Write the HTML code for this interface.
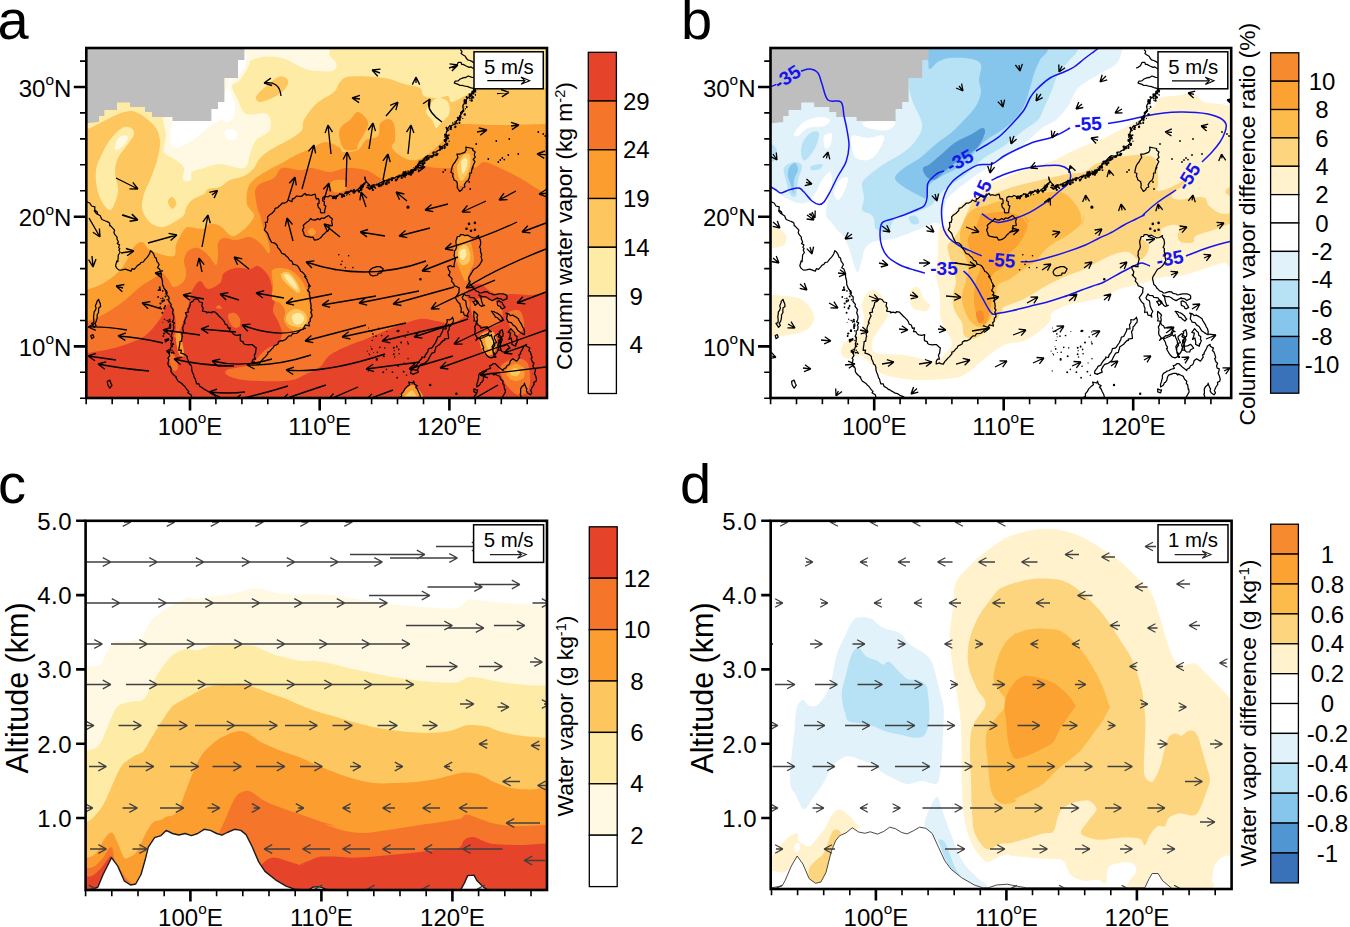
<!DOCTYPE html>
<html><head><meta charset="utf-8"><title>Figure</title>
<style>html,body{margin:0;padding:0;background:#fff}svg{display:block}</style></head>
<body>
<svg width="1350" height="927" viewBox="0 0 1350 927" font-family='"Liberation Sans", sans-serif' fill="#000">
<rect width="1350" height="927" fill="#fff"/>
<defs>
<clipPath id="ca"><rect x="86.3" y="48" width="460.7" height="350"/></clipPath>
<clipPath id="cb"><rect x="770.5" y="48" width="460.7" height="350"/></clipPath>
<clipPath id="cc"><rect x="85.6" y="520.8" width="461.4" height="369.2"/></clipPath>
<clipPath id="cd"><rect x="770.7" y="520.8" width="460.9" height="368.2"/></clipPath>
</defs>
<g clip-path="url(#ca)">
<rect x="86.3" y="48" width="460.7" height="350" fill="#fdc65e"/>
<path d="M80,129C82.9,129 84.3,130 87.6,129C90.9,128 95.3,125.3 100,123C104.7,120.7 111,117 116,115C121,113 126,111.2 130,111C134,110.8 137,112.5 140,114C143,115.5 145.3,117.7 148,120C150.7,122.3 154,124.7 156,128C158,131.3 159.5,136 160,140C160.5,144 159.7,148 159,152C158.3,156 157.5,159.3 156,164C154.5,168.7 152,175 150,180C148,185 145.3,189.3 144,194C142.7,198.7 141.5,203.8 142,208C142.5,212.2 145,216.2 147,219C149,221.8 151.2,223.7 154,225C156.8,226.3 160.3,227.7 164,227C167.7,226.3 172.7,223 176,221C179.3,219 182.3,217.2 184,215C185.7,212.8 184.7,210.5 186,208C187.3,205.5 189,202.3 192,200C195,197.7 201.3,195.8 204,194C206.7,192.2 205.3,190.2 208,189C210.7,187.8 216.3,188.5 220,187C223.7,185.5 226,181.8 230,180C234,178.2 240,178 244,176C248,174 251.3,171 254,168C256.7,165 257,161.2 260,158C263,154.8 266.7,152.3 272,149C277.3,145.7 287,141.2 292,138C297,134.8 300,133 302,130C304,127 301.7,124.3 304,120C306.3,115.7 311,108.7 316,104C321,99.3 330,95.7 334,92C338,88.3 337.3,84.6 340,82C342.7,79.4 342.7,77.1 350,76.4C357.3,75.7 375,76.7 384,78C393,79.3 398,82.3 404,84C410,85.7 416.7,86 420,88C423.3,90 421,94.3 424,96C427,97.7 434,98 438,98C442,98 445.7,95.3 448,96C450.3,96.7 448.7,102.3 452,102C455.3,101.7 464,96 468,94C472,92 470.7,90.9 476,90C481.3,89.1 488,88.9 500,88.6C512,88.3 538,88.1 548,88C558,87.9 558,97.7 560,88C562,78.3 641.7,39.7 560,30C478.3,20.3 151.7,13.5 70,30C-11.7,46.5 68.3,112.5 70,129C71.7,145.5 77.1,129 80,129Z" fill="#feeca6"/>
<path d="M245,48C247.3,50.3 250.8,56.7 250,62C249.2,67.3 243,76 240,80C237,84 232.3,82.7 232,86C231.7,89.3 235.7,95.3 238,100C240.3,104.7 241.2,111.7 246,114C250.8,116.3 263,111.3 267,114C271,116.7 271.8,125.7 270,130C268.2,134.3 259.3,136 256,140C252.7,144 252,149.3 250,154C248,158.7 249,166.3 244,168C239,169.7 226.7,164 220,164C213.3,164 208.7,166.7 204,168C199.3,169.3 194.2,170 192,172C189.8,174 192.5,178.7 191,180C189.5,181.3 184.2,182 183,180C181.8,178 185.2,171.3 184,168C182.8,164.7 179.3,162.7 176,160C172.7,157.3 165.7,156 164,152C162.3,148 166,140.7 166,136C166,131.3 164,127.3 164,124C164,120.7 160,119 166,116C172,113 191,112 200,106C209,100 214,89.7 220,80C226,70.3 231.8,53.3 236,48C240.2,42.7 242.7,45.7 245,48Z" fill="#fff9e3"/>
<path d="M245,46C257.5,42.8 305.8,44.3 320,46C334.2,47.7 327.3,53 330,56C332.7,59 336.1,61.5 336.4,64C336.7,66.5 336.1,69.9 332,71C327.9,72.1 317.3,71.3 312,70.6C306.7,69.9 304.7,68.6 300,66.6C295.3,64.6 289.7,60.3 284,58.6C278.3,56.9 271.3,56.4 266,56.6C260.7,56.8 255.5,58.6 252,60C248.5,61.4 246.2,67.3 245,65C243.8,62.7 232.5,49.2 245,46Z" fill="#fff9e3"/>
<path d="M244.4,52C245.9,53.3 247.7,56.3 247,60C246.3,63.7 242.5,70.7 240,74C237.5,77.3 233.7,77.7 232,80C230.3,82.3 229.5,83.7 230,88C230.5,92.3 234.3,101.3 235,106C235.7,110.7 235.2,113.3 234,116C232.8,118.7 230.3,121.3 228,122C225.7,122.7 223.3,119 220,120C216.7,121 211.7,125.3 208,128C204.3,130.7 201.7,133.3 198,136C194.3,138.7 190,142 186,144C182,146 176.7,149.3 174,148C171.3,146.7 170.3,140 170,136C169.7,132 171.7,127.3 172.4,124C173.1,120.7 166.1,120 174,116C181.9,112 209.3,110.7 220,100C230.7,89.3 233.9,60 238,52C242.1,44 242.9,50.7 244.4,52Z" fill="#ffffff"/>
<path d="M225,131C226.1,129.8 230,128.7 232,129C234,129.3 236.3,131.3 237,133C237.7,134.7 237.3,137.8 236,139C234.7,140.2 230.7,140.5 229,140C227.3,139.5 226.3,137.5 225.6,136C224.9,134.5 223.9,132.2 225,131Z" fill="#ffffff"/>
<path d="M122,128C125.5,126 129,127 131,128C133,129 134.5,131.3 134,134C133.5,136.7 130.7,140 128,144C125.3,148 120.2,153.3 118,158C115.8,162.7 115,167 115,172C115,177 117.8,183.3 118,188C118.2,192.7 117.3,196.3 116,200C114.7,203.7 112.3,209.7 110,210C107.7,210.3 104.2,205.7 102,202C99.8,198.3 98,193.3 97,188C96,182.7 95.2,175.7 96,170C96.8,164.3 99.7,159 102,154C104.3,149 106.7,144.3 110,140C113.3,135.7 118.5,130 122,128Z" fill="#feeca6"/>
<path d="M117,140C118.3,137.8 121.2,136.1 123,135.6C124.8,135.1 127.7,135.6 128,137C128.3,138.4 126.5,142 125,144C123.5,146 120.7,148.2 119,149C117.3,149.8 115.3,150.5 115,149C114.7,147.5 115.7,142.2 117,140Z" fill="#fff9e3"/>
<path d="M256,97C256.7,94.7 260.3,91.3 264,88C267.7,84.7 274.3,78.7 278,77C281.7,75.3 284.3,76.8 286,78C287.7,79.2 288.7,81.7 288,84C287.3,86.3 284.7,89.7 282,92C279.3,94.3 275.7,96.3 272,98C268.3,99.7 262.7,102.2 260,102C257.3,101.8 255.3,99.3 256,97Z" fill="#fdc65e"/>
<path d="M168,202C167.9,200 170.6,196.8 172,197C173.4,197.2 176.3,201 176.4,203C176.5,205 173.8,209.2 172.4,209C171,208.8 168.1,204 168,202Z" fill="#fdc65e"/>
<path d="M438,98C441,97.7 446.2,99.3 448,102C449.8,104.7 450.3,110.3 449,114C447.7,117.7 442.2,121.7 440,124C437.8,126.3 437.3,128.7 436,128C434.7,127.3 433.7,122.7 432,120C430.3,117.3 426.3,114.7 426,112C425.7,109.3 428,106.3 430,104C432,101.7 435,98.3 438,98Z" fill="#feeca6"/>
<path d="M80,289.4C82.9,289.4 83.9,290.3 87.6,289.4C91.3,288.5 97.4,286.4 102,284C106.6,281.6 111.3,278.2 115,275C118.7,271.8 120.8,269.7 124,265C127.2,260.3 131,250.8 134,247C137,243.2 139.5,241.7 142,242C144.5,242.3 146,247 149,249C152,251 155.8,252.8 160,254C164.2,255.2 171.3,257.5 174,256C176.7,254.5 174.7,248.8 176,245C177.3,241.2 180,236 182,233C184,230 184.7,227.7 188,227C191.3,226.3 198.3,229.5 202,229C205.7,228.5 207,224.5 210,224C213,223.5 216.3,224 220,226C223.7,228 228.3,235.2 232,236C235.7,236.8 239,233.2 242,231C245,228.8 248,225.7 250,223C252,220.3 254.5,218.2 254,215C253.5,211.8 248,208.5 247,204C246,199.5 246.5,192.3 248,188C249.5,183.7 252,181.3 256,178C260,174.7 267.7,170.5 272,168C276.3,165.5 278,165.2 282,163C286,160.8 291,157.5 296,155C301,152.5 307,150.2 312,148C317,145.8 321.3,142 326,142C330.7,142 337.2,146.3 340,148C342.8,149.7 340,151.7 343,152C346,152.3 354.2,152 358,150C361.8,148 362.7,142.3 366,140C369.3,137.7 375.7,138.7 378,136C380.3,133.3 378.3,126.8 380,124C381.7,121.2 385.7,119 388,119C390.3,119 392.8,120.5 394,124C395.2,127.5 395.3,136 395,140C394.7,144 390.5,145 392,148C393.5,151 400,156 404,158C408,160 412,160.7 416,160C420,159.3 423.3,157.3 428,154C432.7,150.7 440,144.3 444,140C448,135.7 449.3,130.7 452,128C454.7,125.3 452,124.5 460,124C468,123.5 485.3,125 500,125C514.7,125 538,124.2 548,124C558,123.8 558,75.5 560,124C562,172.5 641.7,366.5 560,415C478.3,463.5 151.7,435.9 70,415C-11.7,394.1 68.3,310.3 70,289.4C71.7,268.5 77.1,289.4 80,289.4Z" fill="#fc9d2f"/>
<path d="M358,112C361,112.3 367,118.3 368,122C369,125.7 365.7,130.3 364,134C362.3,137.7 359.3,141.4 358,144C356.7,146.6 358.3,148.8 356,149.6C353.7,150.4 346.8,151.6 344,149C341.2,146.4 339.3,137.8 339,134C338.7,130.2 340.2,128.3 342,126C343.8,123.7 347.3,122.3 350,120C352.7,117.7 355,111.7 358,112Z" fill="#fc9d2f"/>
<path d="M80,321C82.9,321 83.3,322.3 87.6,321C91.9,319.7 99.9,316.3 106,313C112.1,309.7 118.3,305.3 124,301C129.7,296.7 134.7,291 140,287C145.3,283 152.3,279.3 156,277C159.7,274.7 160,272.7 162,273C164,273.3 166,276.7 168,279C170,281.3 171.3,286.7 174,287C176.7,287.3 182,283.7 184,281C186,278.3 186,274.3 186,271C186,267.7 183.7,264.3 184,261C184.3,257.7 185.7,253.2 188,251C190.3,248.8 194.7,247.3 198,248C201.3,248.7 205,252.2 208,255C211,257.8 214.3,265 216,265C217.7,265 217.7,258.7 218,255C218.3,251.3 217,245.8 218,243C219,240.2 221,238.5 224,238C227,237.5 231.7,240.2 236,240C240.3,239.8 245.7,236.2 250,237C254.3,237.8 259,242.3 262,245C265,247.7 266.7,252.3 268,253C269.3,253.7 270.3,252 270,249C269.7,246 267.2,238.7 266,235C264.8,231.3 264,230.3 263,227C262,223.7 260.8,217.8 260,215C259.2,212.2 258.8,213.8 258,210C257.2,206.2 254.7,196.3 255,192C255.3,187.7 256.8,186.3 260,184C263.2,181.7 270.3,180.7 274,178C277.7,175.3 277.7,169.3 282,168C286.3,166.7 295,170 300,170C305,170 307,167.7 312,168C317,168.3 324.3,172 330,172C335.7,172 340,168.3 346,168C352,167.7 360.3,168.3 366,170C371.7,171.7 376.3,176.3 380,178C383.7,179.7 384,181 388,180C392,179 398.7,174.3 404,172C409.3,169.7 414.7,166.7 420,166C425.3,165.3 430.7,167.7 436,168C441.3,168.3 445.7,168 452,168C458.3,168 468.7,169 474,168C479.3,167 479.7,162 484,162C488.3,162 494,165.3 500,168C506,170.7 514,174.7 520,178C526,181.3 531.3,185.3 536,188C540.7,190.7 544,192.3 548,194C552,195.7 558,161.2 560,198C562,234.8 641.7,378.8 560,415C478.3,451.2 151.7,430.7 70,415C-11.7,399.3 68.3,336.7 70,321C71.7,305.3 77.1,321 80,321Z" fill="#f5762b"/>
<path d="M330,184C330.3,182 333.3,180.5 336,180C338.7,179.5 344.5,179.3 346,181C347.5,182.7 347,188.2 345,190C343,191.8 336.5,193 334,192C331.5,191 329.7,186 330,184Z" fill="#fc9d2f"/>
<path d="M80,353C82.9,353 82.6,353.7 87.6,353C92.6,352.3 102.9,350.7 110,349C117.1,347.3 124,345.3 130,343C136,340.7 141,339 146,335C151,331 156.7,323.7 160,319C163.3,314.3 164.5,309.5 166,307C167.5,304.5 167.7,303.3 169,304C170.3,304.7 172.8,307.2 174,311C175.2,314.8 176,322.7 176,327C176,331.3 173.7,335.7 174,337C174.3,338.3 176.3,338 178,335C179.7,332 182.2,324.3 184,319C185.8,313.7 187.7,307.7 189,303C190.3,298.3 190.2,294.7 192,291C193.8,287.3 197.3,281.3 200,281C202.7,280.7 204.7,288.7 208,289C211.3,289.3 217.3,285.7 220,283C222.7,280.3 221.3,275.5 224,273C226.7,270.5 231.7,268.7 236,268C240.3,267.3 246.3,269.3 250,269C253.7,268.7 255,265 258,266C261,267 265.7,271.5 268,275C270.3,278.5 270.8,283 272,287C273.2,291 274.8,295 275,299C275.2,303 272.5,307.3 273,311C273.5,314.7 276.5,317.3 278,321C279.5,324.7 282,329.3 282,333C282,336.7 280.3,340.5 278,343C275.7,345.5 271,346 268,348C265,350 262.7,352.3 260,355C257.3,357.7 255.3,362 252,364C248.7,366 244.2,366 240,367C235.8,368 229.2,368.7 227,370C224.8,371.3 224.8,373.4 227,375C229.2,376.6 234.5,378.4 240,379.4C245.5,380.4 251.7,380.8 260,381C268.3,381.2 282.3,381.8 290,380.6C297.7,379.4 301,376.3 306,374C311,371.7 316,370.2 320,367C324,363.8 325,358.7 330,355C335,351.3 344,347.7 350,345C356,342.3 361,341 366,339C371,337 374.3,335.3 380,333C385.7,330.7 393.3,327.3 400,325C406.7,322.7 414,319.7 420,319C426,318.3 430.7,320.3 436,321C441.3,321.7 447,324 452,323C457,322 463,318.3 466,315C469,311.7 470,306.3 470,303C470,299.7 466,297.7 466,295C466,292.3 467.7,288.8 470,287C472.3,285.2 476.7,283.3 480,284C483.3,284.7 486.7,289.2 490,291C493.3,292.8 496.3,294.5 500,295C503.7,295.5 507,294 512,294C517,294 524,295.2 530,295C536,294.8 543,293.3 548,293C553,292.7 558,272.7 560,293C562,313.3 641.7,394.7 560,415C478.3,435.3 151.7,425.3 70,415C-11.7,404.7 68.3,363.3 70,353C71.7,342.7 77.1,353 80,353Z" fill="#e5432a"/>
<path d="M272,271C273.2,268.2 276.7,268 280,268C283.3,268 288.3,268.8 292,271C295.7,273.2 299.3,277 302,281C304.7,285 306.7,290.3 308,295C309.3,299.7 310,304.3 310,309C310,313.7 309.7,319.3 308,323C306.3,326.7 303,330 300,331C297,332 292.7,330.7 290,329C287.3,327.3 284.8,324 284,321C283.2,318 285.7,314 285,311C284.3,308 282.2,305 280,303C277.8,301 273.2,302 272,299C270.8,296 273,289.7 273,285C273,280.3 270.8,273.8 272,271Z" fill="#fc9d2f"/>
<path d="M281,274C281.8,272.7 285.7,271.2 288,272C290.3,272.8 293,276.2 295,279C297,281.8 299.5,286.7 300,289C300.5,291.3 299.7,293.3 298,293C296.3,292.7 292.5,289.2 290,287C287.5,284.8 284.5,282.2 283,280C281.5,277.8 280.2,275.3 281,274Z" fill="#fdc65e"/>
<path d="M284,275C283.8,273.5 287,273.5 289,275C291,276.5 294.7,281.5 296,284C297.3,286.5 298,290 297,290C296,290 292.2,286.5 290,284C287.8,281.5 284.2,276.5 284,275Z" fill="#feeca6"/>
<path d="M288,313C289.7,311 293.2,309 296,309C298.8,309 303.2,311 305,313C306.8,315 307.5,318.7 307,321C306.5,323.3 304.5,326.2 302,327C299.5,327.8 294.7,327 292,326C289.3,325 286.7,323.2 286,321C285.3,318.8 286.3,315 288,313Z" fill="#fdc65e"/>
<path d="M292,316C292.7,314.2 297,312.8 299,313C301,313.2 303.5,315.3 304,317C304.5,318.7 303.5,321.8 302,323C300.5,324.2 296.7,325.2 295,324C293.3,322.8 291.3,317.8 292,316Z" fill="#feeca6"/>
<path d="M228,315C228.5,312.8 233,312.3 235,313C237,313.7 239.3,316.7 240,319C240.7,321.3 240.3,325.8 239,327C237.7,328.2 233.8,328 232,326C230.2,324 227.5,317.2 228,315Z" fill="#f5762b"/>
<path d="M216,308C215.5,307.4 218,304.9 219,305C220,305.1 222.5,308.1 222,308.6C221.5,309.1 216.5,308.6 216,308Z" fill="#f5762b"/>
<path d="M176,335C176.5,332.7 178.9,331.7 180,333C181.1,334.3 181.7,339.3 182.4,343C183.1,346.7 184.4,352.8 184,355C183.6,357.2 181.2,357.3 180,356C178.8,354.7 177.7,350.5 177,347C176.3,343.5 175.5,337.3 176,335Z" fill="#fc9d2f"/>
<path d="M169,353C169.7,351.7 172.5,352.7 174,355C175.5,357.3 178,364.3 178,367C178,369.7 175.3,371.7 174,371C172.7,370.3 170.8,366 170,363C169.2,360 168.3,354.3 169,353Z" fill="#f5762b"/>
<path d="M308,232C308,230.7 310.7,228 312,228C313.3,228 316,230.7 316,232C316,233.3 313.3,236 312,236C310.7,236 308,233.3 308,232Z" fill="#fc9d2f"/>
<path d="M458,237C460.2,235.8 465.7,234.3 468,236C470.3,237.7 471,242.8 472,247C473,251.2 474.3,257 474,261C473.7,265 471.3,267.7 470,271C468.7,274.3 467.3,280.3 466,281C464.7,281.7 463.3,277.7 462,275C460.7,272.3 459.3,268.3 458,265C456.7,261.7 454.5,258.7 454,255C453.5,251.3 454.3,246 455,243C455.7,240 455.8,238.2 458,237Z" fill="#fc9d2f"/>
<path d="M459,248C460.3,246 464.2,244.2 466,245C467.8,245.8 469.5,250.2 470,253C470.5,255.8 470.3,260 469,262C467.7,264 463.8,265.8 462,265C460.2,264.2 458.5,259.8 458,257C457.5,254.2 457.7,250 459,248Z" fill="#fdc65e"/>
<path d="M460,251C460.8,249.7 463.9,248.3 465,249C466.1,249.7 466.7,253.2 466.4,255C466.1,256.8 464.1,259.7 463,260C461.9,260.3 460.5,258.5 460,257C459.5,255.5 459.2,252.3 460,251Z" fill="#feeca6"/>
<path d="M472,301C475,297.7 487,297.7 492,299C497,300.3 500.7,305 502,309C503.3,313 502.7,320 500,323C497.3,326 490.3,327.7 486,327C481.7,326.3 476.3,323.3 474,319C471.7,314.7 469,304.3 472,301Z" fill="#f5762b"/>
<path d="M480,335C481.8,332.3 489.2,330 492,331C494.8,332 496.7,337.3 497,341C497.3,344.7 495.8,350.7 494,353C492.2,355.3 488.2,356 486,355C483.8,354 482,350.3 481,347C480,343.7 478.2,337.7 480,335Z" fill="#fc9d2f"/>
<path d="M485,339C485.5,336.8 489.7,335 491,336C492.3,337 493.5,342.8 493,345C492.5,347.2 489.3,350 488,349C486.7,348 484.5,341.2 485,339Z" fill="#fdc65e"/>
<path d="M508,313C509.7,310.3 517.3,308.7 520,311C522.7,313.3 524.7,323 524,327C523.3,331 518.3,335 516,335C513.7,335 511.3,330.7 510,327C508.7,323.3 506.3,315.7 508,313Z" fill="#f5762b"/>
<path d="M500,367C501.7,364 507.7,360 512,359C516.3,358 523,358.3 526,361C529,363.7 529.7,370 530,375C530.3,380 530,387.7 528,391C526,394.3 521.3,395.7 518,395C514.7,394.3 510.7,390 508,387C505.3,384 503.3,380.3 502,377C500.7,373.7 498.3,370 500,367Z" fill="#f5762b"/>
<path d="M506,371C506.8,368.7 511.2,364.7 514,364C516.8,363.3 521.3,364.8 523,367C524.7,369.2 525.2,374.7 524,377C522.8,379.3 518.5,380.8 516,381C513.5,381.2 510.7,379.7 509,378C507.3,376.3 505.2,373.3 506,371Z" fill="#fc9d2f"/>
<path d="M510,371C510.8,369.8 514.3,367.8 516,368C517.7,368.2 519.8,370.7 520,372C520.2,373.3 518.5,375.5 517,376C515.5,376.5 512.2,375.8 511,375C509.8,374.2 509.2,372.2 510,371Z" fill="#fdc65e"/>
<path d="M400,400C397,398.5 402,393.5 404,391C406,388.5 409.3,385 412,385C414.7,385 418.3,388.5 420,391C421.7,393.5 425.3,398.5 422,400C418.7,401.5 403,401.5 400,400Z" fill="#fc9d2f"/>
<path d="M404,400C402.5,398.8 406.5,394.5 408,393C409.5,391.5 411.5,389.8 413,391C414.5,392.2 418.5,398.5 417,400C415.5,401.5 405.5,401.2 404,400Z" fill="#fdc65e"/>
<path d="M454,168C454.5,164.3 456.3,161 458,158C459.7,155 461.8,151.5 464,150C466.2,148.5 469.3,148 471,149C472.7,150 473.8,152.8 474,156C474.2,159.2 473.2,164 472,168C470.8,172 468.8,177 467,180C465.2,183 463,186 461,186C459,186 456.2,183 455,180C453.8,177 453.5,171.7 454,168Z" fill="#fc9d2f"/>
<path d="M457,168C457,164.7 458.7,162.3 460,160C461.3,157.7 463.3,154.8 465,154C466.7,153.2 469.2,153 470,155C470.8,157 470.8,162.2 470,166C469.2,169.8 466.7,175.7 465,178C463.3,180.3 461.3,181.7 460,180C458.7,178.3 457,171.3 457,168Z" fill="#fdc65e"/>
<path d="M461,164C461,161.5 462,159.8 463,159C464,158.2 466.3,157.8 467,159C467.7,160.2 467.7,163.5 467,166C466.3,168.5 464,174.3 463,174C462,173.7 461,166.5 461,164Z" fill="#feeca6"/>
<path d="M80,40L244.4,40L244.4,60L238,60L238,78L224.4,78L224.4,102L218,102L218,109L211.4,109L211.4,121L172.4,121L172.4,117L152,117L152,112L145,112L145,107L130,107L130,102.4L117,102.4L117,110L104.4,110L104.4,116L99,116L99,122L80,124Z" fill="#bebebe"/>
</g>
<g clip-path="url(#cb)">
<rect x="770.5" y="48" width="460.7" height="350" fill="#fff"/>
<path d="M754,30C815.3,3.8 1060.7,26.7 1122,30C1183.3,33.3 1123,43.9 1122,49.6C1121,55.3 1120.3,59.6 1116,64C1111.7,68.4 1102.3,72 1096,76C1089.7,80 1082.7,83 1078,88C1073.3,93 1071.7,100.7 1068,106C1064.3,111.3 1060.3,116.3 1056,120C1051.7,123.7 1047.3,124 1042,128C1036.7,132 1030.3,139 1024,144C1017.7,149 1010.7,153.7 1004,158C997.3,162.3 990.7,165.7 984,170C977.3,174.3 970,179.3 964,184C958,188.7 951.3,193.7 948,198C944.7,202.3 945.3,205.8 944,210C942.7,214.2 941.7,220.8 940,223C938.3,225.2 937.3,222 934,223C930.7,224 925,227 920,229C915,231 908.7,233.3 904,235C899.3,236.7 896.7,238 892,239C887.3,240 880.3,239.7 876,241C871.7,242.3 868.3,244 866,247C863.7,250 863.3,254.8 862,259C860.7,263.2 859.3,271 858,272C856.7,273 855.3,268.5 854,265C852.7,261.5 851.7,255.7 850,251C848.3,246.3 846,240.3 844,237C842,233.7 840,233.3 838,231C836,228.7 834,225.7 832,223C830,220.3 826.7,218.8 826,215C825.3,211.2 827,205.2 828,200C829,194.8 831.7,188.7 832,184C832.3,179.3 831.7,172.7 830,172C828.3,171.3 824.3,176.7 822,180C819.7,183.3 818.3,188.3 816,192C813.7,195.7 811,200.2 808,202C805,203.8 801.3,203.5 798,203C794.7,202.5 791.3,200.7 788,199C784.7,197.3 780.7,195 778,193C775.3,191 775.6,188 771.6,187C767.6,186 756.9,213.2 754,187C751.1,160.8 692.7,56.2 754,30Z" fill="#e1f2fa"/>
<path d="M794,134C795,131.7 799.7,124.8 804,122C808.3,119.2 815.7,117.3 820,117C824.3,116.7 829.3,118.5 830,120C830.7,121.5 827.7,124.7 824,126C820.3,127.3 812.3,126.3 808,128C803.7,129.7 800.3,135 798,136C795.7,137 793,136.3 794,134Z" fill="#fff"/>
<path d="M824,136C825.2,133.7 831,132.3 832,134C833,135.7 831.2,143.7 830,146C828.8,148.3 826,149.7 825,148C824,146.3 822.8,138.3 824,136Z" fill="#fff"/>
<path d="M852,136C854.7,134.3 862.7,138 868,138C873.3,138 882.3,133.7 884,136C885.7,138.3 880.7,148 878,152C875.3,156 871.7,159 868,160C864.3,161 858.7,160 856,158C853.3,156 852.7,151.7 852,148C851.3,144.3 849.3,137.7 852,136Z" fill="#fff"/>
<path d="M864,122C868.3,120.8 890,119.7 894,121C898,122.3 892.3,128.8 888,130C883.7,131.2 872,129.3 868,128C864,126.7 859.7,123.2 864,122Z" fill="#fff"/>
<path d="M840,180C842.3,177.7 847.3,176 848,178C848.7,180 845.7,188.3 844,192C842.3,195.7 839.7,200 838,200C836.3,200 833.7,195.3 834,192C834.3,188.7 837.7,182.3 840,180Z" fill="#fff"/>
<path d="M804,140C805.8,137 809.5,133.2 812,132C814.5,130.8 818.3,130.7 819,133C819.7,135.3 817.8,141.8 816,146C814.2,150.2 810.2,155.7 808,158C805.8,160.3 804.2,161.3 803,160C801.8,158.7 800.8,153.3 801,150C801.2,146.7 802.2,143 804,140Z" fill="#b7e2f5"/>
<path d="M784,168C785.3,165 791,162.3 794,162C797,161.7 801.3,163 802,166C802.7,169 799,175 798,180C797,185 797.3,193.7 796,196C794.7,198.3 791.7,196.7 790,194C788.3,191.3 787,184.3 786,180C785,175.7 782.7,171 784,168Z" fill="#b7e2f5"/>
<path d="M789,168C790.2,165.8 793.5,162.7 795,163C796.5,163.3 798.2,167.2 798,170C797.8,172.8 794.7,176 794,180C793.3,184 794.5,193 794,194C793.5,195 792,189 791,186C790,183 788.3,179 788,176C787.7,173 787.8,170.2 789,168Z" fill="#86c6ec"/>
<path d="M768,144C769.3,142 774.7,145.3 776,148C777.3,150.7 777.3,158 776,160C774.7,162 769.3,162.7 768,160C766.7,157.3 766.7,146 768,144Z" fill="#b7e2f5"/>
<path d="M811,166C812.7,165 820.5,163.5 822,164C823.5,164.5 821.7,168 820,169C818.3,170 813.5,170.5 812,170C810.5,169.5 809.3,167 811,166Z" fill="#b7e2f5"/>
<path d="M908.4,30C936.7,22 1049.7,26.7 1078,30C1106.3,33.3 1079.7,44.3 1078,49.6C1076.3,54.9 1071.3,57.9 1068,62C1064.7,66.1 1060.7,69.3 1058,74C1055.3,78.7 1054.3,84.3 1052,90C1049.7,95.7 1046.3,103 1044,108C1041.7,113 1041.3,116.3 1038,120C1034.7,123.7 1029.7,125.7 1024,130C1018.3,134.3 1010.7,141.3 1004,146C997.3,150.7 990.7,153 984,158C977.3,163 970.7,170.7 964,176C957.3,181.3 949,185.7 944,190C939,194.3 936.3,199.3 934,202C931.7,204.7 933,204.3 930,206C927,207.7 920.3,210.7 916,212C911.7,213.3 907.7,212.7 904,214C900.3,215.3 896,218.5 894,220C892,221.5 893,221.2 892,223C891,224.8 890.7,230 888,231C885.3,232 878.3,231 876,229C873.7,227 875,221.5 874,219C873,216.5 872,215.5 870,214C868,212.5 863,212.7 862,210C861,207.3 864,202.3 864,198C864,193.7 861.3,187.7 862,184C862.7,180.3 864.3,179.3 868,176C871.7,172.7 878,168 884,164C890,160 898.7,156 904,152C909.3,148 913,144.7 916,140C919,135.3 922.7,130.7 922,124C921.3,117.3 914.3,107.7 912,100C909.7,92.3 909,89.7 908.4,78C907.8,66.3 880.1,38 908.4,30Z" fill="#b7e2f5"/>
<path d="M909,217C909.7,215.7 914.3,215 916,216C917.7,217 919.7,221.7 919,223C918.3,224.3 913.7,225 912,224C910.3,223 908.3,218.3 909,217Z" fill="#b7e2f5"/>
<path d="M928.4,30C948.3,24.7 1028.1,26.7 1048,30C1067.9,33.3 1049.3,44.6 1048,49.6C1046.7,54.6 1042.3,55.9 1040,60C1037.7,64.1 1035.7,69.3 1034,74C1032.3,78.7 1031.7,82.7 1030,88C1028.3,93.3 1026.7,100.7 1024,106C1021.3,111.3 1017.7,116 1014,120C1010.3,124 1007,126.3 1002,130C997,133.7 990.3,136.3 984,142C977.7,147.7 970.7,158.5 964,164C957.3,169.5 949.5,171.8 944,175C938.5,178.2 933.7,180.7 931,183C928.3,185.3 928.8,186.5 928,189C927.2,191.5 927.3,196.8 926,198C924.7,199.2 923.7,197.8 920,196C916.3,194.2 908.2,190 904,187C899.8,184 895,181.2 895,178C895,174.8 899.8,171.3 904,168C908.2,164.7 914.7,162 920,158C925.3,154 930.7,148.3 936,144C941.3,139.7 947.3,136 952,132C956.7,128 960,124.3 964,120C968,115.7 973.2,110.7 976,106C978.8,101.3 980.5,96.3 981,92C981.5,87.7 979,84.5 979,80C979,75.5 982.2,68.5 981,65C979.8,61.5 977.2,60.2 972,59C966.8,57.8 955.7,57.5 950,58C944.3,58.5 941.3,60.2 938,62C934.7,63.8 931.6,69 930,69C928.4,69 928.7,68.5 928.4,62C928.1,55.5 908.5,35.3 928.4,30Z" fill="#86c6ec"/>
<path d="M923,168C923.7,166 926.5,166.7 930,164C933.5,161.3 939.7,155.7 944,152C948.3,148.3 951.3,145 956,142C960.7,139 967.7,136.3 972,134C976.3,131.7 979.8,128.3 982,128C984.2,127.7 985.3,129.3 985,132C984.7,134.7 982.2,140.7 980,144C977.8,147.3 976,149 972,152C968,155 960.7,158.7 956,162C951.3,165.3 947.7,169 944,172C940.3,175 937,179.3 934,180C931,180.7 927.8,178 926,176C924.2,174 922.3,170 923,168Z" fill="#4f96d2"/>
<path d="M1244,106C1242,79.5 1236,106.3 1232,106C1228,105.7 1224.7,104.7 1220,104C1215.3,103.3 1208.3,103.7 1204,102C1199.7,100.3 1199,95 1194,94C1189,93 1179.7,95.3 1174,96C1168.3,96.7 1163.3,96.3 1160,98C1156.7,99.7 1156.7,103 1154,106C1151.3,109 1149,112.3 1144,116C1139,119.7 1130.7,124.3 1124,128C1117.3,131.7 1110.7,135 1104,138C1097.3,141 1089.7,143.7 1084,146C1078.3,148.3 1075,149.7 1070,152C1065,154.3 1061.7,157 1054,160C1046.3,163 1032.3,167 1024,170C1015.7,173 1010.7,175.3 1004,178C997.3,180.7 988,183.3 984,186C980,188.7 983.3,191.3 980,194C976.7,196.7 968.7,198.7 964,202C959.3,205.3 954.7,210.2 952,214C949.3,217.8 950,222.8 948,225C946,227.2 941.7,224 940,227C938.3,230 938.3,238.3 938,243C937.7,247.7 938.3,249.7 938,255C937.7,260.3 935.7,268.3 936,275C936.3,281.7 939.3,288.3 940,295C940.7,301.7 939.3,309.7 940,315C940.7,320.3 942,322.3 944,327C946,331.7 952,338.3 952,343C952,347.7 947,352 944,355C941,358 940.7,361 934,361C927.3,361 913.7,356.3 904,355C894.3,353.7 881.3,355 876,353C870.7,351 871.7,346.7 872,343C872.3,339.3 875.3,335.7 878,331C880.7,326.3 887,320.3 888,315C889,309.7 886.3,303.2 884,299C881.7,294.8 877,290.7 874,290C871,289.3 868,292.5 866,295C864,297.5 862.3,301 862,305C861.7,309 864.7,314 864,319C863.3,324 861.3,331 858,335C854.7,339 846.8,340 844,343C841.2,346 840.3,350.3 841,353C841.7,355.7 844.8,358.7 848,359C851.2,359.3 856.3,354.3 860,355C863.7,355.7 866.7,360 870,363C873.3,366 876,370.7 880,373C884,375.3 888.3,375.8 894,377C899.7,378.2 905.7,379.7 914,380C922.3,380.3 935.7,379.8 944,379C952.3,378.2 957.3,378.3 964,375C970.7,371.7 977.3,364 984,359C990.7,354 997.3,348 1004,345C1010.7,342 1018,343.3 1024,341C1030,338.7 1035.7,334.3 1040,331C1044.3,327.7 1048,324 1050,321C1052,318 1049,315.7 1052,313C1055,310.3 1062,307 1068,305C1074,303 1082,302.3 1088,301C1094,299.7 1098.7,299 1104,297C1109.3,295 1114.7,291 1120,289C1125.3,287 1131,286.3 1136,285C1141,283.7 1145.3,282.3 1150,281C1154.7,279.7 1158.3,278 1164,277C1169.7,276 1177.3,276.3 1184,275C1190.7,273.7 1197.3,271 1204,269C1210.7,267 1217.3,263.7 1224,263C1230.7,262.3 1240.7,291.2 1244,265C1247.3,238.8 1246,132.5 1244,106Z" fill="#fff2cd"/>
<path d="M760,229C762.7,225.8 771.7,227 776,228C780.3,229 784.7,232.2 786,235C787.3,237.8 786.3,242.8 784,245C781.7,247.2 776,247.7 772,248C768,248.3 762,250.2 760,247C758,243.8 757.3,232.2 760,229Z" fill="#fff2cd"/>
<path d="M760,299C765.7,293 786,296 794,297C802,298 804.7,301.7 808,305C811.3,308.3 814,313 814,317C814,321 812.3,326 808,329C803.7,332 796,334.3 788,335C780,335.7 764.7,339 760,333C755.3,327 754.3,305 760,299Z" fill="#fff2cd"/>
<path d="M910,291C911.3,288.7 915.7,285.7 918,287C920.3,288.3 922,296 924,299C926,302 929.7,303 930,305C930.3,307 928.7,310.3 926,311C923.3,311.7 916.7,310.7 914,309C911.3,307.3 910.7,304 910,301C909.3,298 908.7,293.3 910,291Z" fill="#fff2cd"/>
<path d="M1236,214C1238.6,215.3 1239.2,218.6 1236,221C1232.8,223.4 1221.7,226.8 1216.5,228.7C1211.3,230.6 1208.5,231.3 1204.9,232.6C1201.3,233.9 1197,234.9 1195,236.5C1193,238.1 1195.4,241.3 1193.2,242.3C1191,243.3 1184.2,243.3 1181.6,242.3C1179,241.3 1178,239.1 1177.7,236.5C1177.4,233.9 1180.6,228.7 1179.6,226.8C1178.6,224.9 1174.7,224.6 1171.8,224.9C1168.9,225.2 1164,226.8 1162,228.7C1160,230.6 1161.9,235.5 1160,236.5C1158.1,237.5 1153.8,234.5 1150.5,234.6C1147.2,234.7 1140.3,235.4 1140,237C1139.7,238.6 1147.4,241.5 1148.5,244.3C1149.6,247.1 1148.2,251.4 1146.6,254C1145,256.6 1141.9,260.1 1138.8,259.8C1135.7,259.5 1132.5,252.8 1128,252C1123.5,251.2 1117.3,253.2 1112,255C1106.7,256.8 1101.3,260.3 1096,263C1090.7,265.7 1085.3,268.7 1080,271C1074.7,273.3 1070,274.3 1064,277C1058,279.7 1050.7,283.3 1044,287C1037.3,290.7 1030.7,295.7 1024,299C1017.3,302.3 1007.7,305 1004,307C1000.3,309 1003.7,308.3 1002,311C1000.3,313.7 997,319.3 994,323C991,326.7 987.7,330.3 984,333C980.3,335.7 975.3,338.7 972,339C968.7,339.3 965.7,337.7 964,335C962.3,332.3 963.7,327.3 962,323C960.3,318.7 955.5,313.7 954,309C952.5,304.3 952.7,299.7 953,295C953.3,290.3 956.2,286 956,281C955.8,276 953.3,270 952,265C950.7,260 948.7,254.3 948,251C947.3,247.7 946.7,247.7 948,245C949.3,242.3 953.7,238.3 956,235C958.3,231.7 960.3,228.3 962,225C963.7,221.7 964,219.2 966,215C968,210.8 971,202.8 974,200C977,197.2 979,199.7 984,198C989,196.3 997.3,192.3 1004,190C1010.7,187.7 1016.3,186 1024,184C1031.7,182 1042.7,179.7 1050,178C1057.3,176.3 1062.3,175 1068,174C1073.7,173 1079.3,173.7 1084,172C1088.7,170.3 1091,166.3 1096,164C1101,161.7 1107.7,159.5 1114,158C1120.3,156.5 1129.9,155.5 1134,155C1138.1,154.5 1135.7,154.7 1138.8,155C1141.9,155.3 1149.4,155.2 1152.4,156.9C1155.4,158.6 1156.1,160.3 1157,165C1157.9,169.7 1158.2,180.8 1158,185C1157.8,189.2 1155,189.2 1156,190C1157,190.8 1160.4,191 1164,190C1167.6,189 1173.8,185.9 1177.7,184C1181.6,182.1 1186.7,178 1187.4,178.3C1188.1,178.6 1184.6,183.1 1182,186C1179.4,188.9 1172.5,193.4 1171.8,195.7C1171.1,198 1174.1,199.3 1177.7,199.6C1181.3,199.9 1188.7,198 1193.2,197.7C1197.7,197.4 1202.3,196.4 1204.9,197.7C1207.5,199 1206.1,202.8 1208.7,205.4C1211.3,208 1215.9,211.8 1220.4,213.2C1225,214.6 1233.4,212.7 1236,214Z" fill="#fdd57e"/>
<path d="M1226,190C1227.3,188.2 1234.3,183 1236,184C1237.7,185 1237.3,194.2 1236,196C1234.7,197.8 1229.7,196 1228,195C1226.3,194 1224.7,191.8 1226,190Z" fill="#fdd57e"/>
<path d="M1084,215C1083.7,215 1082.7,221.7 1080,225C1077.3,228.3 1072.3,232 1068,235C1063.7,238 1058,240.3 1054,243C1050,245.7 1047,248 1044,251C1041,254 1039.3,258 1036,261C1032.7,264 1028.3,266 1024,269C1019.7,272 1014.3,276.3 1010,279C1005.7,281.7 1000.3,282.3 998,285C995.7,287.7 996.7,291.3 996,295C995.3,298.7 995,303 994,307C993,311 992,315.7 990,319C988,322.3 985,326.3 982,327C979,327.7 975,326 972,323C969,320 965.7,313.7 964,309C962.3,304.3 961.7,299.7 962,295C962.3,290.3 965,286 966,281C967,276 968.7,270.3 968,265C967.3,259.7 963.3,254 962,249C960.7,244 959.7,239.7 960,235C960.3,230.3 962,225.2 964,221C966,216.8 968.7,212.5 972,210C975.3,207.5 978.7,207.7 984,206C989.3,204.3 995.7,202 1004,200C1012.3,198 1024.7,195.3 1034,194C1043.3,192.7 1053.7,191 1060,192C1066.3,193 1068.7,196.7 1072,200C1075.3,203.3 1078.3,207.8 1080,212C1081.7,216.2 1081.3,224.5 1082,225C1082.7,225.5 1084.3,215 1084,215Z" fill="#fdbb4c"/>
<path d="M1024,215C1024,214.3 1027.7,218.3 1028,221C1028.3,223.7 1027.7,227 1026,231C1024.3,235 1021,241 1018,245C1015,249 1010.5,251.3 1008,255C1005.5,258.7 1005.3,264 1003,267C1000.7,270 996.2,270.7 994,273C991.8,275.3 990.3,277.3 990,281C989.7,284.7 992,290 992,295C992,300 991,306.3 990,311C989,315.7 987.7,321 986,323C984.3,325 981.8,325.3 980,323C978.2,320.7 976,313.7 975,309C974,304.3 973.8,299.7 974,295C974.2,290.3 975,285.7 976,281C977,276.3 980.7,271.3 980,267C979.3,262.7 974,259.7 972,255C970,250.3 967.3,243.7 968,239C968.7,234.3 974,230.8 976,227C978,223.2 978.7,218.2 980,216C981.3,213.8 980,214.7 984,214C988,213.3 998,211.7 1004,212C1010,212.3 1016,213.8 1020,216C1024,218.2 1027.3,225.2 1028,225C1028.7,224.8 1024,215.7 1024,215Z" fill="#fba232"/>
<path d="M976,313C976.5,311 980.7,310 982,311C983.3,312 984.5,317 984,319C983.5,321 980.3,324 979,323C977.7,322 975.5,315 976,313Z" fill="#f58a2e"/>
<path d="M764.2,40L928.6,40L928.6,60L922.2,60L922.2,78L908.6,78L908.6,102L902.2,102L902.2,109L895.6,109L895.6,121L856.6,121L856.6,117L836.2,117L836.2,112L829.2,112L829.2,107L814.2,107L814.2,102.4L801.2,102.4L801.2,110L788.6,110L788.6,116L783.2,116L783.2,122L764.2,124Z" fill="#bebebe"/>
</g>
<g clip-path="url(#cc)">
<rect x="85.6" y="520.8" width="461.4" height="369.2" fill="#fff"/>
<path d="M65.6,665.7C69.3,625 82.1,665.8 87.8,665.7C93.4,665.5 96.7,666.2 99.5,664.7C102.3,663.1 102.7,659.5 104.6,656.5C106.5,653.4 108.7,648.9 110.8,646.2C112.8,643.5 114.5,641.1 116.9,640.5C119.3,639.8 122,642.2 125.1,642.1C128.2,642 132.6,640.7 135.4,640.1C138.1,639.4 139.8,639.7 141.5,638C143.2,636.3 143.9,632.9 145.6,629.8C147.3,626.7 149.4,622.3 151.8,619.6C154.1,616.8 157.2,615.5 160,613.4C162.7,611.4 165.1,609.1 168.2,607.3C171.2,605.4 175,603.8 178.4,602.1C181.8,600.4 185.9,597.5 188.7,597C191.4,596.5 191.7,599.1 194.8,599.1C197.9,599.1 202.3,597.7 207.1,597C211.9,596.3 218.4,595.7 223.5,595C228.6,594.2 233.1,593.6 237.9,592.5C242.6,591.4 247.8,588.8 252.2,588.4C256.6,587.9 260.4,589.1 264.5,589.8C268.6,590.6 271.7,592.1 276.8,592.9C281.9,593.7 288.8,594.4 295.3,594.5C301.7,594.7 308.9,593.8 315.8,593.9C322.6,594.1 330.3,594.7 336.3,595.4C342.2,596 345.5,597.1 351.5,598C357.5,599 365.2,600.1 372,601.1C378.8,602.1 385.7,603.3 392.5,604.2C399.3,605 406.2,605.6 413,606.2C419.8,606.8 426.7,607.3 433.5,607.7C440.3,608 449.2,608.7 454,608.3C458.8,607.9 459.8,606.7 462.2,605.2C464.6,603.7 465.6,600.3 468.4,599.5C471.1,598.6 474.2,599.6 478.6,600.1C483,600.5 488.9,601.5 495,602.1C501.2,602.7 506.8,603 515.5,603.6C524.2,604.1 538.7,604.9 547.3,605.2C555.9,605.5 563.7,554.4 567,605.2C570.3,656 650.6,859.2 567,910C483.4,960.8 149.2,950.7 65.6,910C-18,869.3 61.9,706.4 65.6,665.7Z" fill="#fff9e3"/>
<path d="M65.6,750.5C69.1,723.9 80.8,751.3 86.3,750.5C91.9,749.6 95.4,749.1 98.9,745.2C102.4,741.4 104.9,732.8 107.3,727.3C109.8,721.9 111.7,716.3 113.6,712.6C115.6,708.9 116.1,707.1 118.9,705.3C121.7,703.4 126.7,702.5 130.5,701.7C134.2,700.9 138.6,701.9 141.5,700.5C144.4,699.1 145.3,697.3 147.7,693.4C150,689.4 153.1,681.7 155.9,677C158.6,672.2 161.3,668.2 164.1,664.7C166.8,661.1 168.8,658 172.3,655.4C175.7,652.9 180.5,650.1 184.6,649.3C188.7,648.4 192.4,650.9 196.9,650.3C201.3,649.7 206.1,646.6 211.2,645.8C216.3,644.9 222.1,645.3 227.6,645.2C233.1,645.1 239.6,645 244,645.2C248.4,645.3 250.2,645 254.3,646.2C258.4,647.4 263.5,650.5 268.6,652.4C273.7,654.2 279.5,656 285,657.5C290.5,658.9 296.3,660.4 301.4,661C306.5,661.5 309.9,660.3 315.8,661C321.6,661.6 330.3,663.4 336.3,664.7C342.2,665.9 345.5,667.4 351.5,668.8C357.5,670.1 365.2,671.5 372,672.9C378.8,674.2 385.7,675.8 392.5,677C399.3,678.1 406.2,679.2 413,680C419.8,680.9 426.7,681.6 433.5,682.1C440.3,682.5 449.2,683 454,682.7C458.8,682.4 459.8,681 462.2,680C464.6,679.1 465.3,677.3 468.4,677C471.4,676.6 476.2,677.3 480.7,678C485.1,678.7 489.2,680 495,681.1C500.8,682.1 508.7,683.4 515.5,684.1C522.3,684.9 530.7,685.4 536,685.6C541.3,685.7 542.1,685.2 547.3,685.2C552.4,685.1 563.7,647.7 567,685.2C570.3,722.6 650.6,872.5 567,910C483.4,947.5 149.2,936.6 65.6,910C-18,883.4 62.1,777.1 65.6,750.5Z" fill="#feeca6"/>
<path d="M65.6,822C69.1,807.3 81.1,823.4 86.3,822C91.5,820.5 93.7,817 96.8,813.5C100,810 102.4,806.2 105.2,800.9C108,795.7 110.8,788 113.6,782C116.4,776 118.5,769.6 122.1,765.2C125.6,760.8 131.2,758 134.7,755.7C138.2,753.4 140.3,754.5 143.1,751.5C145.9,748.5 148.3,742.9 151.5,737.8C154.6,732.8 158.8,725.9 162,721C165.2,716.1 167.6,711.6 170.4,708.4C173.2,705.3 175.4,704.3 178.8,702.1C182.2,699.9 186,697.9 190.7,695.4C195.4,692.9 201.6,689 207.1,687.2C212.6,685.4 218,685.4 223.5,684.7C229,684.1 234.8,683.1 239.9,683.5C245,683.9 249.1,685.6 254.3,687.2C259.4,688.8 265.5,691.5 270.7,693.4C275.8,695.2 278.3,695.8 285,698.5C291.7,701.2 303.2,706.6 311,709.5C318.9,712.3 325,713.7 332.1,715.8C339.1,717.9 346.1,720.1 353.1,722.1C360.1,724 367.1,725.9 374.1,727.3C381.1,728.7 388.1,729.6 395.1,730.5C402.1,731.4 409.1,732.2 416.2,732.6C423.2,732.9 431.2,732.9 437.2,732.6C443.1,732.2 447,731.7 451.9,730.5C456.8,729.3 461,725.9 466.6,725.2C472.2,724.5 479.9,725.2 485.5,726.3C491.1,727.3 494.3,730 500.3,731.5C506.2,733.1 513.5,734.7 521.3,735.7C529.1,736.8 539.3,737.5 546.9,737.8C554.6,738.2 563.7,709.2 567,737.8C570.3,766.5 650.6,881.3 567,910C483.4,938.7 149.2,924.7 65.6,910C-18,895.3 62.1,836.6 65.6,822Z" fill="#fdc65e"/>
<path d="M65.6,857.7C69.1,849 81.1,858.6 86.3,857.7C91.5,856.8 94,855.2 96.8,852.4C99.6,849.6 100.7,844.2 103.1,840.9C105.6,837.5 109.1,832.1 111.5,832.5C114,832.8 115.7,838.8 117.8,843C119.9,847.2 122.1,855.4 124.2,857.7C126.3,860 128.4,857.7 130.5,856.6C132.6,855.6 134.7,854.4 136.8,851.4C138.9,848.4 141.3,842.3 143.1,838.8C144.8,835.3 145.5,833.2 147.3,830.4C149,827.6 151.3,823.7 153.6,822C155.9,820.2 158.8,820.7 161,819.8C163.1,819 164.3,817.4 166.2,816.7C168.1,816 170.4,816.9 172.5,815.6C174.6,814.4 176.7,813.2 178.8,809.3C180.9,805.5 182.7,798.8 185.1,792.5C187.6,786.2 190.7,777.8 193.5,771.5C196.3,765.2 198.4,759.6 202,754.7C205.5,749.8 210.4,745.4 214.6,742.1C218.8,738.7 223,736.5 227.2,734.7C231.4,732.9 236.3,731.3 239.8,731.1C243.3,730.9 244.7,731.8 248.2,733.6C251.7,735.5 255.6,739.2 260.8,742.1C266.1,744.9 273.1,747.8 279.7,750.5C286.4,753.1 293.8,755 300.8,757.8C307.8,760.6 313.6,764 321.8,767.3C330,770.6 341.3,775.2 350,777.8C358.7,780.4 366.6,782.2 374.1,783.1C381.6,783.9 388.1,783.2 395.1,783.1C402.1,782.9 409.1,782.7 416.2,782C423.2,781.3 430.9,780.1 437.2,778.8C443.5,777.6 449.4,775.7 454,774.6C458.6,773.6 460.3,772.5 464.5,772.5C468.7,772.5 474,772.9 479.2,774.6C484.5,776.4 490.4,780.8 496.1,783.1C501.7,785.3 506.9,787.3 512.9,788.3C518.8,789.4 526.1,789.5 531.8,789.4C537.5,789.2 541.1,787.6 546.9,787.3C552.8,786.9 563.7,766.8 567,787.3C570.3,807.7 650.6,889.5 567,910C483.4,930.5 149.2,918.7 65.6,910C-18,901.3 62.1,866.4 65.6,857.7Z" fill="#fc9d2f"/>
<path d="M65.6,868.2C69.1,861.2 81.5,868.6 86.3,868.2C91.2,867.9 91.9,867.9 94.7,866.1C97.5,864.4 100.3,860.8 103.1,857.7C105.9,854.5 109.1,845.8 111.5,847.2C114,848.6 112.6,859.1 117.8,866.1C123.1,873.1 128.4,885.4 143.1,889.2C157.8,893.1 193.9,895.5 206.2,889.2C218.4,882.9 214.6,860.5 216.7,851.4C218.8,842.3 217.4,839.8 218.8,834.6C220.2,829.3 223,824.8 225.1,819.8C227.2,814.9 229.3,809.3 231.4,805.1C233.5,800.9 235.2,797 237.7,794.6C240.1,792.2 243.7,791.2 246.1,790.8C248.6,790.5 249.6,791 252.4,792.5C255.2,794 258.4,797.4 262.9,799.9C267.5,802.3 273.4,804.8 279.7,807.2C286.1,809.7 293.8,812.1 300.8,814.6C307.8,817 315.8,820 321.8,822C327.8,823.9 339.7,826.5 336.5,826.2C333.3,825.8 305.1,820.4 302.6,819.8C300.1,819.3 314.9,821.3 321.5,823C328.2,824.8 335.6,828.7 342.6,830.4C349.6,832 356.6,832.9 363.6,832.9C370.6,832.9 377.6,831.3 384.6,830.4C391.6,829.4 398.6,828.3 405.6,827.2C412.7,826.2 419.7,825.1 426.7,824.1C433.7,823 442.1,821.8 447.7,820.9C453.3,820 457.2,819.8 460.3,818.8C463.5,817.7 463.5,814.6 466.6,814.6C469.8,814.6 474.3,817.2 479.2,818.8C484.1,820.4 489.7,822.8 496.1,824.1C502.4,825.3 508.6,826 517.1,826.2C525.6,826.3 538.6,825.3 546.9,825.1C555.3,824.9 563.7,811 567,825.1C570.3,839.3 650.6,895.9 567,910C483.4,924.1 149.2,917 65.6,910C-18,903 62.1,875.2 65.6,868.2Z" fill="#f5762b"/>
<path d="M65.6,876.6C69.1,871.1 81.8,876.8 86.3,876.6C90.8,876.4 90.2,877 92.6,875.6C95.1,874.2 98.6,870.8 101,868.2C103.5,865.6 105.6,861.7 107.3,859.8C109.1,857.9 110,854.5 111.5,856.6C113.1,858.7 111.5,866.3 116.8,872.4C122.1,878.5 121.2,889.9 143.1,893.4C165,896.9 228.9,895.9 248.2,893.4C267.5,891 256.5,883.3 258.7,878.7C260.9,874.2 259.8,869.3 261.2,866.1C262.6,863 264.7,861.2 267.1,859.8C269.5,858.4 271.7,857.3 275.5,857.7C279.4,858 285.7,860.7 290.3,861.9C294.8,863.1 299.4,865.4 302.9,865.1C306.4,864.7 308.1,861.2 311.3,859.8C314.4,858.4 317.6,857 321.8,856.6C326,856.3 340.1,856.3 336.5,857.7C333,859.1 304.1,864.9 300.5,865.1C297,865.2 310,860.1 315.2,858.7C320.5,857.3 325.7,856.8 332.1,856.6C338.4,856.5 346.1,857.7 353.1,857.7C360.1,857.7 367.1,857.2 374.1,856.6C381.1,856.1 388.1,855.2 395.1,854.5C402.1,853.8 409.1,853.2 416.2,852.4C423.2,851.6 430.2,850.4 437.2,849.7C444.2,849 453.7,849.9 458.2,848.2C462.8,846.6 462.1,841.7 464.5,839.8C467,838 469.8,836.9 472.9,837.1C476.1,837.3 479.9,839.7 483.4,840.9C486.9,842 487.6,843.3 494,844C500.3,844.7 512.5,845.1 521.3,845.1C530.1,845 539.3,843.9 546.9,843.6C554.6,843.4 563.7,832.5 567,843.6C570.3,854.7 650.6,898.9 567,910C483.4,921.1 149.2,915.6 65.6,910C-18,904.4 62.1,882.2 65.6,876.6Z" fill="#e5432a"/>
<path d="M73.7,910.3L73.7,890.3L86.3,890.3L92.6,889.2L97.9,887.1L103.1,874.5L111.5,857.7L117.8,866.1L124.2,880.8L130.5,885L135.7,884L141,874.5L145.2,859.8L148.3,847.2L154.6,837.7L161,835.6L166.2,830.4L172.5,833.5L178.8,835L185.1,833.5L191.4,835.6L197.7,833.5L204.1,829.3L210.4,830.4L216.7,833.5L221.9,835.2L227.2,832.5L234.5,829.3L240.8,830.4L246.1,834.6L252.4,847.2L258.7,861.9L265,871.4L275.5,879.8L286.1,886.1L294.5,889.2L307.9,890.3L313.1,887.1L319.4,886.7L325.7,889.2L332.1,890.5L460.3,890.5L464.5,882.9L467.7,875.6L474,875.1L477.1,880.8L483.4,887.1L488.7,890.5L500.3,910.3Z" fill="#fff" stroke="#1a1a1a" stroke-width="1.4" stroke-linejoin="round"/>
</g>
<g clip-path="url(#cd)">
<rect x="770.7" y="520.8" width="460.9" height="368.2" fill="#fff"/>
<path d="M817.3,705C819.1,703.2 823.1,699.7 825.5,695.4C827.9,691.1 829.9,685.2 831.7,679C833.4,672.9 834.4,664 835.8,658.5C837.1,653 838.1,650.3 839.9,646.2C841.6,642.1 844,638 846,633.9C848.1,629.8 850.1,624.3 852.2,621.6C854.2,618.9 855.2,618 858.3,617.5C861.4,617 866.5,616.8 870.6,618.5C874.7,620.2 878.1,625.4 882.9,627.8C887.7,630.1 895.2,630.5 899.3,632.9C903.4,635.3 904.8,639.5 907.5,642.1C910.2,644.7 912.6,646.2 915.7,648.3C918.8,650.3 923.2,652 926,654.4C928.7,656.8 930.4,658.8 932.1,662.6C933.8,666.4 934.8,671.8 936.2,677C937.6,682.1 939.1,688.7 940.3,693.4C941.5,698 942.8,701.1 943.4,705C944,708.9 943.9,710.7 943.8,716.8C943.7,723 943.2,733.3 942.7,742.1C942.2,750.8 941.5,762.6 940.6,769.4C939.7,776.2 939.2,780.8 937.5,783.1C935.7,785.3 932.7,783.4 930.1,783.1C927.5,782.7 925.6,780.8 921.7,781C917.8,781.1 911.5,784.5 907,784.1C902.4,783.8 898.2,780.6 894.4,778.8C890.5,777.1 887.4,775.9 883.8,773.6C880.3,771.3 877.5,767.6 873.3,765.2C869.1,762.7 862.8,760.3 858.6,758.9C854.4,757.4 851.6,756 848.1,756.3C844.6,756.7 840.7,758.5 837.6,761C834.4,763.5 831.6,767.6 829.2,771.5C826.7,775.3 825.7,779.5 822.9,784.1C820.1,788.7 815.5,794.6 812.4,798.8C809.2,803 806.8,810 803.9,809.3C801.1,808.6 797.8,798.8 795.5,794.6C793.3,790.4 791,790.1 790.3,784.1C789.6,778.1 790.6,767.6 791.3,758.9C792,750.1 793.6,739.9 794.5,731.5C795.4,723.1 795.2,713.7 796.6,708.4C798,703.2 801,700.5 802.9,700C804.8,699.5 806.2,704.2 808.2,705.3C810.1,706.3 812.9,706.3 814.5,706.3C816,706.3 815.5,706.9 817.3,705Z" fill="#e1f2fa"/>
<path d="M842.9,705C842.4,701.5 841.4,696.3 841.9,691.3C842.4,686.3 844.6,680.4 846,674.9C847.4,669.4 848.7,662.6 850.1,658.5C851.5,654.4 852.7,652 854.2,650.3C855.7,648.6 857.3,647.2 859.3,648.3C861.4,649.3 863.6,654.4 866.5,656.5C869.4,658.5 874,659.2 876.8,660.6C879.5,661.9 880.9,664.5 882.9,664.7C885,664.8 886.7,660.7 889.1,661.6C891.4,662.4 894.2,666.9 897.3,669.8C900.3,672.7 904.1,677.3 907.5,679C910.9,680.7 914.7,679 917.8,680C920.8,681.1 924.2,682.6 926,685.2C927.7,687.7 927.5,692.1 928,695.4C928.5,698.7 928.9,700.8 929,705C929.2,709.3 929.8,716.1 929.1,721C928.4,726 927.1,731.9 924.8,734.7C922.6,737.5 919.4,737.8 915.4,737.8C911.4,737.8 905.6,735.7 900.7,734.7C895.8,733.6 890.5,732.9 886,731.5C881.4,730.1 877.9,727.7 873.3,726.3C868.8,724.9 862.8,724 858.6,723.1C854.4,722.3 850.4,722.8 848.1,721C845.8,719.3 845.8,715.3 845,712.6C844.1,710 843.4,708.6 842.9,705Z" fill="#b7e2f5"/>
<path d="M937.5,796.7C936.1,796.4 934.1,799.5 932.2,803C930.3,806.5 927.1,813.9 925.9,817.7C924.7,821.6 923.8,823.4 924.8,826.2C925.9,829 929.6,831.1 932.2,834.6C934.8,838.1 938.2,842.3 940.6,847.2C943.1,852.1 944.1,859.4 946.9,864C949.7,868.6 953.6,871.4 957.4,874.5C961.3,877.7 965.9,880.7 970.1,882.9C974.3,885.1 979.9,887.4 982.7,887.8C985.5,888.1 987.6,886.5 986.9,885C986.2,883.5 982,881.9 978.5,878.7C975,875.6 969.4,870.7 965.9,866.1C962.3,861.6 959.9,856.6 957.4,851.4C955,846.1 953.2,840.2 951.1,834.6C949,829 946.6,822.7 944.8,817.7C943.1,812.8 941.8,808.6 940.6,805.1C939.4,801.6 938.9,797.1 937.5,796.7Z" fill="#e1f2fa"/>
<path d="M938.5,839.8C939,838.8 942,838.9 943.8,840.9C945.5,842.8 947.3,847.2 949,851.4C950.8,855.6 952.5,862.1 954.3,866.1C956,870.1 959.7,874.7 959.5,875.6C959.4,876.4 955.5,874 953.2,871.4C951,868.7 948,863.8 945.9,859.8C943.8,855.8 941.8,850.5 940.6,847.2C939.4,843.9 938,840.9 938.5,839.8Z" fill="#b7e2f5"/>
<path d="M958.8,705C957.8,698 955.8,686.8 954.7,679C953.5,671.2 952.4,665.3 951.6,658.5C950.7,651.7 949.5,644.8 949.5,638C949.5,631.2 950.9,623.7 951.6,617.5C952.3,611.4 952.9,606.9 953.6,601.1C954.3,595.3 953.1,588.5 955.7,582.7C958.2,576.8 964,571.4 969,566.3C974,561.1 979.6,556.3 985.4,551.9C991.2,547.5 998,542.7 1003.9,539.6C1009.7,536.5 1020.8,533.5 1020.3,533.5C1019.7,533.5 1000.3,539.8 1000.4,539.6C1000.5,539.4 1014.1,534.2 1020.9,532.4C1027.7,530.6 1034.6,529.3 1041.4,528.9C1048.2,528.6 1056.1,529.5 1061.9,530.4C1067.7,531.3 1071.5,532.6 1076.3,534.5C1081,536.4 1085.5,538.7 1090.6,541.7C1095.7,544.6 1101.5,548.1 1107,551.9C1112.5,555.7 1118.3,559.8 1123.4,564.2C1128.5,568.6 1133.3,574.1 1137.8,578.6C1142.2,583 1147,586.4 1150.1,590.9C1153.1,595.3 1154.2,599.4 1156.2,605.2C1158.3,611 1160.3,618.9 1162.4,625.7C1164.4,632.5 1166.5,640.4 1168.5,646.2C1170.6,652 1172.3,657.5 1174.7,660.6C1177,663.6 1179.4,664.1 1182.9,664.7C1186.3,665.2 1191.4,662.3 1195.2,663.6C1198.9,665 1202,669.6 1205.4,672.9C1208.8,676.1 1212.2,679.7 1215.7,683.1C1219.1,686.5 1223.2,690.8 1225.9,693.4C1228.6,695.9 1228,697.5 1232.1,698.5C1236.2,699.5 1246.3,673.3 1250.5,699.5C1254.7,725.7 1260.5,829.6 1257.3,855.6C1254.2,881.6 1237.6,855.2 1231.7,855.6C1225.7,855.9 1224.5,855.9 1221.6,857.7C1218.7,859.4 1215.8,862.6 1214.2,866.1C1212.7,869.6 1213.4,874.9 1212.1,878.7C1210.9,882.6 1220.4,887.3 1206.9,889.2C1193.4,891.2 1142.9,893.4 1131.2,890.3C1119.4,887.1 1136.4,874.9 1136.4,870.3C1136.4,865.8 1134.2,864.2 1131.2,863C1128.2,861.7 1122.4,862.1 1118.6,863C1114.7,863.8 1110.2,864.9 1108.1,868.2C1106,871.5 1107.7,881 1106,882.9C1104.2,884.9 1101,880.1 1097.5,879.8C1094,879.4 1089.1,881.3 1084.9,880.8C1080.7,880.3 1075.3,878.7 1072.3,876.6C1069.3,874.5 1068.8,871 1067.1,868.2C1065.3,865.4 1065.1,861.4 1061.8,859.8C1058.5,858.2 1054.7,859.3 1047.1,858.7C1039.5,858.2 1023.2,857.3 1016.3,856.6C1009.4,855.9 1009.3,854.2 1005.8,854.5C1002.3,854.9 998.4,857.5 995.3,858.7C992.1,860 990,863.1 986.9,861.9C983.7,860.7 979.3,855.6 976.4,851.4C973.4,847.2 971.1,842.6 969,836.7C966.9,830.7 965,824.4 963.7,815.6C962.5,806.9 962,794.6 961.6,784.1C961.3,773.6 961.8,763.1 961.6,752.6C961.5,742.1 961.1,728.9 960.6,721C960.1,713.1 959.7,712 958.8,705Z" fill="#fff2cd"/>
<path d="M985.4,705C986.4,698 979.9,695.3 977.2,689.3C974.5,683.2 970.5,675.2 969,668.8C967.5,662.3 967.6,656.1 968,650.3C968.3,644.5 969.2,639.7 971.1,633.9C972.9,628.1 976.2,620.9 979.3,615.5C982.3,610 986.1,605.5 989.5,601.1C992.9,596.7 995.3,591.9 999.8,588.8C1004.2,585.7 1014.7,583.3 1016.2,582.7C1017.6,582 1006.4,585.2 1008.6,584.7C1010.8,584.2 1023,580.6 1029.1,579.6C1035.3,578.6 1040,578.4 1045.5,578.6C1051,578.7 1057.1,579.2 1061.9,580.6C1066.7,582 1070.1,584 1074.2,586.8C1078.3,589.5 1082.4,593.2 1086.5,597C1090.6,600.8 1094.7,604.5 1098.8,609.3C1102.9,614.1 1107.3,620.2 1111.1,625.7C1114.9,631.2 1117.9,636.6 1121.4,642.1C1124.8,647.6 1128.9,653 1131.6,658.5C1134.3,664 1136,669.8 1137.8,674.9C1139.5,680 1140.8,684.2 1141.9,689.3C1142.9,694.3 1143.3,699.7 1143.9,705C1144.5,710.3 1145.3,714.9 1145.5,721C1145.6,727.2 1145.1,733.3 1144.8,742.1C1144.6,750.8 1143.2,766.9 1144.2,773.6C1145.3,780.2 1149.1,781.7 1151.2,782C1153.2,782.4 1154.8,778.5 1156.4,775.7C1158,772.9 1159.2,769.7 1160.6,765.2C1162,760.6 1163.4,753.1 1164.8,748.4C1166.2,743.6 1167.3,739.2 1169,736.8C1170.8,734.3 1173.2,733.8 1175.3,733.6C1177.4,733.5 1179.5,736.2 1181.6,735.7C1183.7,735.3 1185.9,731.8 1188,731.1C1190.1,730.4 1192.5,730.4 1194.3,731.5C1196,732.7 1197.1,734.3 1198.5,737.8C1199.9,741.4 1201.3,747.7 1202.7,752.6C1204.1,757.5 1205.6,762.7 1206.9,767.3C1208.1,771.8 1210,776 1210,779.9C1210,783.8 1208.5,785.9 1206.9,790.4C1205.3,795 1202.7,803.1 1200.6,807.2C1198.5,811.4 1197.8,814.2 1194.3,815.2C1190.8,816.3 1183.7,813.1 1179.5,813.5C1175.3,814 1171.5,815.6 1169,817.7C1166.6,819.8 1166.8,824.8 1164.8,826.2C1162.9,827.6 1159.9,824.8 1157.5,826.2C1155,827.6 1152.2,831.4 1150.1,834.6C1148,837.7 1146.6,844.4 1144.8,845.1C1143.1,845.8 1143.6,840 1139.6,838.8C1135.6,837.5 1127,837.5 1120.7,837.7C1114.4,837.9 1107,839.8 1101.7,839.8C1096.5,839.8 1092.6,838.9 1089.1,837.7C1085.6,836.5 1080.7,835.4 1080.7,832.5C1080.7,829.5 1086.5,823.7 1089.1,819.8C1091.8,816 1096.1,812.3 1096.5,809.3C1096.8,806.4 1093.2,803.4 1091.2,802C1089.3,800.5 1088.1,800.3 1084.9,800.5C1081.8,800.7 1076.2,801.6 1072.3,803C1068.5,804.5 1064.2,806.9 1061.8,809.3C1059.3,811.8 1059,814.1 1057.6,817.7C1056.2,821.4 1055.8,828.8 1053.4,831.4C1050.9,834 1047.4,832.3 1042.9,833.5C1038.3,834.7 1031.3,837.2 1026.1,838.8C1020.8,840.3 1013.7,842.3 1011.3,843C1009,843.7 1014.1,842.8 1012.1,843C1010.1,843.2 1003.7,843 999.5,844C995.3,845.1 990.9,850.9 986.9,849.3C982.8,847.7 977.8,840.2 975.3,834.6C972.9,829 972.9,824.1 972.2,815.6C971.5,807.2 971.3,798.1 971.1,784.1C970.9,770.1 968.7,744.7 971.1,731.5C973.5,718.4 984.4,712.1 985.4,705Z" fill="#fdd57e"/>
<path d="M1005.9,705C1008,698.3 1001.8,695.6 999.8,691.3C997.7,687 993.9,684.5 993.6,679C993.3,673.5 995.7,664.7 997.7,658.5C999.8,652.4 1002.8,646.4 1005.9,642.1C1009,637.8 1014.7,634.2 1016.2,632.9C1017.6,631.5 1012.6,634.5 1014.8,633.9C1016.9,633.3 1024,630.2 1029.1,629.4C1034.2,628.5 1040.4,628.5 1045.5,628.8C1050.6,629 1055.4,628.9 1059.9,630.8C1064.3,632.7 1068.1,636.1 1072.2,640.1C1076.3,644 1080.7,649.3 1084.5,654.4C1088.2,659.5 1091.6,665.3 1094.7,670.8C1097.8,676.3 1100.5,681.5 1102.9,687.2C1105.3,692.9 1107.8,701.9 1109.1,705C1110.3,708.2 1111,704 1110.2,706.3C1109.3,708.6 1106.7,714.4 1103.8,718.9C1101,723.5 1097.2,728.4 1093.3,733.6C1089.5,738.9 1084.9,745.9 1080.7,750.5C1076.5,755 1072.3,757.5 1068.1,761C1063.9,764.5 1059.7,767.6 1055.5,771.5C1051.3,775.3 1047.4,780.6 1042.9,784.1C1038.3,787.6 1032.7,790.1 1028.2,792.5C1023.6,795 1017.5,797.4 1015.5,798.8C1013.6,800.2 1017.9,800 1016.3,800.9C1014.7,801.8 1009,804.1 1005.8,804.1C1002.6,804.1 999.8,803.2 997.4,800.9C994.9,798.6 992.7,796.7 991.1,790.4C989.5,784.1 988.6,772.9 987.9,763.1C987.2,753.3 983.9,741.2 986.9,731.5C989.9,721.9 1003.8,711.7 1005.9,705Z" fill="#fdbb4c"/>
<path d="M1004.5,705C1004.9,700.1 1006.6,695.5 1008.6,691.3C1010.7,687.1 1014.1,682.6 1016.8,680C1019.5,677.5 1021.2,676.3 1025,675.9C1028.8,675.6 1034.9,677 1039.4,678C1043.8,679 1047.9,680.2 1051.7,682.1C1055.4,684 1058.8,686.7 1061.9,689.3C1065,691.8 1067.9,694.8 1070.1,697.5C1072.3,700.1 1074.3,703.6 1075.2,705C1076.1,706.5 1076.7,704.3 1075.5,706.3C1074.3,708.3 1070.7,713 1068.1,716.8C1065.5,720.7 1062.1,725.2 1059.7,729.4C1057.2,733.6 1055.8,739.1 1053.4,742.1C1050.9,745 1048.5,745.4 1045,747.3C1041.5,749.2 1036.9,751.7 1032.4,753.6C1027.8,755.5 1021,758.5 1017.6,758.9C1014.3,759.2 1014,758.5 1012.4,755.7C1010.8,752.9 1009.2,747.8 1008.2,742.1C1007.1,736.3 1006.7,727.2 1006.1,721C1005.5,714.9 1004.1,710 1004.5,705Z" fill="#fba232"/>
<path d="M759.8,855.6C761.9,853.5 768.9,857.3 772.4,855.6C775.9,853.8 778,848.2 780.8,845.1C783.6,841.9 786.4,838.6 789.2,836.7C792,834.7 796.1,832.8 797.6,833.5C799.2,834.2 796.8,838.8 798.7,840.9C800.6,843 806.2,846.5 809.2,846.1C812.2,845.8 813.9,841.8 816.6,838.8C819.2,835.8 822.5,832.1 825,828.3C827.4,824.4 829,818.8 831.3,815.6C833.6,812.5 835.8,809.5 838.6,809.3C841.4,809.2 845.5,812.5 848.1,814.6C850.7,816.7 852.7,819.7 854.4,822C856.2,824.2 861.1,825.8 858.6,828.3C856.2,830.7 844.2,833.5 839.7,836.7C835.1,839.8 833.4,841.9 831.3,847.2C829.2,852.4 828.8,862.4 827.1,868.2C825.3,874 822.7,879.4 820.8,881.9C818.8,884.3 817.4,883.5 815.5,882.9C813.6,882.4 811.1,881.5 809.2,878.7C807.3,875.9 805.9,869.8 803.9,866.1C802,862.4 800.1,856.3 797.6,856.6C795.2,857 791.7,865.6 789.2,868.2C786.8,870.8 785,871.9 782.9,872.4C780.8,872.9 780.5,872.1 776.6,871.4C772.8,870.7 762.6,870.8 759.8,868.2C757,865.6 757.7,857.7 759.8,855.6Z" fill="#fff2cd"/>
<path d="M794.5,845.1C795,843.5 797.8,842.3 798.7,843C799.6,843.7 800.3,847.7 799.7,849.3C799.2,850.9 796.4,853.1 795.5,852.4C794.7,851.7 794,846.7 794.5,845.1Z" fill="#fff"/>
<path d="M833.4,830.4C835.7,828.3 840.4,830.7 840.7,832.5C841.1,834.2 837.1,837.7 835.5,840.9C833.9,844 832.7,846.5 831.3,851.4C829.9,856.3 828.8,865.2 827.1,870.3C825.3,875.4 822.9,879.8 820.8,881.9C818.7,884 816.4,883.6 814.5,882.9C812.5,882.2 810.1,880.1 809.2,877.7C808.3,875.2 808,871.2 809.2,868.2C810.4,865.2 814.3,862.1 816.6,859.8C818.8,857.5 821.1,857 822.9,854.5C824.6,852.1 825.3,849.1 827.1,845.1C828.8,841 831.1,832.5 833.4,830.4Z" fill="#fdd57e"/>
<path d="M757.7,910.3L757.7,887.8L771.4,887.8L781.9,886.1L785,880.8L791.3,866.1L797.2,856L802.9,864L809.2,878.7L815.5,883.3L820.8,882.1L826,872.4L831.3,851.4L835.5,840.9L839.7,835.6L846,832.9L852.3,827.8L858.6,832L864.9,833.3L870.2,831.8L877.5,834.1L883.8,831.4L889.7,827.2L895.4,828.7L901.7,832.5L907,833.9L913.3,830.8L919.6,827.2L925.9,828.3L932.2,833.5L938.5,847.2L944.8,860.8L951.1,869.3L961.6,877.7L974.3,885L982.7,887.8L988.2,887.8L996.6,885L1007.1,884.2L1017.6,886.3L1026.1,887.8L1144.8,887.8L1149.1,878.7L1152.2,873.5L1158.1,873.5L1162.7,880.8L1171.1,887.8L1194.3,910.3Z" fill="#fff" stroke="#333" stroke-width="0.9" stroke-linejoin="round"/>
</g>
<g clip-path="url(#ca)"><path d="M83.6,198L85.5,199.7L87.2,202L89.7,203L91.6,206L94.9,206.8L94.7,210L97.3,212.1L97.7,214.4L95.9,212.9L94.3,210.8L96.2,213.3L98.1,214.4L100.5,216.1L100.8,217.3L101.9,219.5L105.6,221L107.3,221.6L109.6,223L109.8,225.8L110.4,225.6L112.7,228.1L114.6,230.1L113.9,232.4L114.9,234.7L117.1,237.1L117,238.9L118.4,241.9L117.3,243.6L119.6,244.8L118.6,247.4L119.8,248.6L118.9,250L120.1,252.5L118.3,255L118.1,258.3L117.8,261.7L116.9,261L115.5,265.8L116.7,268.1L118.7,269.9L120.2,270.1L122,269.8L125.6,269.1L126.8,269.7L131,271.2L132,268.7L134.2,269.4L136.4,266.9L137.6,265.4L139.7,264.3L140.8,262.6L143.2,262L145.1,259.4L146.4,258.1L147.5,256.9L149.4,254L150.5,250.7L152,251.8L153.6,253.9L154.8,257.2L156.2,258.1L156.9,261.4L158.5,263.4L159.1,264.8L157.5,267.8L159.6,269L160.3,270.9L161.3,273.4L161.3,275.8L161.6,278.3L162.5,281.1L162.4,282L162.6,284.9L163.3,286.2L163.9,288.1L165.6,290.7L167.2,292.7L166.5,294.6L168.9,297L168.9,299.3L168.8,301.5L171.2,304.4L170.8,306.5L172.1,307.9L173.2,309.7L172.5,312.9L173.1,314.2L173.8,316.6L173.5,319.7L172.4,321.9L174.5,322.9L173.2,325.2L173.9,326.7L173.4,329.9L171.9,331.3L172.1,333.8L170.8,336.5L172.3,337.6L171.7,342.1L171,343.5L171.4,346.1L171.2,346.7L169.8,350.9L168.9,353.2L169.7,355.7L167.9,358.4L168.9,359.4L168.1,362.6L167.8,364L169.3,366.9L170.2,366.7L171.1,368.7L171,371.6L172.3,373.5L174.6,375.8L176.4,377L175.5,376.7L178.1,381.3L179.5,381.9L181.8,383.5L182.8,384.7L184.7,386.4L185.5,387.5L187.2,389.9L188.8,391.4L187.8,392.8L191.1,394.8L191.6,396.8L192.9,398.6L193.7,400.7M221.8,400.7L219.8,398.6L219.7,396.8L216.5,395.7L216,395.6L213.3,393.6L211,393.2L208.4,391.4L208.3,391.7L205.1,389.5L204.6,389.7L202.4,387.8L199.8,386.4L199.1,383.8L196.6,383.9L195.9,381.3L195.2,378.7L194.4,377.9L193.5,374.6L192.6,372.7L191.7,369.7L191.7,367.3L190.9,365.1L189.4,364L188.6,361.2L187.3,358.8L187.2,356.5L185.4,354.9L183.5,353.9L180.8,353.2L181.4,350.2L178.8,350.3L179.3,346.4L179.7,344.6L180,341.4L181.5,341.3L182,337L182.5,336.6L181.8,333.8L183.5,331.9L182.7,328.8L182.9,327.1L184,324.1L185.1,323L184.1,322.3L185.9,317.8L186.9,315.9L185.4,312.7L188.3,312.2L188.1,308.8L188.8,308.5L190,305.6L190.5,302.5L193.2,301.1L193.7,299.7L195.7,298.7L198.1,299.7L199.6,302L202.4,302.5L202.4,303.6L201.8,306.2L203.2,308.2L202.4,311.2L206.7,311.8L206.5,312.8L208.9,312.2L211.7,312.8L212.2,311.6L215.3,312.2L218.1,315L219.3,316.5L220.7,317.6L222.9,319.9L224.1,321.4L225.1,324.1L227.2,325L228.3,328.3L230.3,327.9L229.4,331.7L231.6,331.7L233.3,334L234.8,334.9L237.6,335.3L240.5,334.6L240.2,338.1L240.4,340.7L243.2,341.9L243.4,343.5L244.9,344.3L248.7,344.9L249.9,344.6L252.2,344.6L254.7,346.7L256.4,347.9L255.9,349.5L255.6,352.9L254.3,355.4L255.4,359.2L253.4,359.1L252.2,361.3L252.1,364L255.3,362.9L256.4,363.6L259.2,364.1L260.6,361.6L262.9,359.3L263.3,358.6L265.2,356.9L267.8,353.8L267.8,352.2L269.5,351.6L271.8,348.8L272.8,348.3L274.1,345.8L276.3,344.9L278,344L278.3,342.1L280.7,340.6L282.6,340.9L285.6,339.5L287,337.8L289,335.9L291,336L292.5,333.7L295.6,333.5L296.8,333.3L299.6,331L300.3,330L303.2,329.1L303.8,327.9L305.4,324.8L309.5,326L308.6,322.7L310.1,321.6L310.4,318.3L312,316.8L311.8,314L310.7,312.2L312,310L310.7,308.5L311.2,306.3L310.7,303.2L310.1,300.5L310.6,300.1L309.9,296.5L309.4,294.4L309.7,292.5L307.6,290.5L309.1,287.8L308.6,285.2L310.3,286.3L307.5,281.7L306.9,279.3L304.6,276.5L306,276.6L304.3,274.1L302.3,272L300.8,271.5L300.3,270.3L298.8,267.6L297.3,265.5L293.2,264L293,264.7L292.4,262.2L291.6,261.1L289.5,260L288,257.5L285.9,255.8L284.8,254.3L281.8,253.3L280,250.1L279.4,249.3L277.5,247.4L277.5,245.7L275.2,243.3L274,242.8L271.5,242.3L270.5,240.4L269.3,238.1L268.6,236.3L267.6,233.5L266.8,232.5L264.3,229.9L265.6,227.1L265.8,225L265.3,222.3L267,222.5L267.8,219.4L267.5,216.9L269.7,214.8L271.8,213.5L273.3,211.8L274.5,210.8L275.1,208.3L277.8,207.6L278.9,206.2L280.5,205L282.3,203L284.8,203L287,201.8L288.2,200L292,201.7L292.4,198.6L293.6,198.9L296.7,196L298.8,196.4L301.7,196.3L305.1,193.3L306.4,195.3L307.8,194.7L311.3,195.5L312.6,194.8L315.1,194.2L316.2,198.8L318.3,198.6L319.1,200.3L319,203.4L317.6,203.9L318.3,207.2L320.4,209.4L320.5,212.6L322.4,212.9L324.8,212.6L324.7,210.7L325.5,207.2L325.9,206.1L324.3,205.3L324.3,201.6L322.6,200.7L322.9,197.6L324.8,196.4L328.3,196.8L329.8,195.5L332.4,196.4L334.4,197L336.1,196.1L341.2,193.8L341,194.2L343.5,194.6L347.1,191.5L346.4,193.2L349.7,192.1L351.1,190.2L353.6,191.6L355.8,190.8L358.3,188.9L359.4,188.1L362.3,186.4L363.7,183.5L366.1,182.3L365.2,178.2L364.8,177L365,179.6L366.9,182.4L368.5,183.9L370.6,186.6L371.3,187.8L371.7,185.3L375.8,184.9L377.8,184.5L379.6,183.1L383.1,181.7L384.2,181.3L387.5,179.8L387,181.3L391.7,178.9L392.9,178.1L394.1,178.6L396.4,176.7L399,176.3L401.5,175.9L402.6,175.5L405.7,172.9L408.2,173.6L410.2,171.6L413.4,170.2L414.8,168.9L416.7,167.3L418.5,164.6L420.1,163.2L419.1,161.3L422.1,160.8L423.7,158.9L426.2,156.5L424.3,158.4L424.1,160.5L421.1,161.1L419.6,163.3L418.3,163.1L417,166.6L415.7,167.2L415.3,170.4L412.1,170L416.1,170L415.7,166.6L417.2,167.6L418.9,163.8L421.8,163.7L422.3,160.3L424.2,160L426.7,159.7L427.3,155.6L430.3,156.1L432.1,156.2L433.7,155.3L433.3,152L436.2,152L437.9,150.5L440.2,150.2L441.2,148.1L441.9,146.5L443.6,145.9L446.2,144L445.6,141.5L444.8,140.3L447.8,136.3L445.2,136L446,133.8L446.4,132.6L447.5,129.4L448.2,128L449.1,126.6L451.6,125.5L452.5,125.1L455.4,123.7L456.2,120.9L458.2,120L458.8,117.6L460.2,115.5L461.6,113.6L462.2,112L463.6,109.6L462.8,107.1L463.1,104.9L463.7,104.4L464.9,101.4L466.2,100L467.5,97.9L469.8,96.5L472.2,93.5L472.2,94L471.2,94L475.2,89L473.3,88.4L470.2,87.6L467.9,86.7L465.1,86.2L464.2,86L462.4,85.4L460.1,85.5L458.2,84.4L455.3,83.4L454.2,83L455.1,81.2L458.1,80.9L460.2,79L463.1,77.8L465.1,77.3L465.3,77.7L468.2,76L471.3,77.2L472.1,77.3L474.4,77.5L476.2,77.6M452.2,68L454.3,67.3L455.8,66.2L456.5,66L458.2,62.4L461.1,62.4L461.6,64.3L463.1,64.4L466.2,66L469.2,67.4L470.9,66.8L471.4,67.3L473.6,68.5L476.2,70M460.2,49.6L462,51.4L461.1,53.6L463.2,55L465.3,56.2L466.2,58L467.7,59.9L470,60.5L472.2,61.6L474,62.9L477.2,64M303.2,225.5L304.2,224.5L307,222L308.6,221.2L310.8,218.5L311.9,219.6L315.1,220.1L318,218.6L319.7,219.7L321.5,218L323.8,218.4L328.4,215.5L329.1,215.8L329.9,217L332.4,219.1L331.6,221.4L332.1,223.5L332.4,225.5L328.7,225.9L329.3,228.7L328,230.9L326.1,231.9L324.9,233.2L322.6,235.3L320.9,237.6L318.5,239.2L317.2,239.6L314.6,240.2L312.9,237.1L310.7,237.4L309.2,236.9L306,236.4L304.3,235.3L303.6,232.5L302.5,229.9L303.9,227.6ZM470.2,148L473,148.5L472.6,150.1L475.2,152L474.3,154.3L474.7,156L475.3,157.1L473.2,159.5L475,161.7L473.8,164L472,168.5L473.1,167.4L471.5,170.4L471.5,172.9L469.7,173L469.9,175.3L469.2,178L468.1,180.5L466.1,181.7L464.4,184.6L464.9,187L462.6,188L461.9,189.7L459.6,191.4L458.1,189L457.2,187.4L457.4,184L456.7,181.5L453.9,179.8L453.6,178L452.6,176.4L453.1,173.5L451,172.5L451.4,170L451.7,168.6L452.2,166.6L453.5,163.9L455.2,162L456.3,159.9L457.9,157.5L456.9,154L460.2,154L461.9,153.4L464.7,152.4L466.2,150L465.8,147.2ZM369.1,272L370.3,269.7L370.9,269.1L373.4,267.6L374.6,267.4L376.7,266.6L379.9,266.6L383.2,268.7L382,271.4L381,273L378.2,273L377.6,275L374.5,275.6L372.1,275.8L370.2,274.8ZM98.6,299.3L99.3,301.6L100.3,303.6L100.6,306.5L98.7,308L98.5,311.1L98.6,312.2L97,315.2L97.3,316.1L96.9,319.1L96.4,320.9L94.9,323.6L96.1,325.4L94.3,327.3L91.6,323.3L93.5,322.7L93.9,320.9L93.7,318.8L93.5,316.7L94,313.8L94,312.2L95.4,310.1L96.1,308L95.3,305.9L96.7,302.7L96.9,301.4ZM107.3,381.3L109.9,380.2L111.1,383.7L112,385.2L109.9,388.2L108.8,386.6L107.7,384.5ZM90.8,335.5L93,334.7L93.9,337.3L91.7,338.6ZM457.4,236.5L459.7,236.3L460.5,234.6L463.2,234.6L464.8,235.7L467.8,235.2L470,236.5L472.8,237.8L475.9,237.5L478.8,235.5L478.3,237L480.1,239.4L480.7,242.7L480.4,245.2L479.4,247.2L480.6,248.6L480.5,251.7L480.9,252.7L481.7,255L481.1,256.3L482.1,260.6L481.3,261.7L479.7,264.7L477.8,266.6L476.6,267.8L473.9,269.2L472.9,270.5L471.4,273.2L470,275.3L468.7,277.7L469,280.2L469.4,281.4L470,284.4L472,286L473,288.1L473.5,288.4L475.9,290.9L478.6,291.8L479.5,293L481.7,292.8L485.3,291.6L487.5,291.8L489.2,293.3L492.5,294L493.4,294.8L495.3,294.7L498.8,293.8L501.1,293.8L503.2,293.8L506,294.8L506.9,295.8L507,298.6L504,299.9L503.1,300.6L501.2,298.9L498.8,298.4L497.2,298.6L497.3,297.7L492.4,300.6L489.4,299.3L487.5,297.7L484.9,296.5L482.7,296.7L479.6,295.3L478.8,294.8L480.8,297.1L481.1,298.8L481.7,301.6L483.2,305.6L484.6,305.4L481.7,306.4L479.8,305.2L478.5,303.4L477.8,301.6L475.6,299.8L474.2,297.9L472.9,297.7L470,297.3L469,295.7L465.5,295.4L464.2,293.8L463.2,295.9L462.2,297.7L463.1,299.5L465.7,300.7L466.1,303.5L466.2,305L466.5,306.5L468.2,310.2L469,311.3L467.5,314.3L468.1,317.1L466.8,315.7L464.2,315.1L463.3,312L461,312.5L461.3,308.3L460.2,306.1L460,303.8L458.3,302.5L457.3,301.1L455.4,297.7L457.4,294.8L459,292.4L459,291L459.3,288L456,286.2L454.5,286L453.7,283.7L451.5,281.2L452.1,278.8L448.3,274.9L449.2,275.8L449.6,273.4L450.1,271.8L448.6,269.6L447.7,266.6L450.6,265.6L452,266.7L454.5,266.6L453.8,266.5L454.6,262.1L455.4,258.8L454,255.2L454.4,254.7L454.5,251.1L455.8,249.3L456.6,246.5L456,243.3L455.9,240.9L457,238.1ZM473.9,311.3L476.9,314L477.8,315.1L476.9,317.2L477.5,319.9L476.8,322.9L478,325L479.7,325.8L480.9,328.2L484.4,327.2L487.5,326.8L488,328.5L489.3,330.4L491.4,331.7L489.1,331.7L488.6,333.4L485.6,334.6L483.5,335.8L482.1,335.6L479.7,337.5L478.1,338.2L475.9,340.4L477.4,337.9L475.1,334.6L474.9,332.6L475.2,329.1L474.6,326.9L475.9,324.9L476.6,321L473.9,320.9L474.5,318.9L473.9,317.1L473.8,314.4ZM480.7,338.4L482,338L485.6,336.5L488.6,334.7L489.9,336L491.4,334.6L491.5,336.1L492.2,337.9L493.4,340.4L493.9,343.8L492.1,346.5L492.4,348.2L492.7,350L493.4,352.2L495.3,354L493.5,356.9L491.4,357.9L488.8,357.2L486.5,355L485.6,353.7L482.8,348.8L483.6,348.2L483.4,346.7L482.3,345.2L481.7,342.3L479.3,338.1ZM494.3,336.5L496.2,334.9L498.2,333.6L499.5,335.4L501.1,336.5L501.1,338L500.1,340.9L500.2,344.3L499,346.9L498.1,349.1L498.4,349L497.2,352L496.1,353.5L494.3,355.9L493.2,352.5L493,350.1L493.1,347.7L494.9,345.1L494.3,343.3L496.7,342.7L494.4,338.2ZM499.2,331.7L502.1,329.7L503,333L503.1,334.7L502.7,336.5L501.3,337.4L502.2,339.8L500.8,343.1L500.4,345.4L500.2,346.2L500.8,350.1L498.2,350.1L498.8,347.8L497.8,345.3L499,342.4L498.8,340.4L501.1,338.1L498.2,336.7L500.1,332.7ZM491.4,311.3L493.7,311.5L495.3,312.5L497.2,313.2L498.6,314.1L500.6,315.7L502.3,318.4L503.1,319L501.1,321L498.6,319.1L497.4,317.7L495.3,317.1L494.9,315.9L492.2,312.1ZM506,313.2L508.9,313.9L510.3,315.6L512.8,315.1L513.9,315.9L516.3,317.2L518.6,319L518.7,320L519.9,321.9L521.7,324.6L522.5,326.8L523.7,328.5L524.7,332L524.3,332.2L524.5,334.6L523.3,334.3L520.6,332.6L518,330.8L516.7,328.7L515.4,326.5L512.8,324.9L511.5,322.7L508.4,322.2L507.9,321L506.6,319L506.7,318L507.4,314.6ZM510.9,328.7L513.2,331.3L514.7,332.6L514.9,334.9L517.1,336.7L516.7,339.6L517.7,340.4L516.1,344.6L515.7,343.9L515.7,346.2L513.4,345.1L511.8,344.3L512,342.3L511.2,338L508.8,339.4L509.9,336.5L510.6,333.1L508.1,332.4ZM501.1,346.2L503.5,345.9L504.4,345.6L507,344.3L508.5,346.2L509.9,348.2L506.8,349.8L506,352L502.6,351.9L501.1,350.5L500.5,347.3ZM497.2,301.6L498.8,300.9L502.1,302.5L502.8,304.1L505,307.4L502.7,308.8L501.1,308.3L500.4,306.5L497.6,305.4ZM472.9,301.6L475.9,300.6L477.4,303.5L474.9,305.4L474.9,304.4ZM502.1,400.6L503.4,397.9L502.4,397.1L504.9,393L504.6,393.4L505.4,392L505,388.9L504.6,389.3L503.9,384.6L502.6,383.7L503.1,381.2L500.8,379.3L500.3,377.9L499.7,376.4L497.2,375.3L494.3,373.9L494,375.1L492.2,373.3L489.5,373.4L488.5,373.8L484.8,375.2L483.6,377.3L483.1,380.3L481.7,382.3L480.8,382.5L479.7,385L476.8,387L476.8,384.4L477.8,381.2L478,379.9L478.7,378L478.5,375.5L479.7,373.4L482.5,371.8L482.6,371.3L485.6,370.5L486.8,369.5L490.6,368.3L489.5,365.6L491.5,365.2L493.1,363.7L495.3,363.7L496.8,365.3L499.2,367.6L501.8,369.4L503.1,370.5L503.3,369.2L505.8,367.9L506.9,365.8L508.9,364.7L509.8,363.2L510.4,360.7L512.8,358.8L516.7,361.1L517.7,359.8L519.6,357.2L518.9,354.9L520.6,354L520.3,353L522.5,349.1L523.4,347.2L523.5,346.2L526.4,344.3L526.6,346.2L529.9,348.1L528.8,350.5L530.3,352L531.1,354.3L532.1,357.7L531.1,358.5L532.3,361.7L533.9,363.2L532.8,365.9L533.6,368.1L535.6,368.9L535.2,371.5L534.4,373.2L535.8,376.3L536.5,379.2L536.1,381.2L533.8,382.4L534.1,384.4L532.3,387L531.3,389.3L530.7,390.5L531.8,392.9L530.3,394.8L527.8,393.1L526.4,390.9L526.9,388.6L526.2,388L524.6,384.1L524.5,383.1L524.2,384.7L522,386.4L520.6,388.9L520.7,393.6L520.1,394.2L520.8,395.6L521.1,398.7L520.6,400.6M473.9,388.9L476.8,390.2L477.8,389.9L476.8,392.8L473.9,391.8ZM410.7,373.4L411,370.8L411.6,370.2L413.6,367.6L414,366.3L416.8,365.2L417.8,363.3L419.5,360.8L422,358.2L421.7,357L424.6,357.5L425.3,355L427.5,352.2L427.7,351.7L428.6,348.7L431.1,348.2L432.5,347.2L433.4,345.6L435.6,342.5L436,341.4L437,339.6L437.6,337.1L439.9,336.5L441.3,333.5L441.5,333.3L442.8,330.7L442.8,328.8L446.2,329L445.7,324.9L447.2,322.2L447,319.5L449.6,320L452.1,318.2L452.5,317.1L453.5,320L453.1,322.6L452,323.5L450.6,325.8L449.3,326.7L449,329.8L447.7,331.7L448.3,334.6L448.5,336.9L448.6,338.4L444.2,339.1L444.7,340.4L443,340.7L440.6,343.2L439.9,344.3L435.8,347.1L435.5,349.2L435,350.1L434.6,352.4L431.9,353.1L430.5,355.5L429.2,357.9L427.9,360.4L427,361.2L425.2,362.8L423.3,363.7L420.8,364.3L419.4,366.1L418.3,368.1L417.5,369.5L418.3,372.2L413.5,374.1L413.6,374.4ZM399,400.6L400,397.1L401.7,396.1L401.4,393.8L403.4,391.7L404.9,388.9L407.1,386.6L409.6,384.8L408.8,382.1L412.9,383L413.6,381.2L414.6,384.2L417.3,385.8L415.6,387L417.3,389L418.5,391.8L419.9,394.5L420.4,397.1L421.4,400.6" fill="none" stroke="#000" stroke-width="1.25" stroke-linejoin="round"/>
<path d="M408,207.2m-1.6,0a1.6,1.6 0 1,0 3.2,0a1.6,1.6 0 1,0 -3.2,0M338.8,254.7m-0.8,0a0.8,0.8 0 1,0 1.6,0a0.8,0.8 0 1,0 -1.6,0M348.6,255.8m-0.8,0a0.8,0.8 0 1,0 1.6,0a0.8,0.8 0 1,0 -1.6,0M341,264.4m-0.8,0a0.8,0.8 0 1,0 1.6,0a0.8,0.8 0 1,0 -1.6,0M345.3,267.6m-0.8,0a0.8,0.8 0 1,0 1.6,0a0.8,0.8 0 1,0 -1.6,0M352.9,267.6m-0.8,0a0.8,0.8 0 1,0 1.6,0a0.8,0.8 0 1,0 -1.6,0M335.6,269.8m-0.8,0a0.8,0.8 0 1,0 1.6,0a0.8,0.8 0 1,0 -1.6,0M342.1,261.2m-0.8,0a0.8,0.8 0 1,0 1.6,0a0.8,0.8 0 1,0 -1.6,0M420.4,279.2m-1.3,0a1.3,1.3 0 1,0 2.6,0a1.3,1.3 0 1,0 -2.6,0M469,223.9m-1.3,0a1.3,1.3 0 1,0 2.6,0a1.3,1.3 0 1,0 -2.6,0M474.9,222.9m-1.3,0a1.3,1.3 0 1,0 2.6,0a1.3,1.3 0 1,0 -2.6,0M466.5,228.7m-1.3,0a1.3,1.3 0 1,0 2.6,0a1.3,1.3 0 1,0 -2.6,0M471,230.7m-1.3,0a1.3,1.3 0 1,0 2.6,0a1.3,1.3 0 1,0 -2.6,0M474.9,229.7m-1.3,0a1.3,1.3 0 1,0 2.6,0a1.3,1.3 0 1,0 -2.6,0M430.2,385m-1.2,0a1.2,1.2 0 1,0 2.4,0a1.2,1.2 0 1,0 -2.4,0M456.4,393.8m-1.2,0a1.2,1.2 0 1,0 2.4,0a1.2,1.2 0 1,0 -2.4,0M495.3,356.9m-1.2,0a1.2,1.2 0 1,0 2.4,0a1.2,1.2 0 1,0 -2.4,0M381.6,335.5m-0.8,0a0.8,0.8 0 1,0 1.7,0a0.8,0.8 0 1,0 -1.7,0M369.6,354.8m-0.7,0a0.7,0.7 0 1,0 1.4,0a0.7,0.7 0 1,0 -1.4,0M368.9,353.4m-0.5,0a0.5,0.5 0 1,0 1,0a0.5,0.5 0 1,0 -1,0M386.9,331.5m-0.5,0a0.5,0.5 0 1,0 1.1,0a0.5,0.5 0 1,0 -1.1,0M386.5,369.3m-0.6,0a0.6,0.6 0 1,0 1.1,0a0.6,0.6 0 1,0 -1.1,0M376.8,359.4m-1,0a1,1 0 1,0 1.9,0a1,1 0 1,0 -1.9,0M393.8,347.8m-1,0a1,1 0 1,0 2,0a1,1 0 1,0 -2,0M368.3,370.9m-0.6,0a0.6,0.6 0 1,0 1.3,0a0.6,0.6 0 1,0 -1.3,0M373,333.9m-0.7,0a0.7,0.7 0 1,0 1.3,0a0.7,0.7 0 1,0 -1.3,0M405.3,337m-0.8,0a0.8,0.8 0 1,0 1.6,0a0.8,0.8 0 1,0 -1.6,0M396.8,346.6m-0.8,0a0.8,0.8 0 1,0 1.5,0a0.8,0.8 0 1,0 -1.5,0M369.1,331m-0.6,0a0.6,0.6 0 1,0 1.2,0a0.6,0.6 0 1,0 -1.2,0M398.8,349.4m-0.7,0a0.7,0.7 0 1,0 1.3,0a0.7,0.7 0 1,0 -1.3,0M394.2,350.7m-0.6,0a0.6,0.6 0 1,0 1.3,0a0.6,0.6 0 1,0 -1.3,0M404.3,362.9m-0.6,0a0.6,0.6 0 1,0 1.2,0a0.6,0.6 0 1,0 -1.2,0M393.7,354.3m-0.9,0a0.9,0.9 0 1,0 1.9,0a0.9,0.9 0 1,0 -1.9,0M401.1,342.4m-1,0a1,1 0 1,0 2,0a1,1 0 1,0 -2,0M371.7,348.9m-0.9,0a0.9,0.9 0 1,0 1.8,0a0.9,0.9 0 1,0 -1.8,0M373.4,352.4m-0.5,0a0.5,0.5 0 1,0 1,0a0.5,0.5 0 1,0 -1,0M398.2,366.2m-0.8,0a0.8,0.8 0 1,0 1.6,0a0.8,0.8 0 1,0 -1.6,0M408.2,343.7m-0.8,0a0.8,0.8 0 1,0 1.7,0a0.8,0.8 0 1,0 -1.7,0M394.6,357m-0.7,0a0.7,0.7 0 1,0 1.5,0a0.7,0.7 0 1,0 -1.5,0M406.5,375.2m-0.7,0a0.7,0.7 0 1,0 1.5,0a0.7,0.7 0 1,0 -1.5,0M398,331m-0.9,0a0.9,0.9 0 1,0 1.7,0a0.9,0.9 0 1,0 -1.7,0M397.2,377.7m-0.9,0a0.9,0.9 0 1,0 1.8,0a0.9,0.9 0 1,0 -1.8,0M379.8,347.3m-0.8,0a0.8,0.8 0 1,0 1.7,0a0.8,0.8 0 1,0 -1.7,0M367.2,351.1m-0.6,0a0.6,0.6 0 1,0 1.2,0a0.6,0.6 0 1,0 -1.2,0M371.7,330.9m-0.9,0a0.9,0.9 0 1,0 1.8,0a0.9,0.9 0 1,0 -1.8,0M372.3,340.4m-0.7,0a0.7,0.7 0 1,0 1.4,0a0.7,0.7 0 1,0 -1.4,0M408,332m-0.7,0a0.7,0.7 0 1,0 1.4,0a0.7,0.7 0 1,0 -1.4,0M392.5,372.2m-0.9,0a0.9,0.9 0 1,0 1.8,0a0.9,0.9 0 1,0 -1.8,0M407.6,341.9m-0.7,0a0.7,0.7 0 1,0 1.4,0a0.7,0.7 0 1,0 -1.4,0M383.3,372.2m-1,0a1,1 0 1,0 2,0a1,1 0 1,0 -2,0M373.3,336.8m-0.6,0a0.6,0.6 0 1,0 1.2,0a0.6,0.6 0 1,0 -1.2,0M377.3,352.2m-0.8,0a0.8,0.8 0 1,0 1.6,0a0.8,0.8 0 1,0 -1.6,0M378.7,328.2m-0.7,0a0.7,0.7 0 1,0 1.4,0a0.7,0.7 0 1,0 -1.4,0M383.8,356.3m-1,0a1,1 0 1,0 2,0a1,1 0 1,0 -2,0M399.3,353.8m-0.8,0a0.8,0.8 0 1,0 1.6,0a0.8,0.8 0 1,0 -1.6,0M398.6,330.7m-0.9,0a0.9,0.9 0 1,0 1.9,0a0.9,0.9 0 1,0 -1.9,0M403.6,371.7m-0.9,0a0.9,0.9 0 1,0 1.8,0a0.9,0.9 0 1,0 -1.8,0M384.9,347.9m-0.6,0a0.6,0.6 0 1,0 1.1,0a0.6,0.6 0 1,0 -1.1,0M396.6,331.1m-0.5,0a0.5,0.5 0 1,0 1.1,0a0.5,0.5 0 1,0 -1.1,0M376.1,336.1m-0.7,0a0.7,0.7 0 1,0 1.3,0a0.7,0.7 0 1,0 -1.3,0M368.6,328m-0.6,0a0.6,0.6 0 1,0 1.2,0a0.6,0.6 0 1,0 -1.2,0M370.9,346.2m-0.5,0a0.5,0.5 0 1,0 1,0a0.5,0.5 0 1,0 -1,0M408.1,358.7m-0.6,0a0.6,0.6 0 1,0 1.1,0a0.6,0.6 0 1,0 -1.1,0M162.2,301.8m-0.6,0a0.6,0.6 0 1,0 1.1,0a0.6,0.6 0 1,0 -1.1,0M173.4,344.2m-0.8,0a0.8,0.8 0 1,0 1.6,0a0.8,0.8 0 1,0 -1.6,0M158.4,290.1m-0.7,0a0.7,0.7 0 1,0 1.3,0a0.7,0.7 0 1,0 -1.3,0M165.7,340.2m-1.1,0a1.1,1.1 0 1,0 2.1,0a1.1,1.1 0 1,0 -2.1,0M162.8,322.2m-0.5,0a0.5,0.5 0 1,0 1,0a0.5,0.5 0 1,0 -1,0M170.3,324.1m-0.9,0a0.9,0.9 0 1,0 1.8,0a0.9,0.9 0 1,0 -1.8,0M162.4,301.3m-1,0a1,1 0 1,0 1.9,0a1,1 0 1,0 -1.9,0M168.6,321.3m-0.6,0a0.6,0.6 0 1,0 1.3,0a0.6,0.6 0 1,0 -1.3,0M172.9,343.9m-1,0a1,1 0 1,0 2,0a1,1 0 1,0 -2,0M170.8,340.6m-0.8,0a0.8,0.8 0 1,0 1.6,0a0.8,0.8 0 1,0 -1.6,0M160.2,307.1m-0.7,0a0.7,0.7 0 1,0 1.3,0a0.7,0.7 0 1,0 -1.3,0M165.3,305.9m-0.8,0a0.8,0.8 0 1,0 1.5,0a0.8,0.8 0 1,0 -1.5,0M174.1,353.3m-0.7,0a0.7,0.7 0 1,0 1.4,0a0.7,0.7 0 1,0 -1.4,0M160.8,298.6m-0.6,0a0.6,0.6 0 1,0 1.2,0a0.6,0.6 0 1,0 -1.2,0M170.5,330.7m-0.8,0a0.8,0.8 0 1,0 1.6,0a0.8,0.8 0 1,0 -1.6,0M169.8,328.2m-0.9,0a0.9,0.9 0 1,0 1.8,0a0.9,0.9 0 1,0 -1.8,0M172,350.2m-0.8,0a0.8,0.8 0 1,0 1.6,0a0.8,0.8 0 1,0 -1.6,0M165.5,296.5m-1,0a1,1 0 1,0 2,0a1,1 0 1,0 -2,0M169.1,352.4m-1.1,0a1.1,1.1 0 1,0 2.1,0a1.1,1.1 0 1,0 -2.1,0M164.8,333.5m-0.6,0a0.6,0.6 0 1,0 1.2,0a0.6,0.6 0 1,0 -1.2,0M172.2,346.2m-1,0a1,1 0 1,0 2,0a1,1 0 1,0 -2,0M171.5,352.7m-0.8,0a0.8,0.8 0 1,0 1.7,0a0.8,0.8 0 1,0 -1.7,0M158.1,297m-0.9,0a0.9,0.9 0 1,0 1.8,0a0.9,0.9 0 1,0 -1.8,0M169.9,321.5m-1,0a1,1 0 1,0 2,0a1,1 0 1,0 -2,0M166.1,341.3m-0.7,0a0.7,0.7 0 1,0 1.4,0a0.7,0.7 0 1,0 -1.4,0M164.2,300.4m-0.8,0a0.8,0.8 0 1,0 1.5,0a0.8,0.8 0 1,0 -1.5,0M166.1,293.3m-0.8,0a0.8,0.8 0 1,0 1.5,0a0.8,0.8 0 1,0 -1.5,0M170.2,325.4m-1.1,0a1.1,1.1 0 1,0 2.1,0a1.1,1.1 0 1,0 -2.1,0M166.1,320.3m-0.5,0a0.5,0.5 0 1,0 1,0a0.5,0.5 0 1,0 -1,0M162.4,312.8m-1,0a1,1 0 1,0 2,0a1,1 0 1,0 -2,0M162.6,298.4m-0.8,0a0.8,0.8 0 1,0 1.7,0a0.8,0.8 0 1,0 -1.7,0M164.4,308.2m-1,0a1,1 0 1,0 1.9,0a1,1 0 1,0 -1.9,0M162.8,290.9m-0.7,0a0.7,0.7 0 1,0 1.3,0a0.7,0.7 0 1,0 -1.3,0M168.3,339.4m-1,0a1,1 0 1,0 1.9,0a1,1 0 1,0 -1.9,0M169,349.5m-0.8,0a0.8,0.8 0 1,0 1.6,0a0.8,0.8 0 1,0 -1.6,0M167.6,320.6m-0.8,0a0.8,0.8 0 1,0 1.6,0a0.8,0.8 0 1,0 -1.6,0M169.5,319.7m-1,0a1,1 0 1,0 2.1,0a1,1 0 1,0 -2.1,0M167.6,351.3m-1.1,0a1.1,1.1 0 1,0 2.1,0a1.1,1.1 0 1,0 -2.1,0M165.6,341.5m-0.8,0a0.8,0.8 0 1,0 1.5,0a0.8,0.8 0 1,0 -1.5,0M159.6,287.5m-0.9,0a0.9,0.9 0 1,0 1.8,0a0.9,0.9 0 1,0 -1.8,0M171.9,337.8m-0.9,0a0.9,0.9 0 1,0 1.9,0a0.9,0.9 0 1,0 -1.9,0M164,333.5m-1.1,0a1.1,1.1 0 1,0 2.2,0a1.1,1.1 0 1,0 -2.2,0M167.3,299.8m-0.8,0a0.8,0.8 0 1,0 1.6,0a0.8,0.8 0 1,0 -1.6,0M173.2,352.3m-0.8,0a0.8,0.8 0 1,0 1.5,0a0.8,0.8 0 1,0 -1.5,0M164.5,319.3m-0.7,0a0.7,0.7 0 1,0 1.4,0a0.7,0.7 0 1,0 -1.4,0M163.4,335.9m-0.8,0a0.8,0.8 0 1,0 1.5,0a0.8,0.8 0 1,0 -1.5,0M159.9,287m-0.8,0a0.8,0.8 0 1,0 1.6,0a0.8,0.8 0 1,0 -1.6,0M166.2,291.2m-1.1,0a1.1,1.1 0 1,0 2.2,0a1.1,1.1 0 1,0 -2.2,0M160.1,289.6m-1,0a1,1 0 1,0 1.9,0a1,1 0 1,0 -1.9,0M160.4,303.5m-1,0a1,1 0 1,0 2.1,0a1,1 0 1,0 -2.1,0M166.5,340.2m-1.1,0a1.1,1.1 0 1,0 2.1,0a1.1,1.1 0 1,0 -2.1,0M168.2,322.5m-0.5,0a0.5,0.5 0 1,0 1.1,0a0.5,0.5 0 1,0 -1.1,0M166.8,330.6m-1.1,0a1.1,1.1 0 1,0 2.1,0a1.1,1.1 0 1,0 -2.1,0M169.7,326.9m-1,0a1,1 0 1,0 2,0a1,1 0 1,0 -2,0M165.1,289.4m-0.7,0a0.7,0.7 0 1,0 1.4,0a0.7,0.7 0 1,0 -1.4,0M411.7,171.5m-0.6,0a0.6,0.6 0 1,0 1.2,0a0.6,0.6 0 1,0 -1.2,0M408,170.9m-0.6,0a0.6,0.6 0 1,0 1.2,0a0.6,0.6 0 1,0 -1.2,0M404,173.7m-0.7,0a0.7,0.7 0 1,0 1.5,0a0.7,0.7 0 1,0 -1.5,0M410.2,171.7m-0.6,0a0.6,0.6 0 1,0 1.3,0a0.6,0.6 0 1,0 -1.3,0M405.5,172.2m-0.5,0a0.5,0.5 0 1,0 1,0a0.5,0.5 0 1,0 -1,0M411.3,170.4m-0.9,0a0.9,0.9 0 1,0 1.7,0a0.9,0.9 0 1,0 -1.7,0M410.6,172.4m-0.8,0a0.8,0.8 0 1,0 1.6,0a0.8,0.8 0 1,0 -1.6,0M410.8,172.3m-0.9,0a0.9,0.9 0 1,0 1.8,0a0.9,0.9 0 1,0 -1.8,0M413.1,171.3m-1.1,0a1.1,1.1 0 1,0 2.2,0a1.1,1.1 0 1,0 -2.2,0M411.5,171.5m-0.8,0a0.8,0.8 0 1,0 1.5,0a0.8,0.8 0 1,0 -1.5,0M403.7,172.6m-1.1,0a1.1,1.1 0 1,0 2.1,0a1.1,1.1 0 1,0 -2.1,0M405.5,171.9m-1.1,0a1.1,1.1 0 1,0 2.3,0a1.1,1.1 0 1,0 -2.3,0M424.5,161.1m-0.7,0a0.7,0.7 0 1,0 1.4,0a0.7,0.7 0 1,0 -1.4,0M416.5,166.3m-0.8,0a0.8,0.8 0 1,0 1.7,0a0.8,0.8 0 1,0 -1.7,0M418.6,170.2m-0.9,0a0.9,0.9 0 1,0 1.8,0a0.9,0.9 0 1,0 -1.8,0M418.4,167.4m-0.8,0a0.8,0.8 0 1,0 1.5,0a0.8,0.8 0 1,0 -1.5,0M412.6,170.6m-0.9,0a0.9,0.9 0 1,0 1.8,0a0.9,0.9 0 1,0 -1.8,0M415.6,166.5m-0.7,0a0.7,0.7 0 1,0 1.4,0a0.7,0.7 0 1,0 -1.4,0M413.7,167.8m-0.5,0a0.5,0.5 0 1,0 1,0a0.5,0.5 0 1,0 -1,0M415.5,168.1m-0.9,0a0.9,0.9 0 1,0 1.8,0a0.9,0.9 0 1,0 -1.8,0M423,164.2m-1.2,0a1.2,1.2 0 1,0 2.3,0a1.2,1.2 0 1,0 -2.3,0M417,169m-0.6,0a0.6,0.6 0 1,0 1.2,0a0.6,0.6 0 1,0 -1.2,0M422.6,161.5m-1.1,0a1.1,1.1 0 1,0 2.3,0a1.1,1.1 0 1,0 -2.3,0M424.5,162.9m-1.1,0a1.1,1.1 0 1,0 2.2,0a1.1,1.1 0 1,0 -2.2,0M427,159.7m-1.1,0a1.1,1.1 0 1,0 2.3,0a1.1,1.1 0 1,0 -2.3,0M436.5,154.7m-1.2,0a1.2,1.2 0 1,0 2.3,0a1.2,1.2 0 1,0 -2.3,0M434.3,154.1m-0.5,0a0.5,0.5 0 1,0 1,0a0.5,0.5 0 1,0 -1,0M426.1,157.9m-1.1,0a1.1,1.1 0 1,0 2.3,0a1.1,1.1 0 1,0 -2.3,0M432.5,156.8m-1,0a1,1 0 1,0 2,0a1,1 0 1,0 -2,0M428.6,158.2m-1.1,0a1.1,1.1 0 1,0 2.1,0a1.1,1.1 0 1,0 -2.1,0M431.4,157.4m-0.5,0a0.5,0.5 0 1,0 1.1,0a0.5,0.5 0 1,0 -1.1,0M432.8,152.9m-0.7,0a0.7,0.7 0 1,0 1.4,0a0.7,0.7 0 1,0 -1.4,0M432.5,156m-1.2,0a1.2,1.2 0 1,0 2.5,0a1.2,1.2 0 1,0 -2.5,0M430.5,156.7m-1,0a1,1 0 1,0 2,0a1,1 0 1,0 -2,0M435,155.3m-0.6,0a0.6,0.6 0 1,0 1.1,0a0.6,0.6 0 1,0 -1.1,0M425.7,160.7m-0.7,0a0.7,0.7 0 1,0 1.5,0a0.7,0.7 0 1,0 -1.5,0M440.4,146.2m-0.7,0a0.7,0.7 0 1,0 1.4,0a0.7,0.7 0 1,0 -1.4,0M444.9,148.2m-0.7,0a0.7,0.7 0 1,0 1.4,0a0.7,0.7 0 1,0 -1.4,0M442.2,148.5m-0.6,0a0.6,0.6 0 1,0 1.2,0a0.6,0.6 0 1,0 -1.2,0M444.6,147.8m-1.2,0a1.2,1.2 0 1,0 2.4,0a1.2,1.2 0 1,0 -2.4,0M437.2,154m-1.2,0a1.2,1.2 0 1,0 2.5,0a1.2,1.2 0 1,0 -2.5,0M440.5,147.8m-1.2,0a1.2,1.2 0 1,0 2.4,0a1.2,1.2 0 1,0 -2.4,0M439.7,149.5m-0.9,0a0.9,0.9 0 1,0 1.8,0a0.9,0.9 0 1,0 -1.8,0M444.9,146.6m-0.9,0a0.9,0.9 0 1,0 1.8,0a0.9,0.9 0 1,0 -1.8,0M447.1,144.4m-1.2,0a1.2,1.2 0 1,0 2.3,0a1.2,1.2 0 1,0 -2.3,0M439.7,146.6m-0.9,0a0.9,0.9 0 1,0 1.7,0a0.9,0.9 0 1,0 -1.7,0M440.7,147.5m-0.8,0a0.8,0.8 0 1,0 1.5,0a0.8,0.8 0 1,0 -1.5,0M442.1,148m-1.1,0a1.1,1.1 0 1,0 2.1,0a1.1,1.1 0 1,0 -2.1,0M444.5,140m-1,0a1,1 0 1,0 2.1,0a1,1 0 1,0 -2.1,0M445.2,137m-0.8,0a0.8,0.8 0 1,0 1.6,0a0.8,0.8 0 1,0 -1.6,0M446.6,136.1m-0.8,0a0.8,0.8 0 1,0 1.6,0a0.8,0.8 0 1,0 -1.6,0M444.7,140.8m-1.1,0a1.1,1.1 0 1,0 2.3,0a1.1,1.1 0 1,0 -2.3,0M449.1,141.3m-0.7,0a0.7,0.7 0 1,0 1.4,0a0.7,0.7 0 1,0 -1.4,0M445.1,140.1m-1.2,0a1.2,1.2 0 1,0 2.4,0a1.2,1.2 0 1,0 -2.4,0M447.9,138.3m-1.2,0a1.2,1.2 0 1,0 2.4,0a1.2,1.2 0 1,0 -2.4,0M446.5,138.2m-0.5,0a0.5,0.5 0 1,0 1.1,0a0.5,0.5 0 1,0 -1.1,0M446.2,140m-1,0a1,1 0 1,0 2,0a1,1 0 1,0 -2,0M444.7,144.4m-0.6,0a0.6,0.6 0 1,0 1.2,0a0.6,0.6 0 1,0 -1.2,0M445.9,140.1m-1.1,0a1.1,1.1 0 1,0 2.1,0a1.1,1.1 0 1,0 -2.1,0M445,137.6m-0.7,0a0.7,0.7 0 1,0 1.5,0a0.7,0.7 0 1,0 -1.5,0M447.3,130.8m-0.6,0a0.6,0.6 0 1,0 1.2,0a0.6,0.6 0 1,0 -1.2,0M448.9,135.1m-0.7,0a0.7,0.7 0 1,0 1.3,0a0.7,0.7 0 1,0 -1.3,0M451.4,129.3m-0.6,0a0.6,0.6 0 1,0 1.2,0a0.6,0.6 0 1,0 -1.2,0M444.7,134.5m-0.6,0a0.6,0.6 0 1,0 1.1,0a0.6,0.6 0 1,0 -1.1,0M445.7,135.2m-1.2,0a1.2,1.2 0 1,0 2.3,0a1.2,1.2 0 1,0 -2.3,0M448,130.4m-0.9,0a0.9,0.9 0 1,0 1.8,0a0.9,0.9 0 1,0 -1.8,0M446.5,131.8m-0.7,0a0.7,0.7 0 1,0 1.4,0a0.7,0.7 0 1,0 -1.4,0M447.2,129m-1,0a1,1 0 1,0 1.9,0a1,1 0 1,0 -1.9,0M447.4,128.8m-0.7,0a0.7,0.7 0 1,0 1.4,0a0.7,0.7 0 1,0 -1.4,0M447.1,135.6m-1.1,0a1.1,1.1 0 1,0 2.3,0a1.1,1.1 0 1,0 -2.3,0M446.4,127.7m-1,0a1,1 0 1,0 2.1,0a1,1 0 1,0 -2.1,0M448.8,130m-0.5,0a0.5,0.5 0 1,0 1,0a0.5,0.5 0 1,0 -1,0M455.3,127.1m-1.1,0a1.1,1.1 0 1,0 2.3,0a1.1,1.1 0 1,0 -2.3,0M457.7,119.2m-0.6,0a0.6,0.6 0 1,0 1.2,0a0.6,0.6 0 1,0 -1.2,0M455.3,126.6m-1,0a1,1 0 1,0 2.1,0a1,1 0 1,0 -2.1,0M457,123.4m-0.9,0a0.9,0.9 0 1,0 1.8,0a0.9,0.9 0 1,0 -1.8,0M451,127.2m-1.2,0a1.2,1.2 0 1,0 2.4,0a1.2,1.2 0 1,0 -2.4,0M454.7,121.9m-0.7,0a0.7,0.7 0 1,0 1.4,0a0.7,0.7 0 1,0 -1.4,0M456.6,121.9m-0.6,0a0.6,0.6 0 1,0 1.1,0a0.6,0.6 0 1,0 -1.1,0M454.9,124.1m-0.7,0a0.7,0.7 0 1,0 1.3,0a0.7,0.7 0 1,0 -1.3,0M452.8,123m-0.8,0a0.8,0.8 0 1,0 1.7,0a0.8,0.8 0 1,0 -1.7,0M459.5,122.8m-0.9,0a0.9,0.9 0 1,0 1.7,0a0.9,0.9 0 1,0 -1.7,0M450.3,128.9m-1,0a1,1 0 1,0 2.1,0a1,1 0 1,0 -2.1,0M449.9,126.3m-1,0a1,1 0 1,0 2,0a1,1 0 1,0 -2,0M459.7,118.1m-1.2,0a1.2,1.2 0 1,0 2.4,0a1.2,1.2 0 1,0 -2.4,0M457.8,118.2m-0.8,0a0.8,0.8 0 1,0 1.6,0a0.8,0.8 0 1,0 -1.6,0M460.4,116.6m-1.1,0a1.1,1.1 0 1,0 2.1,0a1.1,1.1 0 1,0 -2.1,0M459.8,118.8m-0.7,0a0.7,0.7 0 1,0 1.5,0a0.7,0.7 0 1,0 -1.5,0M461.2,112.9m-1.1,0a1.1,1.1 0 1,0 2.1,0a1.1,1.1 0 1,0 -2.1,0M462.7,118.4m-0.6,0a0.6,0.6 0 1,0 1.3,0a0.6,0.6 0 1,0 -1.3,0M459.7,119.7m-1.2,0a1.2,1.2 0 1,0 2.4,0a1.2,1.2 0 1,0 -2.4,0M459.3,118.3m-1.2,0a1.2,1.2 0 1,0 2.5,0a1.2,1.2 0 1,0 -2.5,0M457.5,117.6m-0.8,0a0.8,0.8 0 1,0 1.6,0a0.8,0.8 0 1,0 -1.6,0M464.7,114.6m-1.2,0a1.2,1.2 0 1,0 2.5,0a1.2,1.2 0 1,0 -2.5,0M462.1,111.9m-1.2,0a1.2,1.2 0 1,0 2.4,0a1.2,1.2 0 1,0 -2.4,0M459.9,115.5m-0.8,0a0.8,0.8 0 1,0 1.6,0a0.8,0.8 0 1,0 -1.6,0M463.9,106.8m-0.5,0a0.5,0.5 0 1,0 1,0a0.5,0.5 0 1,0 -1,0M463.6,111.4m-0.6,0a0.6,0.6 0 1,0 1.2,0a0.6,0.6 0 1,0 -1.2,0M465.6,100.5m-1.1,0a1.1,1.1 0 1,0 2.2,0a1.1,1.1 0 1,0 -2.2,0M466.2,100.9m-0.9,0a0.9,0.9 0 1,0 1.7,0a0.9,0.9 0 1,0 -1.7,0M466.8,106.9m-0.8,0a0.8,0.8 0 1,0 1.5,0a0.8,0.8 0 1,0 -1.5,0M464.5,101.6m-1.1,0a1.1,1.1 0 1,0 2.2,0a1.1,1.1 0 1,0 -2.2,0M464,101.5m-0.5,0a0.5,0.5 0 1,0 1.1,0a0.5,0.5 0 1,0 -1.1,0M465.7,102.8m-1.2,0a1.2,1.2 0 1,0 2.3,0a1.2,1.2 0 1,0 -2.3,0M463.4,110.7m-1,0a1,1 0 1,0 1.9,0a1,1 0 1,0 -1.9,0M465.4,108.8m-0.7,0a0.7,0.7 0 1,0 1.4,0a0.7,0.7 0 1,0 -1.4,0M464.5,114.6m-1,0a1,1 0 1,0 2,0a1,1 0 1,0 -2,0M464.6,100.2m-0.9,0a0.9,0.9 0 1,0 1.7,0a0.9,0.9 0 1,0 -1.7,0M475.3,94.5m-0.7,0a0.7,0.7 0 1,0 1.4,0a0.7,0.7 0 1,0 -1.4,0M469.8,100.1m-0.6,0a0.6,0.6 0 1,0 1.3,0a0.6,0.6 0 1,0 -1.3,0M473.2,97.4m-1.1,0a1.1,1.1 0 1,0 2.2,0a1.1,1.1 0 1,0 -2.2,0M470,96.3m-0.8,0a0.8,0.8 0 1,0 1.5,0a0.8,0.8 0 1,0 -1.5,0M469.8,94.7m-1.1,0a1.1,1.1 0 1,0 2.1,0a1.1,1.1 0 1,0 -2.1,0M466.5,97.2m-0.9,0a0.9,0.9 0 1,0 1.8,0a0.9,0.9 0 1,0 -1.8,0M471.6,100.5m-1.2,0a1.2,1.2 0 1,0 2.5,0a1.2,1.2 0 1,0 -2.5,0M466.7,97.3m-0.9,0a0.9,0.9 0 1,0 1.7,0a0.9,0.9 0 1,0 -1.7,0M471.2,95.3m-0.8,0a0.8,0.8 0 1,0 1.6,0a0.8,0.8 0 1,0 -1.6,0M471.8,98.1m-1.1,0a1.1,1.1 0 1,0 2.3,0a1.1,1.1 0 1,0 -2.3,0M469.3,98.3m-0.7,0a0.7,0.7 0 1,0 1.4,0a0.7,0.7 0 1,0 -1.4,0M470,98.4m-0.6,0a0.6,0.6 0 1,0 1.3,0a0.6,0.6 0 1,0 -1.3,0M472.7,92m-1.2,0a1.2,1.2 0 1,0 2.3,0a1.2,1.2 0 1,0 -2.3,0M474.1,91.4m-1.2,0a1.2,1.2 0 1,0 2.5,0a1.2,1.2 0 1,0 -2.5,0M473.4,93.6m-1,0a1,1 0 1,0 2,0a1,1 0 1,0 -2,0M474.2,89.7m-1.1,0a1.1,1.1 0 1,0 2.2,0a1.1,1.1 0 1,0 -2.2,0M477.8,88.5m-0.7,0a0.7,0.7 0 1,0 1.4,0a0.7,0.7 0 1,0 -1.4,0M472,96.3m-0.9,0a0.9,0.9 0 1,0 1.9,0a0.9,0.9 0 1,0 -1.9,0M475.4,91.7m-0.8,0a0.8,0.8 0 1,0 1.7,0a0.8,0.8 0 1,0 -1.7,0M475.4,95.5m-0.6,0a0.6,0.6 0 1,0 1.2,0a0.6,0.6 0 1,0 -1.2,0M475.6,90.5m-0.8,0a0.8,0.8 0 1,0 1.6,0a0.8,0.8 0 1,0 -1.6,0M472.2,92.9m-0.9,0a0.9,0.9 0 1,0 1.9,0a0.9,0.9 0 1,0 -1.9,0M473.7,89.3m-0.7,0a0.7,0.7 0 1,0 1.5,0a0.7,0.7 0 1,0 -1.5,0M473.7,90.5m-0.7,0a0.7,0.7 0 1,0 1.3,0a0.7,0.7 0 1,0 -1.3,0M339.9,193.9m-0.7,0a0.7,0.7 0 1,0 1.3,0a0.7,0.7 0 1,0 -1.3,0M336.4,197.1m-0.7,0a0.7,0.7 0 1,0 1.3,0a0.7,0.7 0 1,0 -1.3,0M334.9,196.7m-0.8,0a0.8,0.8 0 1,0 1.6,0a0.8,0.8 0 1,0 -1.6,0M336.9,196m-1,0a1,1 0 1,0 2,0a1,1 0 1,0 -2,0M335.7,198.1m-1.3,0a1.3,1.3 0 1,0 2.6,0a1.3,1.3 0 1,0 -2.6,0M335.1,197.5m-0.7,0a0.7,0.7 0 1,0 1.5,0a0.7,0.7 0 1,0 -1.5,0M334.1,197.1m-1.2,0a1.2,1.2 0 1,0 2.3,0a1.2,1.2 0 1,0 -2.3,0M337.5,196.4m-0.7,0a0.7,0.7 0 1,0 1.4,0a0.7,0.7 0 1,0 -1.4,0M333.1,197.9m-1.2,0a1.2,1.2 0 1,0 2.5,0a1.2,1.2 0 1,0 -2.5,0M334,196.7m-1,0a1,1 0 1,0 1.9,0a1,1 0 1,0 -1.9,0M342.1,195m-1.2,0a1.2,1.2 0 1,0 2.5,0a1.2,1.2 0 1,0 -2.5,0M342.4,196.2m-1.3,0a1.3,1.3 0 1,0 2.6,0a1.3,1.3 0 1,0 -2.6,0M342.1,196.6m-1.3,0a1.3,1.3 0 1,0 2.6,0a1.3,1.3 0 1,0 -2.6,0M344.3,195.9m-0.9,0a0.9,0.9 0 1,0 1.7,0a0.9,0.9 0 1,0 -1.7,0M349.7,194.6m-0.7,0a0.7,0.7 0 1,0 1.4,0a0.7,0.7 0 1,0 -1.4,0M347.5,193.2m-1.2,0a1.2,1.2 0 1,0 2.4,0a1.2,1.2 0 1,0 -2.4,0M347.7,192.3m-0.9,0a0.9,0.9 0 1,0 1.8,0a0.9,0.9 0 1,0 -1.8,0M345.6,192.6m-0.8,0a0.8,0.8 0 1,0 1.5,0a0.8,0.8 0 1,0 -1.5,0M349,191.8m-1,0a1,1 0 1,0 2,0a1,1 0 1,0 -2,0M346.7,195m-0.7,0a0.7,0.7 0 1,0 1.4,0a0.7,0.7 0 1,0 -1.4,0M355.5,191.7m-0.8,0a0.8,0.8 0 1,0 1.6,0a0.8,0.8 0 1,0 -1.6,0M354,191.4m-1.1,0a1.1,1.1 0 1,0 2.1,0a1.1,1.1 0 1,0 -2.1,0M353.8,189.7m-1,0a1,1 0 1,0 2.1,0a1,1 0 1,0 -2.1,0M353.6,192.6m-1.1,0a1.1,1.1 0 1,0 2.3,0a1.1,1.1 0 1,0 -2.3,0M353.2,191.5m-0.7,0a0.7,0.7 0 1,0 1.3,0a0.7,0.7 0 1,0 -1.3,0M351.1,191m-0.9,0a0.9,0.9 0 1,0 1.8,0a0.9,0.9 0 1,0 -1.8,0M353.2,192m-0.7,0a0.7,0.7 0 1,0 1.3,0a0.7,0.7 0 1,0 -1.3,0M357.3,190.8m-0.6,0a0.6,0.6 0 1,0 1.3,0a0.6,0.6 0 1,0 -1.3,0M354.1,193.3m-0.7,0a0.7,0.7 0 1,0 1.4,0a0.7,0.7 0 1,0 -1.4,0M359.1,191.2m-1.2,0a1.2,1.2 0 1,0 2.3,0a1.2,1.2 0 1,0 -2.3,0M361.3,188.8m-1.3,0a1.3,1.3 0 1,0 2.5,0a1.3,1.3 0 1,0 -2.5,0M362.7,186.1m-1.3,0a1.3,1.3 0 1,0 2.5,0a1.3,1.3 0 1,0 -2.5,0M358.7,190.5m-0.7,0a0.7,0.7 0 1,0 1.4,0a0.7,0.7 0 1,0 -1.4,0M363,186.3m-0.7,0a0.7,0.7 0 1,0 1.4,0a0.7,0.7 0 1,0 -1.4,0M362.8,186m-0.8,0a0.8,0.8 0 1,0 1.6,0a0.8,0.8 0 1,0 -1.6,0M361,185.3m-0.7,0a0.7,0.7 0 1,0 1.5,0a0.7,0.7 0 1,0 -1.5,0M361,189.7m-1.2,0a1.2,1.2 0 1,0 2.5,0a1.2,1.2 0 1,0 -2.5,0M360.6,187.4m-1,0a1,1 0 1,0 1.9,0a1,1 0 1,0 -1.9,0M361.8,187.9m-1,0a1,1 0 1,0 2,0a1,1 0 1,0 -2,0M363.1,185.1m-1.3,0a1.3,1.3 0 1,0 2.6,0a1.3,1.3 0 1,0 -2.6,0M368.7,188.4m-0.8,0a0.8,0.8 0 1,0 1.6,0a0.8,0.8 0 1,0 -1.6,0M371.9,188.2m-1.1,0a1.1,1.1 0 1,0 2.3,0a1.1,1.1 0 1,0 -2.3,0M366.6,187.3m-0.6,0a0.6,0.6 0 1,0 1.3,0a0.6,0.6 0 1,0 -1.3,0M369.7,188.6m-1.3,0a1.3,1.3 0 1,0 2.6,0a1.3,1.3 0 1,0 -2.6,0M369.1,186.2m-0.6,0a0.6,0.6 0 1,0 1.2,0a0.6,0.6 0 1,0 -1.2,0M363.4,185.1m-0.9,0a0.9,0.9 0 1,0 1.8,0a0.9,0.9 0 1,0 -1.8,0M369.3,185.2m-0.8,0a0.8,0.8 0 1,0 1.5,0a0.8,0.8 0 1,0 -1.5,0M367.7,185.3m-0.8,0a0.8,0.8 0 1,0 1.7,0a0.8,0.8 0 1,0 -1.7,0M364.6,183.8m-1,0a1,1 0 1,0 2,0a1,1 0 1,0 -2,0M367.8,187.5m-0.9,0a0.9,0.9 0 1,0 1.9,0a0.9,0.9 0 1,0 -1.9,0M374,187.3m-0.7,0a0.7,0.7 0 1,0 1.4,0a0.7,0.7 0 1,0 -1.4,0M372.8,189.9m-1.1,0a1.1,1.1 0 1,0 2.3,0a1.1,1.1 0 1,0 -2.3,0M373.7,185.5m-1.1,0a1.1,1.1 0 1,0 2.1,0a1.1,1.1 0 1,0 -2.1,0M375,187.5m-0.9,0a0.9,0.9 0 1,0 1.8,0a0.9,0.9 0 1,0 -1.8,0M378.5,184.7m-1.2,0a1.2,1.2 0 1,0 2.5,0a1.2,1.2 0 1,0 -2.5,0M372.1,188.3m-0.8,0a0.8,0.8 0 1,0 1.5,0a0.8,0.8 0 1,0 -1.5,0M373,186.6m-1,0a1,1 0 1,0 2,0a1,1 0 1,0 -2,0M376.8,184.5m-1,0a1,1 0 1,0 2.1,0a1,1 0 1,0 -2.1,0M375.5,188.4m-0.7,0a0.7,0.7 0 1,0 1.4,0a0.7,0.7 0 1,0 -1.4,0M373.2,186m-1.2,0a1.2,1.2 0 1,0 2.4,0a1.2,1.2 0 1,0 -2.4,0M384,181m-1.2,0a1.2,1.2 0 1,0 2.4,0a1.2,1.2 0 1,0 -2.4,0M383,184.1m-0.9,0a0.9,0.9 0 1,0 1.8,0a0.9,0.9 0 1,0 -1.8,0M378.5,183.7m-0.6,0a0.6,0.6 0 1,0 1.3,0a0.6,0.6 0 1,0 -1.3,0M381.2,185.2m-1.2,0a1.2,1.2 0 1,0 2.4,0a1.2,1.2 0 1,0 -2.4,0M382.2,183.4m-0.9,0a0.9,0.9 0 1,0 1.8,0a0.9,0.9 0 1,0 -1.8,0M383.4,182m-1,0a1,1 0 1,0 2.1,0a1,1 0 1,0 -2.1,0M383.7,183.9m-0.6,0a0.6,0.6 0 1,0 1.2,0a0.6,0.6 0 1,0 -1.2,0M379.2,185.7m-1.3,0a1.3,1.3 0 1,0 2.5,0a1.3,1.3 0 1,0 -2.5,0M382.6,184.6m-0.8,0a0.8,0.8 0 1,0 1.7,0a0.8,0.8 0 1,0 -1.7,0M381,185.3m-1.1,0a1.1,1.1 0 1,0 2.2,0a1.1,1.1 0 1,0 -2.2,0M391.9,180m-1.2,0a1.2,1.2 0 1,0 2.4,0a1.2,1.2 0 1,0 -2.4,0M391.8,179.8m-1.1,0a1.1,1.1 0 1,0 2.2,0a1.1,1.1 0 1,0 -2.2,0M389.1,179.3m-1,0a1,1 0 1,0 2.1,0a1,1 0 1,0 -2.1,0M386.6,180.6m-0.6,0a0.6,0.6 0 1,0 1.2,0a0.6,0.6 0 1,0 -1.2,0M387,181.3m-0.7,0a0.7,0.7 0 1,0 1.4,0a0.7,0.7 0 1,0 -1.4,0M383.6,183m-1,0a1,1 0 1,0 2.1,0a1,1 0 1,0 -2.1,0M391.5,178.3m-1,0a1,1 0 1,0 2,0a1,1 0 1,0 -2,0M388.8,182.4m-1.2,0a1.2,1.2 0 1,0 2.4,0a1.2,1.2 0 1,0 -2.4,0M386.4,183.7m-1.3,0a1.3,1.3 0 1,0 2.5,0a1.3,1.3 0 1,0 -2.5,0M384.8,180.4m-0.6,0a0.6,0.6 0 1,0 1.2,0a0.6,0.6 0 1,0 -1.2,0M401.7,177.8m-1.2,0a1.2,1.2 0 1,0 2.4,0a1.2,1.2 0 1,0 -2.4,0M398.2,176.1m-0.7,0a0.7,0.7 0 1,0 1.3,0a0.7,0.7 0 1,0 -1.3,0M399,176.7m-0.9,0a0.9,0.9 0 1,0 1.8,0a0.9,0.9 0 1,0 -1.8,0M392.8,178.1m-1.1,0a1.1,1.1 0 1,0 2.2,0a1.1,1.1 0 1,0 -2.2,0M396,180.1m-1,0a1,1 0 1,0 1.9,0a1,1 0 1,0 -1.9,0M401.1,175.3m-0.9,0a0.9,0.9 0 1,0 1.8,0a0.9,0.9 0 1,0 -1.8,0M398,177.5m-1.1,0a1.1,1.1 0 1,0 2.2,0a1.1,1.1 0 1,0 -2.2,0M397.2,179.3m-0.7,0a0.7,0.7 0 1,0 1.3,0a0.7,0.7 0 1,0 -1.3,0M399.5,175.3m-0.7,0a0.7,0.7 0 1,0 1.5,0a0.7,0.7 0 1,0 -1.5,0M401.4,175.4m-0.9,0a0.9,0.9 0 1,0 1.9,0a0.9,0.9 0 1,0 -1.9,0M407.2,173.5m-0.9,0a0.9,0.9 0 1,0 1.9,0a0.9,0.9 0 1,0 -1.9,0M406,174.4m-1.3,0a1.3,1.3 0 1,0 2.5,0a1.3,1.3 0 1,0 -2.5,0M403.6,176.5m-0.9,0a0.9,0.9 0 1,0 1.9,0a0.9,0.9 0 1,0 -1.9,0M403.4,174.8m-1.2,0a1.2,1.2 0 1,0 2.3,0a1.2,1.2 0 1,0 -2.3,0M408.9,174.4m-0.8,0a0.8,0.8 0 1,0 1.7,0a0.8,0.8 0 1,0 -1.7,0M405.2,176.7m-0.7,0a0.7,0.7 0 1,0 1.3,0a0.7,0.7 0 1,0 -1.3,0M408.3,171.9m-0.8,0a0.8,0.8 0 1,0 1.6,0a0.8,0.8 0 1,0 -1.6,0M409.8,172.5m-1.2,0a1.2,1.2 0 1,0 2.4,0a1.2,1.2 0 1,0 -2.4,0M403.9,176m-1.1,0a1.1,1.1 0 1,0 2.3,0a1.1,1.1 0 1,0 -2.3,0M409,173m-0.8,0a0.8,0.8 0 1,0 1.7,0a0.8,0.8 0 1,0 -1.7,0M412.7,172.6m-1.1,0a1.1,1.1 0 1,0 2.2,0a1.1,1.1 0 1,0 -2.2,0M411.6,172.9m-1,0a1,1 0 1,0 2,0a1,1 0 1,0 -2,0M411.4,173.6m-0.8,0a0.8,0.8 0 1,0 1.5,0a0.8,0.8 0 1,0 -1.5,0M411.3,172.6m-1.2,0a1.2,1.2 0 1,0 2.4,0a1.2,1.2 0 1,0 -2.4,0M410.6,170.9m-0.8,0a0.8,0.8 0 1,0 1.7,0a0.8,0.8 0 1,0 -1.7,0M413,169.6m-0.7,0a0.7,0.7 0 1,0 1.5,0a0.7,0.7 0 1,0 -1.5,0M417.7,166.8m-1.3,0a1.3,1.3 0 1,0 2.5,0a1.3,1.3 0 1,0 -2.5,0M411,174.1m-1.2,0a1.2,1.2 0 1,0 2.3,0a1.2,1.2 0 1,0 -2.3,0M415.2,168.2m-1,0a1,1 0 1,0 2.1,0a1,1 0 1,0 -2.1,0M410.5,171.7m-0.6,0a0.6,0.6 0 1,0 1.2,0a0.6,0.6 0 1,0 -1.2,0M502.3,158m-0.9,0a0.9,0.9 0 1,0 1.8,0a0.9,0.9 0 1,0 -1.8,0M500.3,160m-0.9,0a0.9,0.9 0 1,0 1.8,0a0.9,0.9 0 1,0 -1.8,0M504.3,159.6m-0.9,0a0.9,0.9 0 1,0 1.8,0a0.9,0.9 0 1,0 -1.8,0M498.3,162m-0.9,0a0.9,0.9 0 1,0 1.8,0a0.9,0.9 0 1,0 -1.8,0M508.3,155m-0.9,0a0.9,0.9 0 1,0 1.8,0a0.9,0.9 0 1,0 -1.8,0M518.3,154m-0.9,0a0.9,0.9 0 1,0 1.8,0a0.9,0.9 0 1,0 -1.8,0M488.3,159m-0.9,0a0.9,0.9 0 1,0 1.8,0a0.9,0.9 0 1,0 -1.8,0M476.2,144m-0.9,0a0.9,0.9 0 1,0 1.8,0a0.9,0.9 0 1,0 -1.8,0M496.3,141m-0.9,0a0.9,0.9 0 1,0 1.8,0a0.9,0.9 0 1,0 -1.8,0M509.3,139m-0.9,0a0.9,0.9 0 1,0 1.8,0a0.9,0.9 0 1,0 -1.8,0M538.3,132m-0.9,0a0.9,0.9 0 1,0 1.8,0a0.9,0.9 0 1,0 -1.8,0M543.3,134m-0.9,0a0.9,0.9 0 1,0 1.8,0a0.9,0.9 0 1,0 -1.8,0M545.3,136m-0.9,0a0.9,0.9 0 1,0 1.8,0a0.9,0.9 0 1,0 -1.8,0M443.2,172m-0.9,0a0.9,0.9 0 1,0 1.8,0a0.9,0.9 0 1,0 -1.8,0M445.2,170m-0.9,0a0.9,0.9 0 1,0 1.8,0a0.9,0.9 0 1,0 -1.8,0M469.2,182m-0.9,0a0.9,0.9 0 1,0 1.8,0a0.9,0.9 0 1,0 -1.8,0M470.2,189m-0.9,0a0.9,0.9 0 1,0 1.8,0a0.9,0.9 0 1,0 -1.8,0" fill="#000"/></g>
<g clip-path="url(#cb)"><path d="M801,71C802.5,70.7 807.2,68.7 810,69C812.8,69.3 816,70.5 818,73C820,75.5 820.3,79.5 822,84C823.7,88.5 824.8,97 828,100C831.2,103 838.3,99.3 841,102C843.7,104.7 843,111.3 844,116C845,120.7 846.2,125 847,130C847.8,135 849.2,140.7 849,146C848.8,151.3 847.8,157 846,162C844.2,167 840.7,171 838,176C835.3,181 832.3,187.7 830,192C827.7,196.3 825.8,199.9 824,202C822.2,204.1 821,204.6 819,204.4C817,204.2 814.5,203.1 812,201C809.5,198.9 806.2,194.2 804,192C801.8,189.8 801.3,188.4 799,188C796.7,187.6 793,188.8 790,189.6C787,190.4 783.3,192.9 781,193C778.7,193.1 778.2,191.3 776,190C773.8,188.7 769.3,185.8 768,185" fill="none" stroke="#1414f0" stroke-width="1.5"/>
<path d="M768,87.6C768.6,87.4 770.2,86.9 771.6,86.4C773,85.9 775.6,84.7 776.4,84.4" fill="none" stroke="#1414f0" stroke-width="1.5"/>
<text transform="translate(790.8,82.4) rotate(-33)" font-size="19" font-weight="bold" fill="#1414f0" text-anchor="middle">-35</text>
<path d="M925,273C923.2,272.5 918.2,271.3 914,270C909.8,268.7 904.3,267.2 900,265C895.7,262.8 891,260 888,257C885,254 883.3,250.7 882,247C880.7,243.3 880,239 880,235C880,231 880,225.7 882,223C884,220.3 888.3,220.3 892,219C895.7,217.7 900,216.5 904,215C908,213.5 912.7,211.5 916,210C919.3,208.5 922.2,208 924,206C925.8,204 926.4,201.7 927,198C927.6,194.3 926.8,187.3 927.6,184C928.4,180.7 930.3,179.8 932,178C933.7,176.2 936,174.2 938,173C940,171.8 943,171.3 944,171" fill="none" stroke="#1414f0" stroke-width="1.5"/>
<text transform="translate(963,166.4) rotate(-28)" font-size="19" font-weight="bold" fill="#1414f0" text-anchor="middle">-35</text>
<path d="M976,151C978,149.8 984,146.5 988,144C992,141.5 996,139.3 1000,136C1004,132.7 1008,128.3 1012,124C1016,119.7 1021,114.3 1024,110C1027,105.7 1028,101.3 1030,98C1032,94.7 1032.7,93.3 1036,90C1039.3,86.7 1045.3,81 1050,78C1054.7,75 1060,73.8 1064,72C1068,70.2 1070.7,69.2 1074,67C1077.3,64.8 1081,61.3 1084,59C1087,56.7 1089.5,54.8 1092,53C1094.5,51.2 1097.8,48.8 1099,48" fill="none" stroke="#1414f0" stroke-width="1.5"/>
<text transform="translate(944,275) rotate(0)" font-size="19" font-weight="bold" fill="#1414f0" text-anchor="middle">-35</text>
<path d="M963.5,270.9C964.5,272 967.8,274.6 969.9,277.3C972.1,280 974.2,283.5 976.4,287.1C978.6,290.7 980.9,295.3 982.9,298.9C984.9,302.5 986.7,306.1 988.3,308.6C989.9,311.2 991.2,313.2 992.6,314C994,314.9 993.7,314.1 996.9,313.6C1000.1,313.1 1006.6,312 1012,310.8C1017.4,309.6 1023.5,307.9 1029.3,306.5C1035,305 1040.8,303.8 1046.6,302.2C1052.3,300.6 1058.1,298.8 1063.8,296.8C1069.6,294.8 1075.7,292.3 1081.1,290.3C1086.5,288.3 1092.4,286.3 1096.2,284.9C1100,283.5 1099.4,284.3 1104,282C1108.6,279.7 1118.7,273.8 1124,271C1129.3,268.2 1133,266.3 1136,265C1139,263.7 1139.7,262.8 1142,263C1144.3,263.2 1148.7,265.5 1150,266" fill="none" stroke="#1414f0" stroke-width="1.5"/>
<path d="M1186,256C1189,254.8 1198.3,251 1204,249C1209.7,247 1214.7,245.5 1220,244C1225.3,242.5 1233.3,240.7 1236,240" fill="none" stroke="#1414f0" stroke-width="1.5"/>
<text transform="translate(1171,265) rotate(-10)" font-size="19" font-weight="bold" fill="#1414f0" text-anchor="middle">-35</text>
<path d="M1070,128C1068.3,128.9 1063.3,131.9 1060,133.6C1056.7,135.3 1054.3,136.6 1050,138C1045.7,139.4 1039,140.3 1034,142C1029,143.7 1025,145.7 1020,148C1015,150.3 1008.7,153.3 1004,156C999.3,158.7 996.4,162.5 992,164C987.6,165.5 982.4,163.5 977.5,165.1C972.5,166.7 966.7,170.9 962.4,173.7C958.1,176.6 954.5,179.1 951.6,182.4C948.7,185.6 946.7,189.2 945.1,193.2C943.5,197.1 942.4,201.8 941.9,206.1C941.3,210.4 941.5,215.1 941.9,219.1C942.2,223 942.8,226.6 944,229.9C945.3,233.1 947.1,236 949.4,238.5C951.8,241 954.8,243 958.1,245C961.3,246.9 964.9,248.6 968.9,250.4C972.8,252.2 979.6,254.9 981.8,255.8" fill="none" stroke="#1414f0" stroke-width="1.5"/>
<text transform="translate(1001.2,266.6) rotate(5)" font-size="19" font-weight="bold" fill="#1414f0" text-anchor="middle">-55</text>
<path d="M1020.7,261.8C1022.8,261.7 1028.6,262 1033.6,261.2C1038.6,260.3 1045.1,258.5 1050.9,256.8C1056.6,255.2 1062.4,253.4 1068.1,251.4C1073.9,249.5 1080.4,247.1 1085.4,245C1090.4,242.8 1094.3,240.5 1098.4,238.5C1102.5,236.5 1105.7,235.3 1110,233.1C1114.3,230.9 1119.7,227.3 1124,225C1128.3,222.7 1132.7,220.7 1136,219C1139.3,217.3 1142.7,215.8 1144,215C1145.3,214.2 1141.7,216.2 1144,214C1146.3,211.8 1152.7,206 1158,202C1163.3,198 1173,192 1176,190" fill="none" stroke="#1414f0" stroke-width="1.5"/>
<text transform="translate(1194,180) rotate(-58)" font-size="19" font-weight="bold" fill="#1414f0" text-anchor="middle">-55</text>
<path d="M1202,162C1203.7,160.3 1209,155.3 1212,152C1215,148.7 1217.8,145.3 1220,142C1222.2,138.7 1224,135 1225,132C1226,129 1226.8,126.3 1226,124C1225.2,121.7 1223,119.7 1220,118C1217,116.3 1212,114.9 1208,114C1204,113.1 1200.7,112.7 1196,112.4C1191.3,112.1 1185.3,111.9 1180,112C1174.7,112.1 1169.3,112.4 1164,113C1158.7,113.6 1154,114.4 1148,115.6C1142,116.8 1134.7,118.7 1128,120C1121.3,121.3 1111.3,123 1108,123.6" fill="none" stroke="#1414f0" stroke-width="1.5"/>
<text transform="translate(1088.4,130.4) rotate(-3)" font-size="19" font-weight="bold" fill="#1414f0" text-anchor="middle">-55</text>
<path d="M991.5,180.2C993.5,179.3 999.2,176.4 1003.4,174.8C1007.5,173.2 1011.7,171.8 1016.3,170.5C1021,169.2 1026.4,168.1 1031.4,167.3C1036.5,166.4 1041.9,165.8 1046.6,165.5C1051.2,165.3 1055.9,164.9 1059.5,165.5C1063.1,166.2 1066.3,167.7 1068.1,169.4C1070,171.2 1070.7,173.6 1070.7,175.9C1070.7,178.2 1070,180.9 1068.1,183.5C1066.3,186 1062.4,188.5 1059.5,191C1056.6,193.5 1054.1,196 1050.9,198.6C1047.6,201.1 1043.7,203.8 1040.1,206.1C1036.5,208.5 1033.2,210.6 1029.3,212.6C1025.3,214.6 1020.3,216.6 1016.3,218C1012.4,219.4 1008.8,220.5 1005.5,221.2C1002.3,221.9 999.6,222.7 996.9,222.3C994.2,221.9 991.9,220.5 989.4,219.1C986.8,217.6 983.1,214.6 981.8,213.7" fill="none" stroke="#1414f0" stroke-width="1.5"/>
<text transform="translate(986.6,196.4) rotate(-65)" font-size="19" font-weight="bold" fill="#1414f0" text-anchor="middle">-15</text><path d="M768,198L769.9,199.7L771.6,202L774.1,203L776,206L779.2,206.8L779,210L781.6,212.1L782,214.4L780.3,212.9L778.6,210.8L780.6,213.3L782.4,214.4L784.8,216.1L785.1,217.3L786.2,219.5L789.9,221L791.6,221.6L793.9,223L794.2,225.8L794.7,225.6L797,228.1L798.9,230.1L798.2,232.4L799.2,234.7L801.4,237.1L801.3,238.9L802.7,241.9L801.6,243.6L803.9,244.8L802.9,247.4L804.1,248.6L803.2,250L804.4,252.5L802.6,255L802.4,258.3L802.1,261.7L801.2,261L799.8,265.8L801,268.1L803,269.9L804.5,270.1L806.3,269.8L809.9,269.1L811.1,269.7L815.3,271.2L816.3,268.7L818.5,269.4L820.7,266.9L821.9,265.4L823.9,264.3L825,262.6L827.5,262L829.4,259.4L830.6,258.1L831.8,256.9L833.7,254L834.8,250.7L836.3,251.8L837.8,253.9L839.1,257.2L840.5,258.1L841.2,261.4L842.8,263.4L843.4,264.8L841.7,267.8L843.9,269L844.6,270.9L845.5,273.4L845.5,275.8L845.8,278.3L846.7,281.1L846.6,282L846.8,284.9L847.5,286.2L848.1,288.1L849.9,290.7L851.4,292.7L850.7,294.6L853.2,297L853.1,299.3L853,301.5L855.4,304.4L855,306.5L856.3,307.9L857.5,309.7L856.7,312.9L857.3,314.2L858.1,316.6L857.7,319.7L856.6,321.9L858.7,322.9L857.4,325.2L858.1,326.7L857.7,329.9L856.1,331.3L856.3,333.8L855.1,336.5L856.5,337.6L856,342.1L855.3,343.5L855.6,346.1L855.4,346.7L854,350.9L853.1,353.2L853.9,355.7L852.1,358.4L853.1,359.4L852.3,362.6L852,364L853.5,366.9L854.4,366.7L855.3,368.7L855.3,371.6L856.5,373.5L858.8,375.8L860.7,377L859.8,376.7L862.4,381.3L863.7,381.9L866.1,383.5L867,384.7L868.9,386.4L869.7,387.5L871.4,389.9L873,391.4L872,392.8L875.3,394.8L875.8,396.8L877.1,398.6L877.9,400.7M906,400.7L904,398.6L903.8,396.8L900.7,395.7L900.2,395.6L897.4,393.6L895.2,393.2L892.6,391.4L892.5,391.7L889.3,389.5L888.8,389.7L886.6,387.8L884,386.4L883.3,383.8L880.8,383.9L880.1,381.3L879.4,378.7L878.6,377.9L877.7,374.6L876.8,372.7L875.9,369.7L875.9,367.3L875.1,365.1L873.6,364L872.8,361.2L871.5,358.8L871.4,356.5L869.6,354.9L867.7,353.9L865,353.2L865.6,350.2L863.1,350.3L863.6,346.4L863.9,344.6L864.2,341.4L865.7,341.3L866.2,337L866.7,336.6L866.1,333.8L867.7,331.9L866.9,328.8L867.2,327.1L868.3,324.1L869.3,323L868.3,322.3L870.1,317.8L871.1,315.9L869.6,312.7L872.5,312.2L872.3,308.8L873,308.5L874.2,305.6L874.7,302.5L877.4,301.1L877.9,299.7L879.9,298.7L882.2,299.7L883.8,302L886.6,302.5L886.6,303.6L886,306.2L887.4,308.2L886.6,311.2L890.9,311.8L890.6,312.8L893,312.2L895.9,312.8L896.4,311.6L899.5,312.2L902.2,315L903.5,316.5L904.9,317.6L907.1,319.9L908.2,321.4L909.2,324.1L911.3,325L912.4,328.3L914.5,327.9L913.5,331.7L915.7,331.7L917.4,334L918.9,334.9L921.7,335.3L924.7,334.6L924.3,338.1L924.5,340.7L927.4,341.9L927.6,343.5L929,344.3L932.8,344.9L934,344.6L936.3,344.6L938.8,346.7L940.5,347.9L940,349.5L939.7,352.9L938.4,355.4L939.5,359.2L937.5,359.1L936.3,361.3L936.2,364L939.4,362.9L940.5,363.6L943.3,364.1L944.7,361.6L947,359.3L947.4,358.6L949.3,356.9L951.9,353.8L951.8,352.2L953.6,351.6L955.9,348.8L956.9,348.3L958.1,345.8L960.4,344.9L962.1,344L962.4,342.1L964.8,340.6L966.6,340.9L969.7,339.5L971,337.8L973,335.9L975,336L976.5,333.7L979.6,333.5L980.8,333.3L983.6,331L984.4,330L987.2,329.1L987.8,327.9L989.4,324.8L993.5,326L992.6,322.7L994.1,321.6L994.4,318.3L996,316.8L995.8,314L994.7,312.2L996,310L994.7,308.5L995.2,306.3L994.8,303.2L994.1,300.5L994.6,300.1L993.9,296.5L993.4,294.4L993.7,292.5L991.6,290.5L993.1,287.8L992.7,285.2L994.3,286.3L991.5,281.7L990.9,279.3L988.7,276.5L990,276.6L988.3,274.1L986.3,272L984.8,271.5L984.3,270.3L982.9,267.6L981.3,265.5L977.3,264L977,264.7L976.4,262.2L975.7,261.1L973.5,260L972.1,257.5L969.9,255.8L968.8,254.3L965.9,253.3L964.1,250.1L963.5,249.3L961.5,247.4L961.6,245.7L959.2,243.3L958.1,242.8L955.6,242.3L954.6,240.4L953.4,238.1L952.7,236.3L951.7,233.5L950.9,232.5L948.3,229.9L949.7,227.1L949.8,225L949.4,222.3L951.1,222.5L951.9,219.4L951.6,216.9L953.7,214.8L955.9,213.5L957.4,211.8L958.6,210.8L959.1,208.3L961.8,207.6L963,206.2L964.5,205L966.4,203L968.8,203L971,201.8L972.2,200L976,201.7L976.4,198.6L977.7,198.9L980.7,196L982.9,196.4L985.7,196.3L989.1,193.3L990.4,195.3L991.8,194.7L995.3,195.5L996.7,194.8L999.1,194.2L1000.2,198.8L1002.3,198.6L1003.1,200.3L1003,203.4L1001.6,203.9L1002.3,207.2L1004.4,209.4L1004.5,212.6L1006.4,212.9L1008.8,212.6L1008.7,210.7L1009.5,207.2L1009.9,206.1L1008.3,205.3L1008.3,201.6L1006.6,200.7L1006.9,197.6L1008.8,196.4L1012.3,196.8L1013.8,195.5L1016.3,196.4L1018.4,197L1020.1,196.1L1025.2,193.8L1025,194.2L1027.5,194.6L1031,191.5L1030.4,193.2L1033.6,192.1L1035.1,190.2L1037.5,191.6L1039.8,190.8L1042.2,188.9L1043.4,188.1L1046.3,186.4L1047.6,183.5L1050,182.3L1049.1,178.2L1048.7,177L1049,179.6L1050.9,182.4L1052.4,183.9L1054.5,186.6L1055.2,187.8L1055.6,185.3L1059.7,184.9L1061.7,184.5L1063.5,183.1L1067,181.7L1068.1,181.3L1071.4,179.8L1070.9,181.3L1075.6,178.9L1076.8,178.1L1078,178.6L1080.3,176.7L1082.9,176.3L1085.4,175.9L1086.5,175.5L1089.5,172.9L1092,173.6L1094,171.6L1097.3,170.2L1098.6,168.9L1100.5,167.3L1102.4,164.6L1103.9,163.2L1103,161.3L1105.9,160.8L1107.5,158.9L1110,156.5L1108.1,158.4L1108,160.5L1105,161.1L1103.5,163.3L1102.2,163.1L1100.9,166.6L1099.6,167.2L1099.2,170.4L1096,170L1099.9,170L1099.5,166.6L1101,167.6L1102.8,163.8L1105.6,163.7L1106.1,160.3L1108,160L1110.5,159.7L1111.1,155.6L1114.1,156.1L1115.9,156.2L1117.5,155.3L1117.2,152L1120,152L1121.7,150.5L1124,150.2L1125,148.1L1125.7,146.5L1127.4,145.9L1130,144L1129.4,141.5L1128.6,140.3L1131.6,136.3L1129,136L1129.9,133.8L1130.2,132.6L1131.3,129.4L1132,128L1132.9,126.6L1135.4,125.5L1136.3,125.1L1139.2,123.7L1139.9,120.9L1142,120L1142.5,117.6L1144,115.5L1145.4,113.6L1146,112L1147.4,109.6L1146.6,107.1L1146.9,104.9L1147.5,104.4L1148.7,101.4L1150,100L1151.3,97.9L1153.5,96.5L1156,93.5L1156,94L1155,94L1159,89L1157,88.4L1154,87.6L1151.6,86.7L1148.9,86.2L1148,86L1146.2,85.4L1143.8,85.5L1142,84.4L1139,83.4L1138,83L1138.9,81.2L1141.9,80.9L1144,79L1146.9,77.8L1148.9,77.3L1149.1,77.7L1152,76L1155.1,77.2L1155.9,77.3L1158.2,77.5L1160,77.6M1136,68L1138.1,67.3L1139.6,66.2L1140.3,66L1142,62.4L1144.9,62.4L1145.4,64.3L1146.9,64.4L1150,66L1153,67.4L1154.7,66.8L1155.1,67.3L1157.3,68.5L1160,70M1144,49.6L1145.7,51.4L1144.9,53.6L1147,55L1149.1,56.2L1150,58L1151.5,59.9L1153.8,60.5L1156,61.6L1157.8,62.9L1161,64M987.2,225.5L988.2,224.5L991,222L992.6,221.2L994.8,218.5L995.9,219.6L999.1,220.1L1002,218.6L1003.7,219.7L1005.5,218L1007.8,218.4L1012.4,215.5L1013.1,215.8L1013.8,217L1016.3,219.1L1015.6,221.4L1016,223.5L1016.3,225.5L1012.7,225.9L1013.3,228.7L1012,230.9L1010.1,231.9L1008.9,233.2L1006.6,235.3L1004.9,237.6L1002.5,239.2L1001.2,239.6L998.7,240.2L996.9,237.1L994.8,237.4L993.2,236.9L990,236.4L988.3,235.3L987.6,232.5L986.6,229.9L987.9,227.6ZM1154,148L1156.7,148.5L1156.4,150.1L1159,152L1158.1,154.3L1158.4,156L1159.1,157.1L1157,159.5L1158.8,161.7L1157.6,164L1155.7,168.5L1156.9,167.4L1155.3,170.4L1155.3,172.9L1153.5,173L1153.6,175.3L1153,178L1151.9,180.5L1149.9,181.7L1148.2,184.6L1148.7,187L1146.4,188L1145.7,189.7L1143.4,191.4L1141.9,189L1140.9,187.4L1141.2,184L1140.5,181.5L1137.7,179.8L1137.4,178L1136.4,176.4L1136.9,173.5L1134.8,172.5L1135.2,170L1135.5,168.6L1136,166.6L1137.3,163.9L1139,162L1140,159.9L1141.7,157.5L1140.7,154L1144,154L1145.7,153.4L1148.5,152.4L1150,150L1149.6,147.2ZM1053,272L1054.2,269.7L1054.8,269.1L1057.3,267.6L1058.5,267.4L1060.6,266.6L1063.8,266.6L1067.1,268.7L1065.9,271.4L1064.9,273L1062.1,273L1061.6,275L1058.4,275.6L1056,275.8L1054.1,274.8ZM783,299.3L783.7,301.6L784.7,303.6L785,306.5L783,308L782.8,311.1L783,312.2L781.4,315.2L781.6,316.1L781.2,319.1L780.8,320.9L779.2,323.6L780.4,325.4L778.6,327.3L776,323.3L777.9,322.7L778.2,320.9L778.1,318.8L777.8,316.7L778.3,313.8L778.3,312.2L779.7,310.1L780.5,308L779.7,305.9L781.1,302.7L781.2,301.4ZM791.6,381.3L794.2,380.2L795.4,383.7L796.3,385.2L794.2,388.2L793.1,386.6L792,384.5ZM775.2,335.5L777.3,334.7L778.2,337.3L776,338.6ZM1141.2,236.5L1143.5,236.3L1144.3,234.6L1147,234.6L1148.6,235.7L1151.6,235.2L1153.8,236.5L1156.5,237.8L1159.6,237.5L1162.5,235.5L1162.1,237L1163.9,239.4L1164.5,242.7L1164.1,245.2L1163.1,247.2L1164.4,248.6L1164.2,251.7L1164.7,252.7L1165.4,255L1164.9,256.3L1165.9,260.6L1165,261.7L1163.4,264.7L1161.6,266.6L1160.3,267.8L1157.6,269.2L1156.7,270.5L1155.1,273.2L1153.8,275.3L1152.5,277.7L1152.8,280.2L1153.2,281.4L1153.8,284.4L1155.7,286L1156.8,288.1L1157.3,288.4L1159.6,290.9L1162.3,291.8L1163.3,293L1165.4,292.8L1169,291.6L1171.3,291.8L1172.9,293.3L1176.2,294L1177.1,294.8L1179,294.7L1182.5,293.8L1184.9,293.8L1186.9,293.8L1189.7,294.8L1190.6,295.8L1190.7,298.6L1187.7,299.9L1186.8,300.6L1185,298.9L1182.6,298.4L1181,298.6L1181.1,297.7L1176.1,300.6L1173.2,299.3L1171.3,297.7L1168.7,296.5L1166.4,296.7L1163.3,295.3L1162.5,294.8L1164.6,297.1L1164.9,298.8L1165.4,301.6L1166.9,305.6L1168.3,305.4L1165.4,306.4L1163.6,305.2L1162.3,303.4L1161.6,301.6L1159.3,299.8L1158,297.9L1156.7,297.7L1153.8,297.3L1152.8,295.7L1149.2,295.4L1148,293.8L1146.9,295.9L1146,297.7L1146.8,299.5L1149.4,300.7L1149.9,303.5L1150,305L1150.3,306.5L1152,310.2L1152.8,311.3L1151.3,314.3L1151.8,317.1L1150.6,315.7L1148,315.1L1147.1,312L1144.7,312.5L1145,308.3L1144,306.1L1143.8,303.8L1142.1,302.5L1141.1,301.1L1139.2,297.7L1141.2,294.8L1142.8,292.4L1142.7,291L1143.1,288L1139.8,286.2L1138.3,286L1137.5,283.7L1135.3,281.2L1135.9,278.8L1132.1,274.9L1133,275.8L1133.4,273.4L1133.9,271.8L1132.4,269.6L1131.5,266.6L1134.4,265.6L1135.8,266.7L1138.3,266.6L1137.6,266.5L1138.4,262.1L1139.2,258.8L1137.8,255.2L1138.2,254.7L1138.3,251.1L1139.6,249.3L1140.4,246.5L1139.8,243.3L1139.7,240.9L1140.8,238.1ZM1157.7,311.3L1160.6,314L1161.6,315.1L1160.7,317.2L1161.3,319.9L1160.6,322.9L1161.8,325L1163.5,325.8L1164.7,328.2L1168.1,327.2L1171.3,326.8L1171.8,328.5L1173.1,330.4L1175.1,331.7L1172.8,331.7L1172.4,333.4L1169.3,334.6L1167.2,335.8L1165.9,335.6L1163.5,337.5L1161.9,338.2L1159.6,340.4L1161.2,337.9L1158.9,334.6L1158.6,332.6L1159,329.1L1158.3,326.9L1159.6,324.9L1160.3,321L1157.7,320.9L1158.2,318.9L1157.7,317.1L1157.5,314.4ZM1164.5,338.4L1165.8,338L1169.3,336.5L1172.4,334.7L1173.6,336L1175.1,334.6L1175.2,336.1L1175.9,337.9L1177.1,340.4L1177.6,343.8L1175.8,346.5L1176.1,348.2L1176.5,350L1177.1,352.2L1179,354L1177.2,356.9L1175.1,357.9L1172.5,357.2L1170.3,355L1169.3,353.7L1166.5,348.8L1167.4,348.2L1167.2,346.7L1166.1,345.2L1165.4,342.3L1163,338.1ZM1178.1,336.5L1180,334.9L1181.9,333.6L1183.2,335.4L1184.9,336.5L1184.8,338L1183.8,340.9L1183.9,344.3L1182.7,346.9L1181.9,349.1L1182.1,349L1181,352L1179.8,353.5L1178.1,355.9L1176.9,352.5L1176.7,350.1L1176.8,347.7L1178.6,345.1L1178.1,343.3L1180.5,342.7L1178.1,338.2ZM1182.9,331.7L1185.8,329.7L1186.7,333L1186.8,334.7L1186.4,336.5L1185,337.4L1186,339.8L1184.5,343.1L1184.2,345.4L1183.9,346.2L1184.5,350.1L1181.9,350.1L1182.6,347.8L1181.6,345.3L1182.7,342.4L1182.5,340.4L1184.8,338.1L1181.9,336.7L1183.8,332.7ZM1175.1,311.3L1177.5,311.5L1179,312.5L1181,313.2L1182.3,314.1L1184.3,315.7L1186,318.4L1186.8,319L1184.9,321L1182.3,319.1L1181.1,317.7L1179,317.1L1178.6,315.9L1176,312.1ZM1189.7,313.2L1192.6,313.9L1194,315.6L1196.5,315.1L1197.6,315.9L1200,317.2L1202.3,319L1202.4,320L1203.6,321.9L1205.3,324.6L1206.2,326.8L1207.4,328.5L1208.3,332L1208,332.2L1208.2,334.6L1207,334.3L1204.3,332.6L1201.7,330.8L1200.4,328.7L1199.1,326.5L1196.5,324.9L1195.2,322.7L1192.1,322.2L1191.7,321L1190.3,319L1190.4,318L1191.1,314.6ZM1194.6,328.7L1196.9,331.3L1198.4,332.6L1198.6,334.9L1200.8,336.7L1200.4,339.6L1201.4,340.4L1199.8,344.6L1199.4,343.9L1199.4,346.2L1197.1,345.1L1195.5,344.3L1195.8,342.3L1194.9,338L1192.5,339.4L1193.6,336.5L1194.4,333.1L1191.8,332.4ZM1184.9,346.2L1187.2,345.9L1188.1,345.6L1190.7,344.3L1192.2,346.2L1193.6,348.2L1190.5,349.8L1189.7,352L1186.3,351.9L1184.9,350.5L1184.2,347.3ZM1181,301.6L1182.6,300.9L1185.8,302.5L1186.6,304.1L1188.7,307.4L1186.4,308.8L1184.9,308.3L1184.2,306.5L1181.4,305.4ZM1156.7,301.6L1159.6,300.6L1161.2,303.5L1158.6,305.4L1158.7,304.4ZM1185.8,400.6L1187.1,397.9L1186.1,397.1L1188.6,393L1188.3,393.4L1189.1,392L1188.7,388.9L1188.3,389.3L1187.6,384.6L1186.3,383.7L1186.8,381.2L1184.6,379.3L1184,377.9L1183.4,376.4L1181,375.3L1178,373.9L1177.8,375.1L1176,373.3L1173.2,373.4L1172.2,373.8L1168.5,375.2L1167.4,377.3L1166.8,380.3L1165.4,382.3L1164.5,382.5L1163.5,385L1160.6,387L1160.5,384.4L1161.6,381.2L1161.8,379.9L1162.5,378L1162.3,375.5L1163.5,373.4L1166.3,371.8L1166.4,371.3L1169.3,370.5L1170.5,369.5L1174.4,368.3L1173.2,365.6L1175.2,365.2L1176.8,363.7L1179,363.7L1180.5,365.3L1182.9,367.6L1185.5,369.4L1186.8,370.5L1187,369.2L1189.5,367.9L1190.6,365.8L1192.6,364.7L1193.5,363.2L1194.1,360.7L1196.5,358.8L1200.4,361.1L1201.4,359.8L1203.2,357.2L1202.6,354.9L1204.3,354L1204,353L1206.2,349.1L1207.1,347.2L1207.2,346.2L1210.1,344.3L1210.2,346.2L1213.5,348.1L1212.4,350.5L1214,352L1214.8,354.3L1215.7,357.7L1214.7,358.5L1215.9,361.7L1217.6,363.2L1216.5,365.9L1217.2,368.1L1219.3,368.9L1218.8,371.5L1218.1,373.2L1219.5,376.3L1220.2,379.2L1219.8,381.2L1217.5,382.4L1217.8,384.4L1215.9,387L1215,389.3L1214.3,390.5L1215.5,392.9L1214,394.8L1211.4,393.1L1210.1,390.9L1210.6,388.6L1209.9,388L1208.3,384.1L1208.2,383.1L1207.8,384.7L1205.7,386.4L1204.3,388.9L1204.4,393.6L1203.8,394.2L1204.5,395.6L1204.7,398.7L1204.3,400.6M1157.7,388.9L1160.6,390.2L1161.6,389.9L1160.6,392.8L1157.7,391.8ZM1094.6,373.4L1094.9,370.8L1095.5,370.2L1097.5,367.6L1097.9,366.3L1100.7,365.2L1101.6,363.3L1103.3,360.8L1105.8,358.2L1105.6,357L1108.4,357.5L1109.1,355L1111.3,352.2L1111.6,351.7L1112.4,348.7L1115,348.2L1116.3,347.2L1117.2,345.6L1119.5,342.5L1119.8,341.4L1120.8,339.6L1121.4,337.1L1123.7,336.5L1125.2,333.5L1125.3,333.3L1126.6,330.7L1126.6,328.8L1130,329L1129.5,324.9L1131,322.2L1130.8,319.5L1133.4,320L1135.9,318.2L1136.3,317.1L1137.3,320L1136.9,322.6L1135.8,323.5L1134.4,325.8L1133.1,326.7L1132.8,329.8L1131.5,331.7L1132.1,334.6L1132.3,336.9L1132.4,338.4L1128.1,339.1L1128.5,340.4L1126.8,340.7L1124.4,343.2L1123.7,344.3L1119.6,347.1L1119.4,349.2L1118.8,350.1L1118.4,352.4L1115.7,353.1L1114.3,355.5L1113,357.9L1111.8,360.4L1110.8,361.2L1109,362.8L1107.2,363.7L1104.7,364.3L1103.3,366.1L1102.2,368.1L1101.4,369.5L1102.2,372.2L1097.3,374.1L1097.5,374.4ZM1082.9,400.6L1083.9,397.1L1085.6,396.1L1085.3,393.8L1087.2,391.7L1088.7,388.9L1091,386.6L1093.4,384.8L1092.6,382.1L1096.8,383L1097.5,381.2L1098.5,384.2L1101.2,385.8L1099.4,387L1101.1,389L1102.3,391.8L1103.8,394.5L1104.3,397.1L1105.2,400.6" fill="none" stroke="#000" stroke-width="1.25" stroke-linejoin="round"/>
<path d="M1091.9,207.2m-1.6,0a1.6,1.6 0 1,0 3.2,0a1.6,1.6 0 1,0 -3.2,0M1022.8,254.7m-0.8,0a0.8,0.8 0 1,0 1.6,0a0.8,0.8 0 1,0 -1.6,0M1032.5,255.8m-0.8,0a0.8,0.8 0 1,0 1.6,0a0.8,0.8 0 1,0 -1.6,0M1025,264.4m-0.8,0a0.8,0.8 0 1,0 1.6,0a0.8,0.8 0 1,0 -1.6,0M1029.3,267.6m-0.8,0a0.8,0.8 0 1,0 1.6,0a0.8,0.8 0 1,0 -1.6,0M1036.8,267.6m-0.8,0a0.8,0.8 0 1,0 1.6,0a0.8,0.8 0 1,0 -1.6,0M1019.6,269.8m-0.8,0a0.8,0.8 0 1,0 1.6,0a0.8,0.8 0 1,0 -1.6,0M1026.1,261.2m-0.8,0a0.8,0.8 0 1,0 1.6,0a0.8,0.8 0 1,0 -1.6,0M1104.3,279.2m-1.3,0a1.3,1.3 0 1,0 2.6,0a1.3,1.3 0 1,0 -2.6,0M1152.8,223.9m-1.3,0a1.3,1.3 0 1,0 2.6,0a1.3,1.3 0 1,0 -2.6,0M1158.6,222.9m-1.3,0a1.3,1.3 0 1,0 2.6,0a1.3,1.3 0 1,0 -2.6,0M1150.3,228.7m-1.3,0a1.3,1.3 0 1,0 2.6,0a1.3,1.3 0 1,0 -2.6,0M1154.8,230.7m-1.3,0a1.3,1.3 0 1,0 2.6,0a1.3,1.3 0 1,0 -2.6,0M1158.6,229.7m-1.3,0a1.3,1.3 0 1,0 2.6,0a1.3,1.3 0 1,0 -2.6,0M1114,385m-1.2,0a1.2,1.2 0 1,0 2.4,0a1.2,1.2 0 1,0 -2.4,0M1140.2,393.8m-1.2,0a1.2,1.2 0 1,0 2.4,0a1.2,1.2 0 1,0 -2.4,0M1179,356.9m-1.2,0a1.2,1.2 0 1,0 2.4,0a1.2,1.2 0 1,0 -2.4,0M1065.5,335.5m-0.8,0a0.8,0.8 0 1,0 1.7,0a0.8,0.8 0 1,0 -1.7,0M1053.5,354.8m-0.7,0a0.7,0.7 0 1,0 1.4,0a0.7,0.7 0 1,0 -1.4,0M1052.8,353.4m-0.5,0a0.5,0.5 0 1,0 1,0a0.5,0.5 0 1,0 -1,0M1070.8,331.5m-0.5,0a0.5,0.5 0 1,0 1.1,0a0.5,0.5 0 1,0 -1.1,0M1070.4,369.3m-0.6,0a0.6,0.6 0 1,0 1.1,0a0.6,0.6 0 1,0 -1.1,0M1060.7,359.4m-1,0a1,1 0 1,0 1.9,0a1,1 0 1,0 -1.9,0M1077.7,347.8m-1,0a1,1 0 1,0 2,0a1,1 0 1,0 -2,0M1052.2,370.9m-0.6,0a0.6,0.6 0 1,0 1.3,0a0.6,0.6 0 1,0 -1.3,0M1056.9,333.9m-0.7,0a0.7,0.7 0 1,0 1.3,0a0.7,0.7 0 1,0 -1.3,0M1089.2,337m-0.8,0a0.8,0.8 0 1,0 1.6,0a0.8,0.8 0 1,0 -1.6,0M1080.7,346.6m-0.8,0a0.8,0.8 0 1,0 1.5,0a0.8,0.8 0 1,0 -1.5,0M1053,331m-0.6,0a0.6,0.6 0 1,0 1.2,0a0.6,0.6 0 1,0 -1.2,0M1082.7,349.4m-0.7,0a0.7,0.7 0 1,0 1.3,0a0.7,0.7 0 1,0 -1.3,0M1078.1,350.7m-0.6,0a0.6,0.6 0 1,0 1.3,0a0.6,0.6 0 1,0 -1.3,0M1088.1,362.9m-0.6,0a0.6,0.6 0 1,0 1.2,0a0.6,0.6 0 1,0 -1.2,0M1077.6,354.3m-0.9,0a0.9,0.9 0 1,0 1.9,0a0.9,0.9 0 1,0 -1.9,0M1085,342.4m-1,0a1,1 0 1,0 2,0a1,1 0 1,0 -2,0M1055.7,348.9m-0.9,0a0.9,0.9 0 1,0 1.8,0a0.9,0.9 0 1,0 -1.8,0M1057.3,352.4m-0.5,0a0.5,0.5 0 1,0 1,0a0.5,0.5 0 1,0 -1,0M1082.1,366.2m-0.8,0a0.8,0.8 0 1,0 1.6,0a0.8,0.8 0 1,0 -1.6,0M1092,343.7m-0.8,0a0.8,0.8 0 1,0 1.7,0a0.8,0.8 0 1,0 -1.7,0M1078.5,357m-0.7,0a0.7,0.7 0 1,0 1.5,0a0.7,0.7 0 1,0 -1.5,0M1090.3,375.2m-0.7,0a0.7,0.7 0 1,0 1.5,0a0.7,0.7 0 1,0 -1.5,0M1081.9,331m-0.9,0a0.9,0.9 0 1,0 1.7,0a0.9,0.9 0 1,0 -1.7,0M1081.1,377.7m-0.9,0a0.9,0.9 0 1,0 1.8,0a0.9,0.9 0 1,0 -1.8,0M1063.7,347.3m-0.8,0a0.8,0.8 0 1,0 1.7,0a0.8,0.8 0 1,0 -1.7,0M1051.1,351.1m-0.6,0a0.6,0.6 0 1,0 1.2,0a0.6,0.6 0 1,0 -1.2,0M1055.6,330.9m-0.9,0a0.9,0.9 0 1,0 1.8,0a0.9,0.9 0 1,0 -1.8,0M1056.2,340.4m-0.7,0a0.7,0.7 0 1,0 1.4,0a0.7,0.7 0 1,0 -1.4,0M1091.8,332m-0.7,0a0.7,0.7 0 1,0 1.4,0a0.7,0.7 0 1,0 -1.4,0M1076.4,372.2m-0.9,0a0.9,0.9 0 1,0 1.8,0a0.9,0.9 0 1,0 -1.8,0M1091.5,341.9m-0.7,0a0.7,0.7 0 1,0 1.4,0a0.7,0.7 0 1,0 -1.4,0M1067.2,372.2m-1,0a1,1 0 1,0 2,0a1,1 0 1,0 -2,0M1057.2,336.8m-0.6,0a0.6,0.6 0 1,0 1.2,0a0.6,0.6 0 1,0 -1.2,0M1061.2,352.2m-0.8,0a0.8,0.8 0 1,0 1.6,0a0.8,0.8 0 1,0 -1.6,0M1062.6,328.2m-0.7,0a0.7,0.7 0 1,0 1.4,0a0.7,0.7 0 1,0 -1.4,0M1067.7,356.3m-1,0a1,1 0 1,0 2,0a1,1 0 1,0 -2,0M1083.1,353.8m-0.8,0a0.8,0.8 0 1,0 1.6,0a0.8,0.8 0 1,0 -1.6,0M1082.5,330.7m-0.9,0a0.9,0.9 0 1,0 1.9,0a0.9,0.9 0 1,0 -1.9,0M1087.4,371.7m-0.9,0a0.9,0.9 0 1,0 1.8,0a0.9,0.9 0 1,0 -1.8,0M1068.8,347.9m-0.6,0a0.6,0.6 0 1,0 1.1,0a0.6,0.6 0 1,0 -1.1,0M1080.4,331.1m-0.5,0a0.5,0.5 0 1,0 1.1,0a0.5,0.5 0 1,0 -1.1,0M1060,336.1m-0.7,0a0.7,0.7 0 1,0 1.3,0a0.7,0.7 0 1,0 -1.3,0M1052.5,328m-0.6,0a0.6,0.6 0 1,0 1.2,0a0.6,0.6 0 1,0 -1.2,0M1054.9,346.2m-0.5,0a0.5,0.5 0 1,0 1,0a0.5,0.5 0 1,0 -1,0M1092,358.7m-0.6,0a0.6,0.6 0 1,0 1.1,0a0.6,0.6 0 1,0 -1.1,0M846.4,301.8m-0.6,0a0.6,0.6 0 1,0 1.1,0a0.6,0.6 0 1,0 -1.1,0M857.6,344.2m-0.8,0a0.8,0.8 0 1,0 1.6,0a0.8,0.8 0 1,0 -1.6,0M842.7,290.1m-0.7,0a0.7,0.7 0 1,0 1.3,0a0.7,0.7 0 1,0 -1.3,0M849.9,340.2m-1.1,0a1.1,1.1 0 1,0 2.1,0a1.1,1.1 0 1,0 -2.1,0M847.1,322.2m-0.5,0a0.5,0.5 0 1,0 1,0a0.5,0.5 0 1,0 -1,0M854.6,324.1m-0.9,0a0.9,0.9 0 1,0 1.8,0a0.9,0.9 0 1,0 -1.8,0M846.7,301.3m-1,0a1,1 0 1,0 1.9,0a1,1 0 1,0 -1.9,0M852.8,321.3m-0.6,0a0.6,0.6 0 1,0 1.3,0a0.6,0.6 0 1,0 -1.3,0M857.2,343.9m-1,0a1,1 0 1,0 2,0a1,1 0 1,0 -2,0M855,340.6m-0.8,0a0.8,0.8 0 1,0 1.6,0a0.8,0.8 0 1,0 -1.6,0M844.5,307.1m-0.7,0a0.7,0.7 0 1,0 1.3,0a0.7,0.7 0 1,0 -1.3,0M849.6,305.9m-0.8,0a0.8,0.8 0 1,0 1.5,0a0.8,0.8 0 1,0 -1.5,0M858.3,353.3m-0.7,0a0.7,0.7 0 1,0 1.4,0a0.7,0.7 0 1,0 -1.4,0M845,298.6m-0.6,0a0.6,0.6 0 1,0 1.2,0a0.6,0.6 0 1,0 -1.2,0M854.7,330.7m-0.8,0a0.8,0.8 0 1,0 1.6,0a0.8,0.8 0 1,0 -1.6,0M854.1,328.2m-0.9,0a0.9,0.9 0 1,0 1.8,0a0.9,0.9 0 1,0 -1.8,0M856.2,350.2m-0.8,0a0.8,0.8 0 1,0 1.6,0a0.8,0.8 0 1,0 -1.6,0M849.7,296.5m-1,0a1,1 0 1,0 2,0a1,1 0 1,0 -2,0M853.3,352.4m-1.1,0a1.1,1.1 0 1,0 2.1,0a1.1,1.1 0 1,0 -2.1,0M849.1,333.5m-0.6,0a0.6,0.6 0 1,0 1.2,0a0.6,0.6 0 1,0 -1.2,0M856.4,346.2m-1,0a1,1 0 1,0 2,0a1,1 0 1,0 -2,0M855.7,352.7m-0.8,0a0.8,0.8 0 1,0 1.7,0a0.8,0.8 0 1,0 -1.7,0M842.3,297m-0.9,0a0.9,0.9 0 1,0 1.8,0a0.9,0.9 0 1,0 -1.8,0M854.1,321.5m-1,0a1,1 0 1,0 2,0a1,1 0 1,0 -2,0M850.3,341.3m-0.7,0a0.7,0.7 0 1,0 1.4,0a0.7,0.7 0 1,0 -1.4,0M848.4,300.4m-0.8,0a0.8,0.8 0 1,0 1.5,0a0.8,0.8 0 1,0 -1.5,0M850.4,293.3m-0.8,0a0.8,0.8 0 1,0 1.5,0a0.8,0.8 0 1,0 -1.5,0M854.4,325.4m-1.1,0a1.1,1.1 0 1,0 2.1,0a1.1,1.1 0 1,0 -2.1,0M850.3,320.3m-0.5,0a0.5,0.5 0 1,0 1,0a0.5,0.5 0 1,0 -1,0M846.6,312.8m-1,0a1,1 0 1,0 2,0a1,1 0 1,0 -2,0M846.8,298.4m-0.8,0a0.8,0.8 0 1,0 1.7,0a0.8,0.8 0 1,0 -1.7,0M848.6,308.2m-1,0a1,1 0 1,0 1.9,0a1,1 0 1,0 -1.9,0M847,290.9m-0.7,0a0.7,0.7 0 1,0 1.3,0a0.7,0.7 0 1,0 -1.3,0M852.5,339.4m-1,0a1,1 0 1,0 1.9,0a1,1 0 1,0 -1.9,0M853.2,349.5m-0.8,0a0.8,0.8 0 1,0 1.6,0a0.8,0.8 0 1,0 -1.6,0M851.8,320.6m-0.8,0a0.8,0.8 0 1,0 1.6,0a0.8,0.8 0 1,0 -1.6,0M853.8,319.7m-1,0a1,1 0 1,0 2.1,0a1,1 0 1,0 -2.1,0M851.8,351.3m-1.1,0a1.1,1.1 0 1,0 2.1,0a1.1,1.1 0 1,0 -2.1,0M849.8,341.5m-0.8,0a0.8,0.8 0 1,0 1.5,0a0.8,0.8 0 1,0 -1.5,0M843.8,287.5m-0.9,0a0.9,0.9 0 1,0 1.8,0a0.9,0.9 0 1,0 -1.8,0M856.1,337.8m-0.9,0a0.9,0.9 0 1,0 1.9,0a0.9,0.9 0 1,0 -1.9,0M848.2,333.5m-1.1,0a1.1,1.1 0 1,0 2.2,0a1.1,1.1 0 1,0 -2.2,0M851.5,299.8m-0.8,0a0.8,0.8 0 1,0 1.6,0a0.8,0.8 0 1,0 -1.6,0M857.4,352.3m-0.8,0a0.8,0.8 0 1,0 1.5,0a0.8,0.8 0 1,0 -1.5,0M848.7,319.3m-0.7,0a0.7,0.7 0 1,0 1.4,0a0.7,0.7 0 1,0 -1.4,0M847.7,335.9m-0.8,0a0.8,0.8 0 1,0 1.5,0a0.8,0.8 0 1,0 -1.5,0M844.1,287m-0.8,0a0.8,0.8 0 1,0 1.6,0a0.8,0.8 0 1,0 -1.6,0M850.4,291.2m-1.1,0a1.1,1.1 0 1,0 2.2,0a1.1,1.1 0 1,0 -2.2,0M844.3,289.6m-1,0a1,1 0 1,0 1.9,0a1,1 0 1,0 -1.9,0M844.6,303.5m-1,0a1,1 0 1,0 2.1,0a1,1 0 1,0 -2.1,0M850.7,340.2m-1.1,0a1.1,1.1 0 1,0 2.1,0a1.1,1.1 0 1,0 -2.1,0M852.4,322.5m-0.5,0a0.5,0.5 0 1,0 1.1,0a0.5,0.5 0 1,0 -1.1,0M851,330.6m-1.1,0a1.1,1.1 0 1,0 2.1,0a1.1,1.1 0 1,0 -2.1,0M853.9,326.9m-1,0a1,1 0 1,0 2,0a1,1 0 1,0 -2,0M849.4,289.4m-0.7,0a0.7,0.7 0 1,0 1.4,0a0.7,0.7 0 1,0 -1.4,0M1095.6,171.5m-0.6,0a0.6,0.6 0 1,0 1.2,0a0.6,0.6 0 1,0 -1.2,0M1091.9,170.9m-0.6,0a0.6,0.6 0 1,0 1.2,0a0.6,0.6 0 1,0 -1.2,0M1087.9,173.7m-0.7,0a0.7,0.7 0 1,0 1.5,0a0.7,0.7 0 1,0 -1.5,0M1094,171.7m-0.6,0a0.6,0.6 0 1,0 1.3,0a0.6,0.6 0 1,0 -1.3,0M1089.4,172.2m-0.5,0a0.5,0.5 0 1,0 1,0a0.5,0.5 0 1,0 -1,0M1095.1,170.4m-0.9,0a0.9,0.9 0 1,0 1.7,0a0.9,0.9 0 1,0 -1.7,0M1094.5,172.4m-0.8,0a0.8,0.8 0 1,0 1.6,0a0.8,0.8 0 1,0 -1.6,0M1094.6,172.3m-0.9,0a0.9,0.9 0 1,0 1.8,0a0.9,0.9 0 1,0 -1.8,0M1096.9,171.3m-1.1,0a1.1,1.1 0 1,0 2.2,0a1.1,1.1 0 1,0 -2.2,0M1095.3,171.5m-0.8,0a0.8,0.8 0 1,0 1.5,0a0.8,0.8 0 1,0 -1.5,0M1087.6,172.6m-1.1,0a1.1,1.1 0 1,0 2.1,0a1.1,1.1 0 1,0 -2.1,0M1089.4,171.9m-1.1,0a1.1,1.1 0 1,0 2.3,0a1.1,1.1 0 1,0 -2.3,0M1108.3,161.1m-0.7,0a0.7,0.7 0 1,0 1.4,0a0.7,0.7 0 1,0 -1.4,0M1100.3,166.3m-0.8,0a0.8,0.8 0 1,0 1.7,0a0.8,0.8 0 1,0 -1.7,0M1102.5,170.2m-0.9,0a0.9,0.9 0 1,0 1.8,0a0.9,0.9 0 1,0 -1.8,0M1102.3,167.4m-0.8,0a0.8,0.8 0 1,0 1.5,0a0.8,0.8 0 1,0 -1.5,0M1096.4,170.6m-0.9,0a0.9,0.9 0 1,0 1.8,0a0.9,0.9 0 1,0 -1.8,0M1099.4,166.5m-0.7,0a0.7,0.7 0 1,0 1.4,0a0.7,0.7 0 1,0 -1.4,0M1097.6,167.8m-0.5,0a0.5,0.5 0 1,0 1,0a0.5,0.5 0 1,0 -1,0M1099.3,168.1m-0.9,0a0.9,0.9 0 1,0 1.8,0a0.9,0.9 0 1,0 -1.8,0M1106.8,164.2m-1.2,0a1.2,1.2 0 1,0 2.3,0a1.2,1.2 0 1,0 -2.3,0M1100.8,169m-0.6,0a0.6,0.6 0 1,0 1.2,0a0.6,0.6 0 1,0 -1.2,0M1106.4,161.5m-1.1,0a1.1,1.1 0 1,0 2.3,0a1.1,1.1 0 1,0 -2.3,0M1108.3,162.9m-1.1,0a1.1,1.1 0 1,0 2.2,0a1.1,1.1 0 1,0 -2.2,0M1110.8,159.7m-1.1,0a1.1,1.1 0 1,0 2.3,0a1.1,1.1 0 1,0 -2.3,0M1120.3,154.7m-1.2,0a1.2,1.2 0 1,0 2.3,0a1.2,1.2 0 1,0 -2.3,0M1118.2,154.1m-0.5,0a0.5,0.5 0 1,0 1,0a0.5,0.5 0 1,0 -1,0M1109.9,157.9m-1.1,0a1.1,1.1 0 1,0 2.3,0a1.1,1.1 0 1,0 -2.3,0M1116.3,156.8m-1,0a1,1 0 1,0 2,0a1,1 0 1,0 -2,0M1112.4,158.2m-1.1,0a1.1,1.1 0 1,0 2.1,0a1.1,1.1 0 1,0 -2.1,0M1115.2,157.4m-0.5,0a0.5,0.5 0 1,0 1.1,0a0.5,0.5 0 1,0 -1.1,0M1116.6,152.9m-0.7,0a0.7,0.7 0 1,0 1.4,0a0.7,0.7 0 1,0 -1.4,0M1116.3,156m-1.2,0a1.2,1.2 0 1,0 2.5,0a1.2,1.2 0 1,0 -2.5,0M1114.3,156.7m-1,0a1,1 0 1,0 2,0a1,1 0 1,0 -2,0M1118.8,155.3m-0.6,0a0.6,0.6 0 1,0 1.1,0a0.6,0.6 0 1,0 -1.1,0M1109.5,160.7m-0.7,0a0.7,0.7 0 1,0 1.5,0a0.7,0.7 0 1,0 -1.5,0M1124.2,146.2m-0.7,0a0.7,0.7 0 1,0 1.4,0a0.7,0.7 0 1,0 -1.4,0M1128.7,148.2m-0.7,0a0.7,0.7 0 1,0 1.4,0a0.7,0.7 0 1,0 -1.4,0M1126,148.5m-0.6,0a0.6,0.6 0 1,0 1.2,0a0.6,0.6 0 1,0 -1.2,0M1128.4,147.8m-1.2,0a1.2,1.2 0 1,0 2.4,0a1.2,1.2 0 1,0 -2.4,0M1121,154m-1.2,0a1.2,1.2 0 1,0 2.5,0a1.2,1.2 0 1,0 -2.5,0M1124.3,147.8m-1.2,0a1.2,1.2 0 1,0 2.4,0a1.2,1.2 0 1,0 -2.4,0M1123.5,149.5m-0.9,0a0.9,0.9 0 1,0 1.8,0a0.9,0.9 0 1,0 -1.8,0M1128.7,146.6m-0.9,0a0.9,0.9 0 1,0 1.8,0a0.9,0.9 0 1,0 -1.8,0M1130.9,144.4m-1.2,0a1.2,1.2 0 1,0 2.3,0a1.2,1.2 0 1,0 -2.3,0M1123.5,146.6m-0.9,0a0.9,0.9 0 1,0 1.7,0a0.9,0.9 0 1,0 -1.7,0M1124.5,147.5m-0.8,0a0.8,0.8 0 1,0 1.5,0a0.8,0.8 0 1,0 -1.5,0M1125.9,148m-1.1,0a1.1,1.1 0 1,0 2.1,0a1.1,1.1 0 1,0 -2.1,0M1128.3,140m-1,0a1,1 0 1,0 2.1,0a1,1 0 1,0 -2.1,0M1129,137m-0.8,0a0.8,0.8 0 1,0 1.6,0a0.8,0.8 0 1,0 -1.6,0M1130.4,136.1m-0.8,0a0.8,0.8 0 1,0 1.6,0a0.8,0.8 0 1,0 -1.6,0M1128.5,140.8m-1.1,0a1.1,1.1 0 1,0 2.3,0a1.1,1.1 0 1,0 -2.3,0M1132.9,141.3m-0.7,0a0.7,0.7 0 1,0 1.4,0a0.7,0.7 0 1,0 -1.4,0M1128.9,140.1m-1.2,0a1.2,1.2 0 1,0 2.4,0a1.2,1.2 0 1,0 -2.4,0M1131.7,138.3m-1.2,0a1.2,1.2 0 1,0 2.4,0a1.2,1.2 0 1,0 -2.4,0M1130.3,138.2m-0.5,0a0.5,0.5 0 1,0 1.1,0a0.5,0.5 0 1,0 -1.1,0M1130,140m-1,0a1,1 0 1,0 2,0a1,1 0 1,0 -2,0M1128.5,144.4m-0.6,0a0.6,0.6 0 1,0 1.2,0a0.6,0.6 0 1,0 -1.2,0M1129.7,140.1m-1.1,0a1.1,1.1 0 1,0 2.1,0a1.1,1.1 0 1,0 -2.1,0M1128.8,137.6m-0.7,0a0.7,0.7 0 1,0 1.5,0a0.7,0.7 0 1,0 -1.5,0M1131.1,130.8m-0.6,0a0.6,0.6 0 1,0 1.2,0a0.6,0.6 0 1,0 -1.2,0M1132.7,135.1m-0.7,0a0.7,0.7 0 1,0 1.3,0a0.7,0.7 0 1,0 -1.3,0M1135.2,129.3m-0.6,0a0.6,0.6 0 1,0 1.2,0a0.6,0.6 0 1,0 -1.2,0M1128.5,134.5m-0.6,0a0.6,0.6 0 1,0 1.1,0a0.6,0.6 0 1,0 -1.1,0M1129.5,135.2m-1.2,0a1.2,1.2 0 1,0 2.3,0a1.2,1.2 0 1,0 -2.3,0M1131.8,130.4m-0.9,0a0.9,0.9 0 1,0 1.8,0a0.9,0.9 0 1,0 -1.8,0M1130.3,131.8m-0.7,0a0.7,0.7 0 1,0 1.4,0a0.7,0.7 0 1,0 -1.4,0M1131,129m-1,0a1,1 0 1,0 1.9,0a1,1 0 1,0 -1.9,0M1131.2,128.8m-0.7,0a0.7,0.7 0 1,0 1.4,0a0.7,0.7 0 1,0 -1.4,0M1130.9,135.6m-1.1,0a1.1,1.1 0 1,0 2.3,0a1.1,1.1 0 1,0 -2.3,0M1130.2,127.7m-1,0a1,1 0 1,0 2.1,0a1,1 0 1,0 -2.1,0M1132.6,130m-0.5,0a0.5,0.5 0 1,0 1,0a0.5,0.5 0 1,0 -1,0M1139,127.1m-1.1,0a1.1,1.1 0 1,0 2.3,0a1.1,1.1 0 1,0 -2.3,0M1141.5,119.2m-0.6,0a0.6,0.6 0 1,0 1.2,0a0.6,0.6 0 1,0 -1.2,0M1139.1,126.6m-1,0a1,1 0 1,0 2.1,0a1,1 0 1,0 -2.1,0M1140.8,123.4m-0.9,0a0.9,0.9 0 1,0 1.8,0a0.9,0.9 0 1,0 -1.8,0M1134.8,127.2m-1.2,0a1.2,1.2 0 1,0 2.4,0a1.2,1.2 0 1,0 -2.4,0M1138.5,121.9m-0.7,0a0.7,0.7 0 1,0 1.4,0a0.7,0.7 0 1,0 -1.4,0M1140.4,121.9m-0.6,0a0.6,0.6 0 1,0 1.1,0a0.6,0.6 0 1,0 -1.1,0M1138.7,124.1m-0.7,0a0.7,0.7 0 1,0 1.3,0a0.7,0.7 0 1,0 -1.3,0M1136.6,123m-0.8,0a0.8,0.8 0 1,0 1.7,0a0.8,0.8 0 1,0 -1.7,0M1143.3,122.8m-0.9,0a0.9,0.9 0 1,0 1.7,0a0.9,0.9 0 1,0 -1.7,0M1134.1,128.9m-1,0a1,1 0 1,0 2.1,0a1,1 0 1,0 -2.1,0M1133.7,126.3m-1,0a1,1 0 1,0 2,0a1,1 0 1,0 -2,0M1143.5,118.1m-1.2,0a1.2,1.2 0 1,0 2.4,0a1.2,1.2 0 1,0 -2.4,0M1141.6,118.2m-0.8,0a0.8,0.8 0 1,0 1.6,0a0.8,0.8 0 1,0 -1.6,0M1144.2,116.6m-1.1,0a1.1,1.1 0 1,0 2.1,0a1.1,1.1 0 1,0 -2.1,0M1143.5,118.8m-0.7,0a0.7,0.7 0 1,0 1.5,0a0.7,0.7 0 1,0 -1.5,0M1144.9,112.9m-1.1,0a1.1,1.1 0 1,0 2.1,0a1.1,1.1 0 1,0 -2.1,0M1146.4,118.4m-0.6,0a0.6,0.6 0 1,0 1.3,0a0.6,0.6 0 1,0 -1.3,0M1143.5,119.7m-1.2,0a1.2,1.2 0 1,0 2.4,0a1.2,1.2 0 1,0 -2.4,0M1143.1,118.3m-1.2,0a1.2,1.2 0 1,0 2.5,0a1.2,1.2 0 1,0 -2.5,0M1141.3,117.6m-0.8,0a0.8,0.8 0 1,0 1.6,0a0.8,0.8 0 1,0 -1.6,0M1148.5,114.6m-1.2,0a1.2,1.2 0 1,0 2.5,0a1.2,1.2 0 1,0 -2.5,0M1145.9,111.9m-1.2,0a1.2,1.2 0 1,0 2.4,0a1.2,1.2 0 1,0 -2.4,0M1143.6,115.5m-0.8,0a0.8,0.8 0 1,0 1.6,0a0.8,0.8 0 1,0 -1.6,0M1147.7,106.8m-0.5,0a0.5,0.5 0 1,0 1,0a0.5,0.5 0 1,0 -1,0M1147.4,111.4m-0.6,0a0.6,0.6 0 1,0 1.2,0a0.6,0.6 0 1,0 -1.2,0M1149.4,100.5m-1.1,0a1.1,1.1 0 1,0 2.2,0a1.1,1.1 0 1,0 -2.2,0M1150,100.9m-0.9,0a0.9,0.9 0 1,0 1.7,0a0.9,0.9 0 1,0 -1.7,0M1150.6,106.9m-0.8,0a0.8,0.8 0 1,0 1.5,0a0.8,0.8 0 1,0 -1.5,0M1148.2,101.6m-1.1,0a1.1,1.1 0 1,0 2.2,0a1.1,1.1 0 1,0 -2.2,0M1147.8,101.5m-0.5,0a0.5,0.5 0 1,0 1.1,0a0.5,0.5 0 1,0 -1.1,0M1149.5,102.8m-1.2,0a1.2,1.2 0 1,0 2.3,0a1.2,1.2 0 1,0 -2.3,0M1147.2,110.7m-1,0a1,1 0 1,0 1.9,0a1,1 0 1,0 -1.9,0M1149.1,108.8m-0.7,0a0.7,0.7 0 1,0 1.4,0a0.7,0.7 0 1,0 -1.4,0M1148.3,114.6m-1,0a1,1 0 1,0 2,0a1,1 0 1,0 -2,0M1148.4,100.2m-0.9,0a0.9,0.9 0 1,0 1.7,0a0.9,0.9 0 1,0 -1.7,0M1159,94.5m-0.7,0a0.7,0.7 0 1,0 1.4,0a0.7,0.7 0 1,0 -1.4,0M1153.5,100.1m-0.6,0a0.6,0.6 0 1,0 1.3,0a0.6,0.6 0 1,0 -1.3,0M1157,97.4m-1.1,0a1.1,1.1 0 1,0 2.2,0a1.1,1.1 0 1,0 -2.2,0M1153.8,96.3m-0.8,0a0.8,0.8 0 1,0 1.5,0a0.8,0.8 0 1,0 -1.5,0M1153.6,94.7m-1.1,0a1.1,1.1 0 1,0 2.1,0a1.1,1.1 0 1,0 -2.1,0M1150.3,97.2m-0.9,0a0.9,0.9 0 1,0 1.8,0a0.9,0.9 0 1,0 -1.8,0M1155.4,100.5m-1.2,0a1.2,1.2 0 1,0 2.5,0a1.2,1.2 0 1,0 -2.5,0M1150.5,97.3m-0.9,0a0.9,0.9 0 1,0 1.7,0a0.9,0.9 0 1,0 -1.7,0M1155,95.3m-0.8,0a0.8,0.8 0 1,0 1.6,0a0.8,0.8 0 1,0 -1.6,0M1155.6,98.1m-1.1,0a1.1,1.1 0 1,0 2.3,0a1.1,1.1 0 1,0 -2.3,0M1153.1,98.3m-0.7,0a0.7,0.7 0 1,0 1.4,0a0.7,0.7 0 1,0 -1.4,0M1153.8,98.4m-0.6,0a0.6,0.6 0 1,0 1.3,0a0.6,0.6 0 1,0 -1.3,0M1156.5,92m-1.2,0a1.2,1.2 0 1,0 2.3,0a1.2,1.2 0 1,0 -2.3,0M1157.9,91.4m-1.2,0a1.2,1.2 0 1,0 2.5,0a1.2,1.2 0 1,0 -2.5,0M1157.2,93.6m-1,0a1,1 0 1,0 2,0a1,1 0 1,0 -2,0M1158,89.7m-1.1,0a1.1,1.1 0 1,0 2.2,0a1.1,1.1 0 1,0 -2.2,0M1161.6,88.5m-0.7,0a0.7,0.7 0 1,0 1.4,0a0.7,0.7 0 1,0 -1.4,0M1155.8,96.3m-0.9,0a0.9,0.9 0 1,0 1.9,0a0.9,0.9 0 1,0 -1.9,0M1159.2,91.7m-0.8,0a0.8,0.8 0 1,0 1.7,0a0.8,0.8 0 1,0 -1.7,0M1159.2,95.5m-0.6,0a0.6,0.6 0 1,0 1.2,0a0.6,0.6 0 1,0 -1.2,0M1159.4,90.5m-0.8,0a0.8,0.8 0 1,0 1.6,0a0.8,0.8 0 1,0 -1.6,0M1155.9,92.9m-0.9,0a0.9,0.9 0 1,0 1.9,0a0.9,0.9 0 1,0 -1.9,0M1157.5,89.3m-0.7,0a0.7,0.7 0 1,0 1.5,0a0.7,0.7 0 1,0 -1.5,0M1157.5,90.5m-0.7,0a0.7,0.7 0 1,0 1.3,0a0.7,0.7 0 1,0 -1.3,0M1023.8,193.9m-0.7,0a0.7,0.7 0 1,0 1.3,0a0.7,0.7 0 1,0 -1.3,0M1020.4,197.1m-0.7,0a0.7,0.7 0 1,0 1.3,0a0.7,0.7 0 1,0 -1.3,0M1018.8,196.7m-0.8,0a0.8,0.8 0 1,0 1.6,0a0.8,0.8 0 1,0 -1.6,0M1020.9,196m-1,0a1,1 0 1,0 2,0a1,1 0 1,0 -2,0M1019.7,198.1m-1.3,0a1.3,1.3 0 1,0 2.6,0a1.3,1.3 0 1,0 -2.6,0M1019.1,197.5m-0.7,0a0.7,0.7 0 1,0 1.5,0a0.7,0.7 0 1,0 -1.5,0M1018.1,197.1m-1.2,0a1.2,1.2 0 1,0 2.3,0a1.2,1.2 0 1,0 -2.3,0M1021.5,196.4m-0.7,0a0.7,0.7 0 1,0 1.4,0a0.7,0.7 0 1,0 -1.4,0M1017.1,197.9m-1.2,0a1.2,1.2 0 1,0 2.5,0a1.2,1.2 0 1,0 -2.5,0M1018,196.7m-1,0a1,1 0 1,0 1.9,0a1,1 0 1,0 -1.9,0M1026.1,195m-1.2,0a1.2,1.2 0 1,0 2.5,0a1.2,1.2 0 1,0 -2.5,0M1026.4,196.2m-1.3,0a1.3,1.3 0 1,0 2.6,0a1.3,1.3 0 1,0 -2.6,0M1026.1,196.6m-1.3,0a1.3,1.3 0 1,0 2.6,0a1.3,1.3 0 1,0 -2.6,0M1028.3,195.9m-0.9,0a0.9,0.9 0 1,0 1.7,0a0.9,0.9 0 1,0 -1.7,0M1033.6,194.6m-0.7,0a0.7,0.7 0 1,0 1.4,0a0.7,0.7 0 1,0 -1.4,0M1031.4,193.2m-1.2,0a1.2,1.2 0 1,0 2.4,0a1.2,1.2 0 1,0 -2.4,0M1031.7,192.3m-0.9,0a0.9,0.9 0 1,0 1.8,0a0.9,0.9 0 1,0 -1.8,0M1029.6,192.6m-0.8,0a0.8,0.8 0 1,0 1.5,0a0.8,0.8 0 1,0 -1.5,0M1032.9,191.8m-1,0a1,1 0 1,0 2,0a1,1 0 1,0 -2,0M1030.6,195m-0.7,0a0.7,0.7 0 1,0 1.4,0a0.7,0.7 0 1,0 -1.4,0M1039.4,191.7m-0.8,0a0.8,0.8 0 1,0 1.6,0a0.8,0.8 0 1,0 -1.6,0M1038,191.4m-1.1,0a1.1,1.1 0 1,0 2.1,0a1.1,1.1 0 1,0 -2.1,0M1037.8,189.7m-1,0a1,1 0 1,0 2.1,0a1,1 0 1,0 -2.1,0M1037.5,192.6m-1.1,0a1.1,1.1 0 1,0 2.3,0a1.1,1.1 0 1,0 -2.3,0M1037.1,191.5m-0.7,0a0.7,0.7 0 1,0 1.3,0a0.7,0.7 0 1,0 -1.3,0M1035,191m-0.9,0a0.9,0.9 0 1,0 1.8,0a0.9,0.9 0 1,0 -1.8,0M1037.1,192m-0.7,0a0.7,0.7 0 1,0 1.3,0a0.7,0.7 0 1,0 -1.3,0M1041.3,190.8m-0.6,0a0.6,0.6 0 1,0 1.3,0a0.6,0.6 0 1,0 -1.3,0M1038.1,193.3m-0.7,0a0.7,0.7 0 1,0 1.4,0a0.7,0.7 0 1,0 -1.4,0M1043,191.2m-1.2,0a1.2,1.2 0 1,0 2.3,0a1.2,1.2 0 1,0 -2.3,0M1045.2,188.8m-1.3,0a1.3,1.3 0 1,0 2.5,0a1.3,1.3 0 1,0 -2.5,0M1046.7,186.1m-1.3,0a1.3,1.3 0 1,0 2.5,0a1.3,1.3 0 1,0 -2.5,0M1042.6,190.5m-0.7,0a0.7,0.7 0 1,0 1.4,0a0.7,0.7 0 1,0 -1.4,0M1046.9,186.3m-0.7,0a0.7,0.7 0 1,0 1.4,0a0.7,0.7 0 1,0 -1.4,0M1046.7,186m-0.8,0a0.8,0.8 0 1,0 1.6,0a0.8,0.8 0 1,0 -1.6,0M1044.9,185.3m-0.7,0a0.7,0.7 0 1,0 1.5,0a0.7,0.7 0 1,0 -1.5,0M1044.9,189.7m-1.2,0a1.2,1.2 0 1,0 2.5,0a1.2,1.2 0 1,0 -2.5,0M1044.5,187.4m-1,0a1,1 0 1,0 1.9,0a1,1 0 1,0 -1.9,0M1045.8,187.9m-1,0a1,1 0 1,0 2,0a1,1 0 1,0 -2,0M1047,185.1m-1.3,0a1.3,1.3 0 1,0 2.6,0a1.3,1.3 0 1,0 -2.6,0M1052.6,188.4m-0.8,0a0.8,0.8 0 1,0 1.6,0a0.8,0.8 0 1,0 -1.6,0M1055.8,188.2m-1.1,0a1.1,1.1 0 1,0 2.3,0a1.1,1.1 0 1,0 -2.3,0M1050.5,187.3m-0.6,0a0.6,0.6 0 1,0 1.3,0a0.6,0.6 0 1,0 -1.3,0M1053.6,188.6m-1.3,0a1.3,1.3 0 1,0 2.6,0a1.3,1.3 0 1,0 -2.6,0M1053.1,186.2m-0.6,0a0.6,0.6 0 1,0 1.2,0a0.6,0.6 0 1,0 -1.2,0M1047.3,185.1m-0.9,0a0.9,0.9 0 1,0 1.8,0a0.9,0.9 0 1,0 -1.8,0M1053.2,185.2m-0.8,0a0.8,0.8 0 1,0 1.5,0a0.8,0.8 0 1,0 -1.5,0M1051.6,185.3m-0.8,0a0.8,0.8 0 1,0 1.7,0a0.8,0.8 0 1,0 -1.7,0M1048.5,183.8m-1,0a1,1 0 1,0 2,0a1,1 0 1,0 -2,0M1051.7,187.5m-0.9,0a0.9,0.9 0 1,0 1.9,0a0.9,0.9 0 1,0 -1.9,0M1057.9,187.3m-0.7,0a0.7,0.7 0 1,0 1.4,0a0.7,0.7 0 1,0 -1.4,0M1056.7,189.9m-1.1,0a1.1,1.1 0 1,0 2.3,0a1.1,1.1 0 1,0 -2.3,0M1057.6,185.5m-1.1,0a1.1,1.1 0 1,0 2.1,0a1.1,1.1 0 1,0 -2.1,0M1058.9,187.5m-0.9,0a0.9,0.9 0 1,0 1.8,0a0.9,0.9 0 1,0 -1.8,0M1062.5,184.7m-1.2,0a1.2,1.2 0 1,0 2.5,0a1.2,1.2 0 1,0 -2.5,0M1056.1,188.3m-0.8,0a0.8,0.8 0 1,0 1.5,0a0.8,0.8 0 1,0 -1.5,0M1056.9,186.6m-1,0a1,1 0 1,0 2,0a1,1 0 1,0 -2,0M1060.7,184.5m-1,0a1,1 0 1,0 2.1,0a1,1 0 1,0 -2.1,0M1059.4,188.4m-0.7,0a0.7,0.7 0 1,0 1.4,0a0.7,0.7 0 1,0 -1.4,0M1057.1,186m-1.2,0a1.2,1.2 0 1,0 2.4,0a1.2,1.2 0 1,0 -2.4,0M1067.9,181m-1.2,0a1.2,1.2 0 1,0 2.4,0a1.2,1.2 0 1,0 -2.4,0M1066.9,184.1m-0.9,0a0.9,0.9 0 1,0 1.8,0a0.9,0.9 0 1,0 -1.8,0M1062.4,183.7m-0.6,0a0.6,0.6 0 1,0 1.3,0a0.6,0.6 0 1,0 -1.3,0M1065.1,185.2m-1.2,0a1.2,1.2 0 1,0 2.4,0a1.2,1.2 0 1,0 -2.4,0M1066.1,183.4m-0.9,0a0.9,0.9 0 1,0 1.8,0a0.9,0.9 0 1,0 -1.8,0M1067.3,182m-1,0a1,1 0 1,0 2.1,0a1,1 0 1,0 -2.1,0M1067.6,183.9m-0.6,0a0.6,0.6 0 1,0 1.2,0a0.6,0.6 0 1,0 -1.2,0M1063.1,185.7m-1.3,0a1.3,1.3 0 1,0 2.5,0a1.3,1.3 0 1,0 -2.5,0M1066.5,184.6m-0.8,0a0.8,0.8 0 1,0 1.7,0a0.8,0.8 0 1,0 -1.7,0M1064.9,185.3m-1.1,0a1.1,1.1 0 1,0 2.2,0a1.1,1.1 0 1,0 -2.2,0M1075.8,180m-1.2,0a1.2,1.2 0 1,0 2.4,0a1.2,1.2 0 1,0 -2.4,0M1075.7,179.8m-1.1,0a1.1,1.1 0 1,0 2.2,0a1.1,1.1 0 1,0 -2.2,0M1073,179.3m-1,0a1,1 0 1,0 2.1,0a1,1 0 1,0 -2.1,0M1070.5,180.6m-0.6,0a0.6,0.6 0 1,0 1.2,0a0.6,0.6 0 1,0 -1.2,0M1070.8,181.3m-0.7,0a0.7,0.7 0 1,0 1.4,0a0.7,0.7 0 1,0 -1.4,0M1067.5,183m-1,0a1,1 0 1,0 2.1,0a1,1 0 1,0 -2.1,0M1075.4,178.3m-1,0a1,1 0 1,0 2,0a1,1 0 1,0 -2,0M1072.7,182.4m-1.2,0a1.2,1.2 0 1,0 2.4,0a1.2,1.2 0 1,0 -2.4,0M1070.3,183.7m-1.3,0a1.3,1.3 0 1,0 2.5,0a1.3,1.3 0 1,0 -2.5,0M1068.7,180.4m-0.6,0a0.6,0.6 0 1,0 1.2,0a0.6,0.6 0 1,0 -1.2,0M1085.5,177.8m-1.2,0a1.2,1.2 0 1,0 2.4,0a1.2,1.2 0 1,0 -2.4,0M1082.1,176.1m-0.7,0a0.7,0.7 0 1,0 1.3,0a0.7,0.7 0 1,0 -1.3,0M1082.9,176.7m-0.9,0a0.9,0.9 0 1,0 1.8,0a0.9,0.9 0 1,0 -1.8,0M1076.7,178.1m-1.1,0a1.1,1.1 0 1,0 2.2,0a1.1,1.1 0 1,0 -2.2,0M1079.9,180.1m-1,0a1,1 0 1,0 1.9,0a1,1 0 1,0 -1.9,0M1085,175.3m-0.9,0a0.9,0.9 0 1,0 1.8,0a0.9,0.9 0 1,0 -1.8,0M1081.9,177.5m-1.1,0a1.1,1.1 0 1,0 2.2,0a1.1,1.1 0 1,0 -2.2,0M1081.1,179.3m-0.7,0a0.7,0.7 0 1,0 1.3,0a0.7,0.7 0 1,0 -1.3,0M1083.4,175.3m-0.7,0a0.7,0.7 0 1,0 1.5,0a0.7,0.7 0 1,0 -1.5,0M1085.3,175.4m-0.9,0a0.9,0.9 0 1,0 1.9,0a0.9,0.9 0 1,0 -1.9,0M1091,173.5m-0.9,0a0.9,0.9 0 1,0 1.9,0a0.9,0.9 0 1,0 -1.9,0M1089.9,174.4m-1.3,0a1.3,1.3 0 1,0 2.5,0a1.3,1.3 0 1,0 -2.5,0M1087.5,176.5m-0.9,0a0.9,0.9 0 1,0 1.9,0a0.9,0.9 0 1,0 -1.9,0M1087.3,174.8m-1.2,0a1.2,1.2 0 1,0 2.3,0a1.2,1.2 0 1,0 -2.3,0M1092.8,174.4m-0.8,0a0.8,0.8 0 1,0 1.7,0a0.8,0.8 0 1,0 -1.7,0M1089.1,176.7m-0.7,0a0.7,0.7 0 1,0 1.3,0a0.7,0.7 0 1,0 -1.3,0M1092.2,171.9m-0.8,0a0.8,0.8 0 1,0 1.6,0a0.8,0.8 0 1,0 -1.6,0M1093.7,172.5m-1.2,0a1.2,1.2 0 1,0 2.4,0a1.2,1.2 0 1,0 -2.4,0M1087.8,176m-1.1,0a1.1,1.1 0 1,0 2.3,0a1.1,1.1 0 1,0 -2.3,0M1092.8,173m-0.8,0a0.8,0.8 0 1,0 1.7,0a0.8,0.8 0 1,0 -1.7,0M1096.6,172.6m-1.1,0a1.1,1.1 0 1,0 2.2,0a1.1,1.1 0 1,0 -2.2,0M1095.5,172.9m-1,0a1,1 0 1,0 2,0a1,1 0 1,0 -2,0M1095.2,173.6m-0.8,0a0.8,0.8 0 1,0 1.5,0a0.8,0.8 0 1,0 -1.5,0M1095.2,172.6m-1.2,0a1.2,1.2 0 1,0 2.4,0a1.2,1.2 0 1,0 -2.4,0M1094.5,170.9m-0.8,0a0.8,0.8 0 1,0 1.7,0a0.8,0.8 0 1,0 -1.7,0M1096.9,169.6m-0.7,0a0.7,0.7 0 1,0 1.5,0a0.7,0.7 0 1,0 -1.5,0M1101.5,166.8m-1.3,0a1.3,1.3 0 1,0 2.5,0a1.3,1.3 0 1,0 -2.5,0M1094.9,174.1m-1.2,0a1.2,1.2 0 1,0 2.3,0a1.2,1.2 0 1,0 -2.3,0M1099.1,168.2m-1,0a1,1 0 1,0 2.1,0a1,1 0 1,0 -2.1,0M1094.4,171.7m-0.6,0a0.6,0.6 0 1,0 1.2,0a0.6,0.6 0 1,0 -1.2,0M1186,158m-0.9,0a0.9,0.9 0 1,0 1.8,0a0.9,0.9 0 1,0 -1.8,0M1184,160m-0.9,0a0.9,0.9 0 1,0 1.8,0a0.9,0.9 0 1,0 -1.8,0M1188,159.6m-0.9,0a0.9,0.9 0 1,0 1.8,0a0.9,0.9 0 1,0 -1.8,0M1182,162m-0.9,0a0.9,0.9 0 1,0 1.8,0a0.9,0.9 0 1,0 -1.8,0M1192,155m-0.9,0a0.9,0.9 0 1,0 1.8,0a0.9,0.9 0 1,0 -1.8,0M1202,154m-0.9,0a0.9,0.9 0 1,0 1.8,0a0.9,0.9 0 1,0 -1.8,0M1172,159m-0.9,0a0.9,0.9 0 1,0 1.8,0a0.9,0.9 0 1,0 -1.8,0M1160,144m-0.9,0a0.9,0.9 0 1,0 1.8,0a0.9,0.9 0 1,0 -1.8,0M1180,141m-0.9,0a0.9,0.9 0 1,0 1.8,0a0.9,0.9 0 1,0 -1.8,0M1193,139m-0.9,0a0.9,0.9 0 1,0 1.8,0a0.9,0.9 0 1,0 -1.8,0M1222,132m-0.9,0a0.9,0.9 0 1,0 1.8,0a0.9,0.9 0 1,0 -1.8,0M1227,134m-0.9,0a0.9,0.9 0 1,0 1.8,0a0.9,0.9 0 1,0 -1.8,0M1229,136m-0.9,0a0.9,0.9 0 1,0 1.8,0a0.9,0.9 0 1,0 -1.8,0M1127,172m-0.9,0a0.9,0.9 0 1,0 1.8,0a0.9,0.9 0 1,0 -1.8,0M1129,170m-0.9,0a0.9,0.9 0 1,0 1.8,0a0.9,0.9 0 1,0 -1.8,0M1153,182m-0.9,0a0.9,0.9 0 1,0 1.8,0a0.9,0.9 0 1,0 -1.8,0M1154,189m-0.9,0a0.9,0.9 0 1,0 1.8,0a0.9,0.9 0 1,0 -1.8,0" fill="#000"/></g>
<g clip-path="url(#ca)"><path d="M281,96Q279.5,80.5 264,83M272.1,85.5L264,83M270.9,78.1L264,83M116,178L138,189M132.8,182.3L138,189M129.5,188.9L138,189M122,215L138,220M131.8,214.2L138,220M129.6,221.3L138,220M212,195L217.6,190.4M209.3,192.4L217.6,190.4M214.1,198.1L217.6,190.4M302,189L314,145M308.4,151.4L314,145M315.6,153.4L314,145M288,200L295,177M289.2,183.2L295,177M296.3,185.4L295,177M346,187L347,152M343.1,159.5L347,152M350.5,159.7L347,152M380,73L372,70M377.8,76.2L372,70M380.5,69.2L372,70M416,83L416,77M412.3,84.6L416,77M419.7,84.6L416,77M449,68L458,65M449.6,63.9L458,65M451.9,71L458,65M360,99L352,98M359.1,102.6L352,98M360,95.3L352,98M386,116L398,102M390.2,105.4L398,102M395.9,110.2L398,102M442,122Q424,109.5 430,99M423,103.8L430,99M429.4,107.5L430,99M331,154L328,125M325.1,133L328,125M332.5,132.2L328,125M369,149L373,123M368.2,130L373,123M375.5,131.1L373,123M408,154L411,125M406.5,132.2L411,125M413.9,133L411,125M383,180L388,154M382.9,160.8L388,154M390.2,162.2L388,154M324,200L329,183M323.3,189.3L329,183M330.4,191.4L329,183M366,207L361,192M359.9,200.4L361,192M367,198.1L361,192M419,168L425,167M416.9,164.6L425,167M418.1,171.9L425,167M407,201L396,192M399.6,199.7L396,192M404.3,194L396,192M448,204L425,210M433.3,211.7L425,210M431.5,204.5L425,210M486,201L462,212M470.5,212.2L462,212M467.4,205.4L462,212M516,191L499,200M507.5,199.7L499,200M504,193.1L499,200M477,132L487,130M478.8,127.8L487,130M480.2,135.2L487,130M511,126L519,125M511,122.3L519,125M511.9,129.6L519,125M497,93.6L509,92.4M501,89.5L509,92.4M501.8,96.9L509,92.4M548,155L537,154M544.3,158.4L537,154M544.9,151L537,154M548,193L539,194M547,196.9L539,194M546.2,189.5L539,194M89,218L100,237M99.4,228.5L100,237M92.9,232.3L100,237M123,215L138,220M131.9,214L138,220M129.6,221.1L138,220M148,243L177,235M168.6,233.4L177,235M170.6,240.6L177,235M121,253L134,251M125.9,248.5L134,251M127,255.8L134,251M92,256L93,267M96,259.1L93,267M88.6,259.7L93,267M202,247L208,215M202.9,221.8L208,215M210.3,223.2L208,215M202,272L199,258M197,266.3L199,258M204.2,264.7L199,258M249,269L234,257M237.6,264.7L234,257M242.3,258.9L234,257M293,241L287,218M285.3,226.3L287,218M292.5,224.5L287,218M340,237L324,224M327.6,231.7L324,224M332.3,225.9L324,224M161,274L155,273M161.9,277.9L155,273M163.1,270.6L155,273M123,288L116,286M122.3,291.7L116,286M124.4,284.5L116,286M162,309L142,303M148.2,308.8L142,303M150.4,301.6L142,303M204,299L183,295M189.8,300.1L183,295M191.2,292.8L183,295M239,300L220,294M226.2,299.9L220,294M228.4,292.7L220,294M284,298L256,293M262.9,298L256,293M264.2,290.7L256,293M332,294L286,303M294.2,305.2L286,303M292.8,297.9L286,303M127,330Q104.5,326.3 88,327M95.8,330.4L88,327M95.5,323L88,327M163,343Q139.5,337.7 118,336M125.3,340.3L118,336M125.9,332.9L118,336M200,335L163,330M170.1,334.7L163,330M171.1,327.3L163,330M236,332L201,329M208.3,333.4L201,329M208.9,325.9L201,329M306,328Q280,339.5 242,325M247.8,331.2L242,325M250.5,324.2L242,325M116,360L88,356M95,360.8L88,356M96.1,353.4L88,356M149,371Q120.5,368.5 98,364M104.8,369.2L98,364M106.2,361.8L98,364M234,366Q200,365.5 174,359M180.5,364.5L174,359M182.3,357.2L174,359M272,359Q242,368 212,361M218.6,366.4L212,361M220.3,359.1L212,361M311,355Q277,366 247,365M254.5,369L247,365M254.8,361.5L247,365M245,392Q229,394 209,392M216.2,396.5L209,392M217,389.1L209,392M288,386Q259,395 234,400M242.2,402.2L234,400M240.8,394.8L234,400M326,385Q300,393.5 282,400M290.5,400.9L282,400M287.9,393.9L282,400M385,236L360,232M367,236.9L360,232M368.1,229.5L360,232M430,228L399,236M407.3,237.7L399,236M405.5,230.5L399,236M426,261Q366,282.5 306,262M312,268L306,262M314.4,260.9L306,262M458,257L422,271M430.5,271.7L422,271M427.8,264.8L422,271M517,222Q487,236.5 445,249M453.4,250.4L445,249M451.3,243.2L445,249M546,223L522,232M530.5,232.8L522,232M527.8,225.8L522,232M546,249Q494,269.5 466,288M474.4,286.9L466,288M470.3,280.7L466,288M376,296L322,305M330.1,307.4L322,305M328.9,300.1L322,305M419,291L359,303M367.2,305.2L359,303M365.8,297.8L359,303M454,287L393,304M401.4,305.5L393,304M399.4,298.4L393,304M495,280Q457,295.5 431,309M439.5,308.8L431,309M436.1,302.2L431,309M546,292L517,303M525.5,303.8L517,303M522.8,296.8L517,303M366,325L305,341M313.3,342.7L305,341M311.4,335.5L305,341M406,323L342,337M350.3,339L342,337M348.7,331.7L342,337M468,319L414,337M422.4,338.1L414,337M420.1,331L414,337M449,325L382,341M390.3,342.8L382,341M388.6,335.6L382,341M504,320L454,344M462.5,344.1L454,344M459.3,337.3L454,344M385,354Q324.5,374 286,370M293.2,374.5L286,370M294,367.1L286,370M453,356L409,369M417.4,370.4L409,369M415.3,363.3L409,369M420,362L366,369M374.1,371.7L366,369M373.1,364.3L366,369M527,345L504,353M512.4,354L504,353M510,347L504,353M546,330Q471,357 440,368M448.4,369L440,368M446,361.9L440,368M546,367L480,375M488,377.8L480,375M487.1,370.4L480,375M358,387L328,400M336.5,400.4L328,400M333.5,393.5L328,400M393,390L366,400M374.5,400.8L366,400M371.9,393.9L366,400M498,385L472,400M480.5,399.4L472,400M476.8,393L472,400" fill="none" stroke="#000" stroke-width="1.35"/></g>
<g clip-path="url(#cb)"><path d="M959,86L963,91M961.6,83.6L963,91M956.1,88L963,91M935,194L937,201M938.6,193.7L937,201M931.8,195.6L937,201M773,154L777,160M776.3,152.5L777,160M770.4,156.4L777,160M826.4,158.4L828,152M823,157.6L828,152M829.8,159.3L828,152M806,182.4L812,184M806.5,178.9L812,184M804.7,185.7L812,184M812,212L815,218M815.2,210.5L815,218M808.9,213.7L815,218M1019,65L1020,71M1022.4,63.9L1020,71M1015.4,65L1020,71M1062,66L1059,72M1065.1,67.7L1059,72M1058.8,64.5L1059,72M1001,100L1003,107M1004.6,99.7L1003,107M997.8,101.6L1003,107M1041,94L1036,101M1042.7,97.7L1036,101M1037,93.6L1036,101M1106,76L1100,82M1107.2,79.8L1100,82M1102.2,74.8L1100,82M1014,136L1011,144M1016.6,139L1011,144M1010,136.6L1011,144M1055,131L1052,138M1057.8,133.3L1052,138M1051.4,130.5L1052,138M1082,104L1076,109M1083.3,107.5L1076,109M1078.8,102.1L1076,109M1122,109L1115,113M1122.5,112.8L1115,113M1119,106.7L1115,113M992,162L990,173M994.6,167.1L990,173M987.7,165.9L990,173M1036,165.6L1030.4,168M1037.9,168.6L1030.4,168M1035.1,162.2L1030.4,168M1098,140.4L1091,138M1096.1,143.5L1091,138M1098.4,136.8L1091,138M1172,132.4L1165,132M1171.4,135.9L1165,132M1171.8,128.9L1165,132M1207,127.4L1201,126M1206.6,130.9L1201,126M1208.2,124.1L1201,126M1194,94.4L1188,93M1193.6,97.9L1188,93M1195.2,91.1L1188,93M1071.2,169L1070,165.6M1068.9,173L1070,165.6M1075.5,170.7L1070,165.6M1110,174.4L1109,170M1107,177.2L1109,170M1113.9,175.7L1109,170M1048,202.4L1050,198M1044.1,202.6L1050,198M1050.5,205.5L1050,198M1086,200.4L1085.6,195M1082.6,201.9L1085.6,195M1089.6,201.3L1085.6,195M1122,210.4L1121,204M1118.5,211.1L1121,204M1125.5,210L1121,204M1222,158.4L1221.6,154M1218.7,160.9L1221.6,154M1225.7,160.3L1221.6,154M1192,200.4L1193,195M1188.3,200.9L1193,195M1195.3,202.2L1193,195M1159,209.2L1158,204M1155.8,211.2L1158,204M1162.7,209.8L1158,204M1231,101L1227,100M1232.6,105L1227,100M1234.3,98.2L1227,100M773,222L780,228M777.3,221L780,228M772.7,226.4L780,228M807,215L814,220M810.7,213.3L814,220M806.6,219L814,220M882,226L890,232M886.8,225.2L890,232M882.6,230.8L890,232M926,226L934,232M930.8,225.2L934,232M926.6,230.8L934,232M966,227L979,232M974.1,226.3L979,232M971.6,232.9L979,232M852,234L845,239M852.4,238L845,239M848.3,232.3L845,239M810,247L812,254M813.6,246.7L812,254M806.8,248.6L812,254M773,258L779,263M776.2,256.1L779,263M771.7,261.5L779,263M879,263L888,265M882.3,260.1L888,265M880.8,267L888,265M919,263L930,263M923.4,259.5L930,263M923.4,266.5L930,263M955,263L976,266M969.9,261.6L976,266M968.9,268.5L976,266M838,273L846,274M839.9,269.7L846,274M839,276.7L846,274M800,284L807,290M804.3,283L807,290M799.7,288.4L807,290M910,295L918,297M912.4,292L918,297M910.7,298.8L918,297M869,296L879,300M874.2,294.3L879,300M871.5,300.8L879,300M946,296L961,297.4M954.7,293.3L961,297.4M954.1,300.3L961,297.4M829,303L838,308M833.9,301.7L838,308M830.5,307.9L838,308M788,324L795,328M791,321.7L795,328M787.5,327.8L795,328M860,330L868,332M862.4,327L868,332M860.7,333.8L868,332M899,329L908,330M901.8,325.8L908,330M901,332.8L908,330M938,329L946,330M939.9,325.7L946,330M939,332.7L946,330M972,331L990,328M982.9,325.6L990,328M984,332.6L990,328M821,340L831,341M824.8,336.8L831,341M824.1,343.8L831,341M772,356L776,357.4M770.9,351.9L776,357.4M768.6,358.5L776,357.4M882,364L894,362M886.9,359.6L894,362M888,366.6L894,362M919,364L932,362M924.9,359.5L932,362M926,366.5L932,362M956,364L970,360M962.7,358.4L970,360M964.6,365.2L970,360M803,368L811,369M804.9,364.7L811,369M804,371.7L811,369M845,365L855,364M848.1,361.2L855,364M848.8,368.2L855,364M917,388.6L911,394M918.3,392.2L911,394M913.6,387L911,394M838.4,391L836,396M842,391.6L836,396M835.7,388.5L836,396M1010,232L1019,230M1011.8,228L1019,230M1013.3,234.9L1019,230M1052,235L1060,232M1052.6,231L1060,232M1055,237.6L1060,232M1095,234L1102,229M1094.6,230L1102,229M1098.7,235.7L1102,229M1146,240L1155,239M1148,236.2L1155,239M1148.8,243.2L1155,239M1179,230L1187,227M1179.6,226L1187,227M1182,232.6L1187,227M1217,226L1224,223M1216.5,222.4L1224,223M1219.3,228.8L1224,223M1042,270L1051,264M1043.5,264.7L1051,264M1047.4,270.6L1051,264M1084,268L1092,262M1084.6,263.2L1092,262M1088.8,268.8L1092,262M1120,268L1127,262M1119.7,263.6L1127,262M1124.3,269L1127,262M1171,275L1178,272M1170.5,271.4L1178,272M1173.3,277.8L1178,272M1204,258L1211,255M1203.5,254.4L1211,255M1206.3,260.8L1211,255M987,299L999,297M991.9,294.6L999,297M993,301.6L999,297M1027,303L1038,297M1030.5,297.1L1038,297M1033.9,303.3L1038,297M1069,301L1077,294M1069.7,295.7L1077,294M1074.3,301L1077,294M1104,300L1111,294M1103.7,295.6L1111,294M1108.3,301L1111,294M1192,309L1200,304M1192.5,304.5L1200,304M1196.3,310.5L1200,304M1013,335L1026,330M1018.6,329.1L1026,330M1021.1,335.7L1026,330M1053,332L1064,326M1056.5,326.1L1064,326M1059.9,332.3L1064,326M1092,335L1100,331M1092.5,330.8L1100,331M1095.7,337.1L1100,331M1166,333L1174,327M1166.6,328.2L1174,327M1170.8,333.8L1174,327M1206,339L1216,335M1208.5,334.2L1216,335M1211.2,340.7L1216,335M995,367L1007,361M999.5,360.8L1007,361M1002.7,367.1L1007,361M1033,363L1044,358M1036.5,357.5L1044,358M1039.4,363.9L1044,358M1072,366L1081,362M1073.5,361.5L1081,362M1076.4,367.9L1081,362M1111,366L1118,361M1110.6,362L1118,361M1114.7,367.7L1118,361M1144,360L1151,356M1143.5,356.2L1151,356M1147,362.3L1151,356M1184,360L1189,357M1181.5,357.4L1189,357M1185.1,363.4L1189,357M1224,371L1230,368M1222.5,367.8L1230,368M1225.7,374.1L1230,368" fill="none" stroke="#000" stroke-width="1.3"/></g>
<g clip-path="url(#cc)"><path d="M124,522L131,522M122.8,517.6L131,522M122.8,526.4L131,522M168,522L175,522M166.8,517.6L175,522M166.8,526.4L175,522M212,522L219,522M210.8,517.6L219,522M210.8,526.4L219,522M256.5,522L263.5,522M255.3,517.6L263.5,522M255.3,526.4L263.5,522M301.5,522L308.5,522M300.3,517.6L308.5,522M300.3,526.4L308.5,522M345.5,522L352.5,522M344.3,517.6L352.5,522M344.3,526.4L352.5,522M86.5,562L111,562M102.8,557.6L111,562M102.8,566.4L111,562M111,562L157.5,562M149.3,557.6L157.5,562M149.3,566.4L157.5,562M157.5,562L204,562M195.8,557.6L204,562M195.8,566.4L204,562M204,562L250,562M241.8,557.6L250,562M241.8,566.4L250,562M250,562L295,562M286.8,557.6L295,562M286.8,566.4L295,562M295,562L338.5,562M330.3,557.6L338.5,562M330.3,566.4L338.5,562M338.5,562L382.5,562M374.3,557.6L382.5,562M374.3,566.4L382.5,562M350,554.5L425,554.5M416.8,550.1L425,554.5M416.8,558.9L425,554.5M390,558L457.5,558M449.3,553.6L457.5,558M449.3,562.4L457.5,558M436,546.5L480,546.5M471.8,542.1L480,546.5M471.8,550.9L480,546.5M86.5,603L120,603M111.8,598.6L120,603M111.8,607.4L120,603M120,603L166.5,603M158.3,598.6L166.5,603M158.3,607.4L166.5,603M166.5,603L213.5,603M205.3,598.6L213.5,603M205.3,607.4L213.5,603M213.5,603L260,603M251.8,598.6L260,603M251.8,607.4L260,603M260,603L302.5,603M294.3,598.6L302.5,603M294.3,607.4L302.5,603M302.5,603L345,603M336.8,598.6L345,603M336.8,607.4L345,603M345,603L387.5,603M379.3,598.6L387.5,603M379.3,607.4L387.5,603M369,595.5L430,595.5M421.8,591.1L430,595.5M421.8,599.9L430,595.5M427.5,587L482.5,587M474.3,582.6L482.5,587M474.3,591.4L482.5,587M475,584.5L520,584.5M511.8,580.1L520,584.5M511.8,588.9L520,584.5M532.5,603L550,603M541.8,598.6L550,603M541.8,607.4L550,603M86.5,644L102.5,644M94.3,639.6L102.5,644M94.3,648.4L102.5,644M111,644L147.5,644M139.3,639.6L147.5,644M139.3,648.4L147.5,644M147.5,644L195,644M186.8,639.6L195,644M186.8,648.4L195,644M195,644L242.5,644M234.3,639.6L242.5,644M234.3,648.4L242.5,644M242.5,644L285,644M276.8,639.6L285,644M276.8,648.4L285,644M285,644L327.5,644M319.3,639.6L327.5,644M319.3,648.4L327.5,644M327.5,644L370,644M361.8,639.6L370,644M361.8,648.4L370,644M370,644L410,644M401.8,639.6L410,644M401.8,648.4L410,644M406,625.5L452.5,625.5M444.3,621.1L452.5,625.5M444.3,629.9L452.5,625.5M447.5,628L484,628M475.8,623.6L484,628M475.8,632.4L484,628M494,625.5L525,625.5M516.8,621.1L525,625.5M516.8,629.9L525,625.5M86.5,684.5L111,684.5M102.8,680.1L111,684.5M102.8,688.9L111,684.5M126,684.5L157.5,684.5M149.3,680.1L157.5,684.5M149.3,688.9L157.5,684.5M157.5,684.5L206,684.5M197.8,680.1L206,684.5M197.8,688.9L206,684.5M206,684.5L252.5,684.5M244.3,680.1L252.5,684.5M244.3,688.9L252.5,684.5M252.5,684.5L295,684.5M286.8,680.1L295,684.5M286.8,688.9L295,684.5M295,684.5L332.5,684.5M324.3,680.1L332.5,684.5M324.3,688.9L332.5,684.5M332.5,684.5L372.5,684.5M364.3,680.1L372.5,684.5M364.3,688.9L372.5,684.5M372.5,684.5L414,684.5M405.8,680.1L414,684.5M405.8,688.9L414,684.5M426,666.5L457.5,666.5M449.3,662.1L457.5,666.5M449.3,670.9L457.5,666.5M479,666.5L502.5,666.5M494.3,662.1L502.5,666.5M494.3,670.9L502.5,666.5M530,662L542.5,662M534.3,657.6L542.5,662M534.3,666.4L542.5,662M86.5,725.5L94,725.5M85.8,721.1L94,725.5M85.8,729.9L94,725.5M118.5,725.5L141.5,725.5M133.3,721.1L141.5,725.5M133.3,729.9L141.5,725.5M157.5,725.5L187.5,725.5M179.3,721.1L187.5,725.5M179.3,729.9L187.5,725.5M195,725.5L235,725.5M226.8,721.1L235,725.5M226.8,729.9L235,725.5M235,725.5L277.5,725.5M269.3,721.1L277.5,725.5M269.3,729.9L277.5,725.5M285,725.5L317.5,725.5M309.3,721.1L317.5,725.5M309.3,729.9L317.5,725.5M332.5,725.5L352.5,725.5M344.3,721.1L352.5,725.5M344.3,729.9L352.5,725.5M377.5,725.5L397.5,725.5M389.3,721.1L397.5,725.5M389.3,729.9L397.5,725.5M422.5,725.5L437.5,725.5M429.3,721.1L437.5,725.5M429.3,729.9L437.5,725.5M460,704L474,704M465.8,699.6L474,704M465.8,708.4L474,704M497.5,707L509,707M500.8,702.6L509,707M500.8,711.4L509,707M544,704L550,704M541.8,699.6L550,704M541.8,708.4L550,704M89,766.5L106.5,766.5M98.3,762.1L106.5,766.5M98.3,770.9L106.5,766.5M129,766.5L154,766.5M145.8,762.1L154,766.5M145.8,770.9L154,766.5M170,766.5L199,766.5M190.8,762.1L199,766.5M190.8,770.9L199,766.5M212.5,766.5L241.5,766.5M233.3,762.1L241.5,766.5M233.3,770.9L241.5,766.5M256,766.5L285,766.5M276.8,762.1L285,766.5M276.8,770.9L285,766.5M300,766.5L322.5,766.5M314.3,762.1L322.5,766.5M314.3,770.9L322.5,766.5M350,766.5L361,766.5M352.8,762.1L361,766.5M352.8,770.9L361,766.5M396,766.5L403,766.5M394.8,762.1L403,766.5M394.8,770.9L403,766.5M450,766.5L444,766.5M452.2,770.9L444,766.5M452.2,762.1L444,766.5M487.5,744L479,744M487.2,748.4L479,744M487.2,739.6L479,744M540,745.5L531,745.5M539.2,749.9L531,745.5M539.2,741.1L531,745.5M86.5,808L93,808M84.8,803.6L93,808M84.8,812.4L93,808M122.5,808L137.5,808M129.3,803.6L137.5,808M129.3,812.4L137.5,808M160,808L184,808M175.8,803.6L184,808M175.8,812.4L184,808M207.5,808L220,808M211.8,803.6L220,808M211.8,812.4L220,808M253.5,808L260,808M251.8,803.6L260,808M251.8,812.4L260,808M298,808L304,808M295.8,803.6L304,808M295.8,812.4L304,808M350,808L342.5,808M350.7,812.4L342.5,808M350.7,803.6L342.5,808M395,808L382.5,808M390.7,812.4L382.5,808M390.7,803.6L382.5,808M440,808L422.5,808M430.7,812.4L422.5,808M430.7,803.6L422.5,808M487.5,808L459,808M467.2,812.4L459,808M467.2,803.6L459,808M520,781.5L502.5,781.5M510.7,785.9L502.5,781.5M510.7,777.1L502.5,781.5M547.5,785.5L537.5,785.5M545.7,789.9L537.5,785.5M545.7,781.1L537.5,785.5M90,849L106.5,849M98.3,844.6L106.5,849M98.3,853.4L106.5,849M132.5,849L147.5,849M139.3,844.6L147.5,849M139.3,853.4L147.5,849M290,849L264,849M272.2,853.4L264,849M272.2,844.6L264,849M330,849L302.5,849M310.7,853.4L302.5,849M310.7,844.6L302.5,849M370,849L342.5,849M350.7,853.4L342.5,849M350.7,844.6L342.5,849M415,849L382.5,849M390.7,853.4L382.5,849M390.7,844.6L382.5,849M462.5,849L424,849M432.2,853.4L424,849M432.2,844.6L424,849M502.5,849L462.5,849M470.7,853.4L462.5,849M470.7,844.6L462.5,849M540,823L506,823M514.2,827.4L506,823M514.2,818.6L506,823M545,860.5L524,860.5M532.2,864.9L524,860.5M532.2,856.1L524,860.5M90,889.5L97,889.5M88.8,885.1L97,889.5M88.8,893.9L97,889.5M320,889.5L314,889.5M322.2,893.9L314,889.5M322.2,885.1L314,889.5M372.5,889.5L366.5,889.5M374.7,893.9L366.5,889.5M374.7,885.1L366.5,889.5M427.5,889.5L421.5,889.5M429.7,893.9L421.5,889.5M429.7,885.1L421.5,889.5M482.5,889.5L476.5,889.5M484.7,893.9L476.5,889.5M484.7,885.1L476.5,889.5" fill="none" stroke="#404040" stroke-width="1.3"/></g>
<g clip-path="url(#cd)"><path d="M781,522L788,522M780.1,517.8L788,522M780.1,526.2L788,522M836,522L830,522M837.9,526.2L830,522M837.9,517.8L830,522M876,522L870,522M877.9,526.2L870,522M877.9,517.8L870,522M918.5,522L912.5,522M920.4,526.2L912.5,522M920.4,517.8L912.5,522M961,522L955,522M962.9,526.2L955,522M962.9,517.8L955,522M1003.5,522L997.5,522M1005.4,526.2L997.5,522M1005.4,517.8L997.5,522M806,562L813,562M805.1,557.8L813,562M805.1,566.2L813,562M867,562L860,562M867.9,566.2L860,562M867.9,557.8L860,562M910,562L898,562M905.9,566.2L898,562M905.9,557.8L898,562M952.5,562L937.5,562M945.4,566.2L937.5,562M945.4,557.8L937.5,562M995,562L978.5,562M986.4,566.2L978.5,562M986.4,557.8L978.5,562M1037.5,562L1021.5,562M1029.4,566.2L1021.5,562M1029.4,557.8L1021.5,562M1079,554.5L1065,554.5M1072.9,558.7L1065,554.5M1072.9,550.3L1065,554.5M1115,557L1101.5,557M1109.4,561.2L1101.5,557M1109.4,552.8L1101.5,557M1156,546.5L1145,546.5M1152.9,550.7L1145,546.5M1152.9,542.3L1145,546.5M776,603L783,603M775.1,598.8L783,603M775.1,607.2L783,603M821,603L828,603M820.1,598.8L828,603M820.1,607.2L828,603M881,603L874,603M881.9,607.2L874,603M881.9,598.8L874,603M922,603L914,603M921.9,607.2L914,603M921.9,598.8L914,603M961,603L949,603M956.9,607.2L949,603M956.9,598.8L949,603M1005,603L992.5,603M1000.4,607.2L992.5,603M1000.4,598.8L992.5,603M1050,603L1036,603M1043.9,607.2L1036,603M1043.9,598.8L1036,603M1092.5,595.5L1077.5,595.5M1085.4,599.7L1077.5,595.5M1085.4,591.3L1077.5,595.5M1147.5,587L1135,587M1142.9,591.2L1135,587M1142.9,582.8L1135,587M1190,584L1176.5,584M1184.4,588.2L1176.5,584M1184.4,579.8L1176.5,584M766,644L773,644M765.1,639.8L773,644M765.1,648.2L773,644M810,644L822.5,644M814.6,639.8L822.5,644M814.6,648.2L822.5,644M852.5,644L865,644M857.1,639.8L865,644M857.1,648.2L865,644M898.5,644L905.5,644M897.6,639.8L905.5,644M897.6,648.2L905.5,644M951.5,644L944.5,644M952.4,648.2L944.5,644M952.4,639.8L944.5,644M976,644L983,644M975.1,639.8L983,644M975.1,648.2L983,644M1037.5,644L1030.5,644M1038.4,648.2L1030.5,644M1038.4,639.8L1030.5,644M1079,644L1072,644M1079.9,648.2L1072,644M1079.9,639.8L1072,644M1120,625.5L1110,625.5M1117.9,629.7L1110,625.5M1117.9,621.3L1110,625.5M1157.5,628L1147.5,628M1155.4,632.2L1147.5,628M1155.4,623.8L1147.5,628M1200,625.5L1189,625.5M1196.9,629.7L1189,625.5M1196.9,621.3L1189,625.5M775,684.5L795,684.5M787.1,680.3L795,684.5M787.1,688.7L795,684.5M815,684.5L837.5,684.5M829.6,680.3L837.5,684.5M829.6,688.7L837.5,684.5M857.5,684.5L882.5,684.5M874.6,680.3L882.5,684.5M874.6,688.7L882.5,684.5M900,684.5L922.5,684.5M914.6,680.3L922.5,684.5M914.6,688.7L922.5,684.5M951,684.5L958,684.5M950.1,680.3L958,684.5M950.1,688.7L958,684.5M992.5,684.5L1005,684.5M997.1,680.3L1005,684.5M997.1,688.7L1005,684.5M1032.5,684.5L1045,684.5M1037.1,680.3L1045,684.5M1037.1,688.7L1045,684.5M1075,684.5L1086,684.5M1078.1,680.3L1086,684.5M1078.1,688.7L1086,684.5M1136.5,666.5L1129.5,666.5M1137.4,670.7L1129.5,666.5M1137.4,662.3L1129.5,666.5M1183,666.5L1176,666.5M1183.9,670.7L1176,666.5M1183.9,662.3L1176,666.5M1226.5,663L1219.5,663M1227.4,667.2L1219.5,663M1227.4,658.8L1219.5,663M771,725.5L778,725.5M770.1,721.3L778,725.5M770.1,729.7L778,725.5M804,725.5L825,725.5M817.1,721.3L825,725.5M817.1,729.7L825,725.5M845,725.5L870,725.5M862.1,721.3L870,725.5M862.1,729.7L870,725.5M885,725.5L915,725.5M907.1,721.3L915,725.5M907.1,729.7L915,725.5M927.5,725.5L955,725.5M947.1,721.3L955,725.5M947.1,729.7L955,725.5M974,725.5L997.5,725.5M989.6,721.3L997.5,725.5M989.6,729.7L997.5,725.5M1017.5,725.5L1040,725.5M1032.1,721.3L1040,725.5M1032.1,729.7L1040,725.5M1062.5,725.5L1077.5,725.5M1069.6,721.3L1077.5,725.5M1069.6,729.7L1077.5,725.5M1108.5,725.5L1115.5,725.5M1107.6,721.3L1115.5,725.5M1107.6,729.7L1115.5,725.5M1141,704L1148,704M1140.1,699.8L1148,704M1140.1,708.2L1148,704M1179.5,707L1186.5,707M1178.6,702.8L1186.5,707M1178.6,711.2L1186.5,707M772.5,766.5L795,766.5M787.1,762.3L795,766.5M787.1,770.7L795,766.5M812.5,766.5L835,766.5M827.1,762.3L835,766.5M827.1,770.7L835,766.5M857.5,766.5L879,766.5M871.1,762.3L879,766.5M871.1,770.7L879,766.5M895,766.5L930,766.5M922.1,762.3L930,766.5M922.1,770.7L930,766.5M940,766.5L972.5,766.5M964.6,762.3L972.5,766.5M964.6,770.7L972.5,766.5M981,766.5L1015,766.5M1007.1,762.3L1015,766.5M1007.1,770.7L1015,766.5M1027.5,766.5L1055,766.5M1047.1,762.3L1055,766.5M1047.1,770.7L1055,766.5M1065,766.5L1092.5,766.5M1084.6,762.3L1092.5,766.5M1084.6,770.7L1092.5,766.5M1107.5,766.5L1132.5,766.5M1124.6,762.3L1132.5,766.5M1124.6,770.7L1132.5,766.5M1157.5,744L1167.5,744M1159.6,739.8L1167.5,744M1159.6,748.2L1167.5,744M1210,744L1222.5,744M1214.6,739.8L1222.5,744M1214.6,748.2L1222.5,744M1185,781.5L1202.5,781.5M1194.6,777.3L1202.5,781.5M1194.6,785.7L1202.5,781.5M771,808L778,808M770.1,803.8L778,808M770.1,812.2L778,808M812.5,808L824,808M816.1,803.8L824,808M816.1,812.2L824,808M867,808L860,808M867.9,812.2L860,808M867.9,803.8L860,808M893.5,808L900.5,808M892.6,803.8L900.5,808M892.6,812.2L900.5,808M922.5,808L962.5,808M954.6,803.8L962.5,808M954.6,812.2L962.5,808M970,808L1002.5,808M994.6,803.8L1002.5,808M994.6,812.2L1002.5,808M1015,808L1042.5,808M1034.6,803.8L1042.5,808M1034.6,812.2L1042.5,808M1060,808L1079,808M1071.1,803.8L1079,808M1071.1,812.2L1079,808M1105,808L1121.5,808M1113.6,803.8L1121.5,808M1113.6,812.2L1121.5,808M1147.5,808L1165,808M1157.1,803.8L1165,808M1157.1,812.2L1165,808M1200,822L1215,822M1207.1,817.8L1215,822M1207.1,826.2L1215,822M776,849L783,849M775.1,844.8L783,849M775.1,853.2L783,849M835,849L824,849M831.9,853.2L824,849M831.9,844.8L824,849M945,849L965,849M957.1,844.8L965,849M957.1,853.2L965,849M990,849L1005,849M997.1,844.8L1005,849M997.1,853.2L1005,849M1032.5,849L1047.5,849M1039.6,844.8L1047.5,849M1039.6,853.2L1047.5,849M1075,849L1090,849M1082.1,844.8L1090,849M1082.1,853.2L1090,849M1120,849L1132.5,849M1124.6,844.8L1132.5,849M1124.6,853.2L1132.5,849M1162.5,849L1175,849M1167.1,844.8L1175,849M1167.1,853.2L1175,849M781,889.5L774,889.5M781.9,893.7L774,889.5M781.9,885.3L774,889.5M1015,889.5L1009,889.5M1016.9,893.7L1009,889.5M1016.9,885.3L1009,889.5M1060,889.5L1067,889.5M1059.1,885.3L1067,889.5M1059.1,893.7L1067,889.5M1122.5,889.5L1129.5,889.5M1121.6,885.3L1129.5,889.5M1121.6,893.7L1129.5,889.5M1175,889.5L1182,889.5M1174.1,885.3L1182,889.5M1174.1,893.7L1182,889.5M1292.5,889.5L1299.5,889.5M1291.6,885.3L1299.5,889.5M1291.6,893.7L1299.5,889.5" fill="none" stroke="#404040" stroke-width="1.3"/></g>
<rect x="86.3" y="48" width="460.7" height="350" fill="none" stroke="#000" stroke-width="2.6"/>
<text x="190" y="434.5" font-size="24" text-anchor="middle">100<tspan font-size="15.4" dy="-11.5">o</tspan><tspan dy="11.5">E</tspan></text>
<text x="319.7" y="434.5" font-size="24" text-anchor="middle">110<tspan font-size="15.4" dy="-11.5">o</tspan><tspan dy="11.5">E</tspan></text>
<text x="449.4" y="434.5" font-size="24" text-anchor="middle">120<tspan font-size="15.4" dy="-11.5">o</tspan><tspan dy="11.5">E</tspan></text>
<path d="M190,398v12.5M319.7,398v12.5M449.4,398v12.5" stroke="#000" stroke-width="2.6" fill="none"/>
<path d="M86.2,398v6.3M112.2,398v6.3M138.1,398v6.3M164.1,398v6.3M215.9,398v6.3M241.9,398v6.3M267.8,398v6.3M293.8,398v6.3M345.6,398v6.3M371.6,398v6.3M397.5,398v6.3M423.5,398v6.3M475.3,398v6.3M501.3,398v6.3M527.2,398v6.3" stroke="#000" stroke-width="1.6" fill="none"/>
<text x="71.3" y="355.9" font-size="24" text-anchor="end">10<tspan font-size="15.4" dy="-11.5">o</tspan><tspan dy="11.5">N</tspan></text>
<text x="71.3" y="226.2" font-size="24" text-anchor="end">20<tspan font-size="15.4" dy="-11.5">o</tspan><tspan dy="11.5">N</tspan></text>
<text x="71.3" y="96.5" font-size="24" text-anchor="end">30<tspan font-size="15.4" dy="-11.5">o</tspan><tspan dy="11.5">N</tspan></text>
<path d="M86.3,346.4h-12.5M86.3,216.7h-12.5M86.3,87h-12.5" stroke="#000" stroke-width="2.6" fill="none"/>
<path d="M86.3,398.3h-6.3M86.3,372.3h-6.3M86.3,320.5h-6.3M86.3,294.5h-6.3M86.3,268.6h-6.3M86.3,242.6h-6.3M86.3,190.8h-6.3M86.3,164.8h-6.3M86.3,138.9h-6.3M86.3,112.9h-6.3M86.3,61.1h-6.3" stroke="#000" stroke-width="1.6" fill="none"/>
<rect x="588.3" y="52.3" width="28.1" height="48.7" fill="#e5432a" stroke="#000" stroke-width="1.3"/>
<rect x="588.3" y="101" width="28.1" height="48.7" fill="#f5762b" stroke="#000" stroke-width="1.3"/>
<rect x="588.3" y="149.8" width="28.1" height="48.7" fill="#fc9d2f" stroke="#000" stroke-width="1.3"/>
<rect x="588.3" y="198.5" width="28.1" height="48.7" fill="#fdc65e" stroke="#000" stroke-width="1.3"/>
<rect x="588.3" y="247.3" width="28.1" height="48.7" fill="#feeca6" stroke="#000" stroke-width="1.3"/>
<rect x="588.3" y="296" width="28.1" height="48.7" fill="#fff9e3" stroke="#000" stroke-width="1.3"/>
<rect x="588.3" y="344.8" width="28.1" height="48.7" fill="#ffffff" stroke="#000" stroke-width="1.3"/>
<text x="636.3" y="109.6" font-size="24" text-anchor="middle">29</text>
<text x="636.3" y="158.4" font-size="24" text-anchor="middle">24</text>
<text x="636.3" y="207.1" font-size="24" text-anchor="middle">19</text>
<text x="636.3" y="255.9" font-size="24" text-anchor="middle">14</text>
<text x="636.3" y="304.6" font-size="24" text-anchor="middle">9</text>
<text x="636.3" y="353.4" font-size="24" text-anchor="middle">4</text>
<text transform="translate(572,370) rotate(-90)" font-size="22.8" text-anchor="start">Column water vapor (kg m<tspan font-size="14.5" dy="-7.5">-2</tspan><tspan dy="7.5">)</tspan></text>
<rect x="474" y="51.8" width="69.3" height="37" fill="#fff" stroke="#000" stroke-width="1.5"/>
<text x="508.9" y="74.3" font-size="20.4" text-anchor="middle">5 m/s</text>
<path d="M487.3,80.7H525.7" stroke="#000" stroke-width="1.3" fill="none"/>
<path d="M529.7,80.7l-8.7,-3.6l4,3.6l-4,3.6z" fill="#fff" stroke="#000" stroke-width="1.1" stroke-linejoin="miter"/>
<text x="-2.6" y="39.3" font-size="56">a</text>
<rect x="770.5" y="48" width="460.7" height="350" fill="none" stroke="#000" stroke-width="2.6"/>
<text x="874.2" y="434.5" font-size="24" text-anchor="middle">100<tspan font-size="15.4" dy="-11.5">o</tspan><tspan dy="11.5">E</tspan></text>
<text x="1003.7" y="434.5" font-size="24" text-anchor="middle">110<tspan font-size="15.4" dy="-11.5">o</tspan><tspan dy="11.5">E</tspan></text>
<text x="1133.2" y="434.5" font-size="24" text-anchor="middle">120<tspan font-size="15.4" dy="-11.5">o</tspan><tspan dy="11.5">E</tspan></text>
<path d="M874.2,398v12.5M1003.7,398v12.5M1133.2,398v12.5" stroke="#000" stroke-width="2.6" fill="none"/>
<path d="M770.6,398v6.3M796.5,398v6.3M822.4,398v6.3M848.3,398v6.3M900.1,398v6.3M926,398v6.3M951.9,398v6.3M977.8,398v6.3M1029.6,398v6.3M1055.5,398v6.3M1081.4,398v6.3M1107.3,398v6.3M1159.1,398v6.3M1185,398v6.3M1210.9,398v6.3" stroke="#000" stroke-width="1.6" fill="none"/>
<text x="755.5" y="355.9" font-size="24" text-anchor="end">10<tspan font-size="15.4" dy="-11.5">o</tspan><tspan dy="11.5">N</tspan></text>
<text x="755.5" y="226.2" font-size="24" text-anchor="end">20<tspan font-size="15.4" dy="-11.5">o</tspan><tspan dy="11.5">N</tspan></text>
<text x="755.5" y="96.5" font-size="24" text-anchor="end">30<tspan font-size="15.4" dy="-11.5">o</tspan><tspan dy="11.5">N</tspan></text>
<path d="M770.5,346.4h-12.5M770.5,216.7h-12.5M770.5,87h-12.5" stroke="#000" stroke-width="2.6" fill="none"/>
<path d="M770.5,398.3h-6.3M770.5,372.3h-6.3M770.5,320.5h-6.3M770.5,294.5h-6.3M770.5,268.6h-6.3M770.5,242.6h-6.3M770.5,190.8h-6.3M770.5,164.8h-6.3M770.5,138.9h-6.3M770.5,112.9h-6.3M770.5,61.1h-6.3" stroke="#000" stroke-width="1.6" fill="none"/>
<rect x="1270.6" y="52.8" width="28.2" height="28.4" fill="#f58a2e" stroke="#000" stroke-width="1.3"/>
<rect x="1270.6" y="81.2" width="28.2" height="28.4" fill="#fba232" stroke="#000" stroke-width="1.3"/>
<rect x="1270.6" y="109.5" width="28.2" height="28.4" fill="#fdbb4c" stroke="#000" stroke-width="1.3"/>
<rect x="1270.6" y="137.9" width="28.2" height="28.4" fill="#fdd57e" stroke="#000" stroke-width="1.3"/>
<rect x="1270.6" y="166.3" width="28.2" height="28.4" fill="#fff2cd" stroke="#000" stroke-width="1.3"/>
<rect x="1270.6" y="194.6" width="28.2" height="28.4" fill="#ffffff" stroke="#000" stroke-width="1.3"/>
<rect x="1270.6" y="223" width="28.2" height="28.4" fill="#ffffff" stroke="#000" stroke-width="1.3"/>
<rect x="1270.6" y="251.4" width="28.2" height="28.4" fill="#e1f2fa" stroke="#000" stroke-width="1.3"/>
<rect x="1270.6" y="279.7" width="28.2" height="28.4" fill="#b7e2f5" stroke="#000" stroke-width="1.3"/>
<rect x="1270.6" y="308.1" width="28.2" height="28.4" fill="#86c6ec" stroke="#000" stroke-width="1.3"/>
<rect x="1270.6" y="336.5" width="28.2" height="28.4" fill="#4f96d2" stroke="#000" stroke-width="1.3"/>
<rect x="1270.6" y="364.8" width="28.2" height="28.4" fill="#3a72b9" stroke="#000" stroke-width="1.3"/>
<text x="1322" y="89.8" font-size="24" text-anchor="middle">10</text>
<text x="1322" y="118.1" font-size="24" text-anchor="middle">8</text>
<text x="1322" y="146.5" font-size="24" text-anchor="middle">6</text>
<text x="1322" y="174.9" font-size="24" text-anchor="middle">4</text>
<text x="1322" y="203.2" font-size="24" text-anchor="middle">2</text>
<text x="1322" y="231.6" font-size="24" text-anchor="middle">0</text>
<text x="1322" y="260" font-size="24" text-anchor="middle">-2</text>
<text x="1322" y="288.3" font-size="24" text-anchor="middle">-4</text>
<text x="1322" y="316.7" font-size="24" text-anchor="middle">-6</text>
<text x="1322" y="345.1" font-size="24" text-anchor="middle">-8</text>
<text x="1322" y="373.4" font-size="24" text-anchor="middle">-10</text>
<text transform="translate(1255,425.5) rotate(-90)" font-size="22.8" text-anchor="start">Column water vapor difference ratio (%)</text>
<rect x="1158" y="51.8" width="69.8" height="37" fill="#fff" stroke="#000" stroke-width="1.5"/>
<text x="1193.2" y="74.3" font-size="20.4" text-anchor="middle">5 m/s</text>
<path d="M1172,80.8H1210" stroke="#000" stroke-width="1.3" fill="none"/>
<path d="M1214,80.8l-8.7,-3.6l4,3.6l-4,3.6z" fill="#fff" stroke="#000" stroke-width="1.1" stroke-linejoin="miter"/>
<text x="681" y="39.3" font-size="56">b</text>
<rect x="85.6" y="520.8" width="461.4" height="369.2" fill="none" stroke="#000" stroke-width="2.6"/>
<text x="190.4" y="925.5" font-size="24" text-anchor="middle">100<tspan font-size="15.4" dy="-11.5">o</tspan><tspan dy="11.5">E</tspan></text>
<text x="321.4" y="925.5" font-size="24" text-anchor="middle">110<tspan font-size="15.4" dy="-11.5">o</tspan><tspan dy="11.5">E</tspan></text>
<text x="452.4" y="925.5" font-size="24" text-anchor="middle">120<tspan font-size="15.4" dy="-11.5">o</tspan><tspan dy="11.5">E</tspan></text>
<path d="M190.4,890v11.5M321.4,890v11.5M452.4,890v11.5" stroke="#000" stroke-width="2.6" fill="none"/>
<path d="M85.6,890v6.3M111.8,890v6.3M138,890v6.3M164.2,890v6.3M216.6,890v6.3M242.8,890v6.3M269,890v6.3M295.2,890v6.3M347.6,890v6.3M373.8,890v6.3M400,890v6.3M426.2,890v6.3M478.6,890v6.3M504.8,890v6.3M531,890v6.3" stroke="#000" stroke-width="1.6" fill="none"/>
<text x="72.1" y="827" font-size="24" text-anchor="end" letter-spacing="0.5">1.0</text>
<text x="72.1" y="752.7" font-size="24" text-anchor="end" letter-spacing="0.5">2.0</text>
<text x="72.1" y="678.4" font-size="24" text-anchor="end" letter-spacing="0.5">3.0</text>
<text x="72.1" y="604.1" font-size="24" text-anchor="end" letter-spacing="0.5">4.0</text>
<text x="72.1" y="529.8" font-size="24" text-anchor="end" letter-spacing="0.5">5.0</text>
<path d="M85.6,818h-9.5M85.6,743.7h-9.5M85.6,669.4h-9.5M85.6,595.1h-9.5M85.6,520.8h-9.5" stroke="#000" stroke-width="2.6" fill="none"/>
<rect x="589.3" y="526.8" width="27.9" height="51.4" fill="#e5432a" stroke="#000" stroke-width="1.3"/>
<rect x="589.3" y="578.2" width="27.9" height="51.4" fill="#f5762b" stroke="#000" stroke-width="1.3"/>
<rect x="589.3" y="629.6" width="27.9" height="51.4" fill="#fc9d2f" stroke="#000" stroke-width="1.3"/>
<rect x="589.3" y="681" width="27.9" height="51.4" fill="#fdc65e" stroke="#000" stroke-width="1.3"/>
<rect x="589.3" y="732.4" width="27.9" height="51.4" fill="#feeca6" stroke="#000" stroke-width="1.3"/>
<rect x="589.3" y="783.8" width="27.9" height="51.4" fill="#fff9e3" stroke="#000" stroke-width="1.3"/>
<rect x="589.3" y="835.2" width="27.9" height="51.4" fill="#ffffff" stroke="#000" stroke-width="1.3"/>
<text x="637" y="586.8" font-size="24" text-anchor="middle">12</text>
<text x="637" y="638.2" font-size="24" text-anchor="middle">10</text>
<text x="637" y="689.6" font-size="24" text-anchor="middle">8</text>
<text x="637" y="741" font-size="24" text-anchor="middle">6</text>
<text x="637" y="792.4" font-size="24" text-anchor="middle">4</text>
<text x="637" y="843.8" font-size="24" text-anchor="middle">2</text>
<text transform="translate(573,816.5) rotate(-90)" font-size="22.8" text-anchor="start">Water vapor (g kg<tspan font-size="14.5" dy="-7.5">-1</tspan><tspan dy="7.5">)</tspan></text>
<rect x="473.6" y="524.8" width="70" height="37.6" fill="#fff" stroke="#000" stroke-width="1.5"/>
<text x="508.6" y="547" font-size="20.4" text-anchor="middle">5 m/s</text>
<path d="M489.9,554.6H522.2" stroke="#222" stroke-width="1.3" fill="none"/>
<path d="M526.2,554.6l-8.7,-3.6l4,3.6l-4,3.6z" fill="#fff" stroke="#222" stroke-width="1.1" stroke-linejoin="miter"/>
<text transform="translate(28,773.6) rotate(-90)" font-size="30.5" text-anchor="start">Altitude (km)</text>
<text x="-2" y="503" font-size="56">c</text>
<rect x="770.7" y="520.8" width="460.9" height="368.2" fill="none" stroke="#000" stroke-width="2.6"/>
<text x="875.9" y="925.5" font-size="24" text-anchor="middle">100<tspan font-size="15.4" dy="-11.5">o</tspan><tspan dy="11.5">E</tspan></text>
<text x="1006.4" y="925.5" font-size="24" text-anchor="middle">110<tspan font-size="15.4" dy="-11.5">o</tspan><tspan dy="11.5">E</tspan></text>
<text x="1136.9" y="925.5" font-size="24" text-anchor="middle">120<tspan font-size="15.4" dy="-11.5">o</tspan><tspan dy="11.5">E</tspan></text>
<path d="M875.9,889v11.5M1006.4,889v11.5M1136.9,889v11.5" stroke="#000" stroke-width="2.6" fill="none"/>
<path d="M771.5,889v6.3M797.6,889v6.3M823.7,889v6.3M849.8,889v6.3M902,889v6.3M928.1,889v6.3M954.2,889v6.3M980.3,889v6.3M1032.5,889v6.3M1058.6,889v6.3M1084.7,889v6.3M1110.8,889v6.3M1163,889v6.3M1189.1,889v6.3M1215.2,889v6.3" stroke="#000" stroke-width="1.6" fill="none"/>
<text x="757.2" y="827" font-size="24" text-anchor="end" letter-spacing="0.5">1.0</text>
<text x="757.2" y="752.7" font-size="24" text-anchor="end" letter-spacing="0.5">2.0</text>
<text x="757.2" y="678.4" font-size="24" text-anchor="end" letter-spacing="0.5">3.0</text>
<text x="757.2" y="604.1" font-size="24" text-anchor="end" letter-spacing="0.5">4.0</text>
<text x="757.2" y="529.8" font-size="24" text-anchor="end" letter-spacing="0.5">5.0</text>
<path d="M770.7,818h-9.5M770.7,743.7h-9.5M770.7,669.4h-9.5M770.7,595.1h-9.5M770.7,520.8h-9.5" stroke="#000" stroke-width="2.6" fill="none"/>
<rect x="1270.7" y="524.2" width="27.7" height="29.9" fill="#f58a2e" stroke="#000" stroke-width="1.3"/>
<rect x="1270.7" y="554.1" width="27.7" height="29.9" fill="#fba232" stroke="#000" stroke-width="1.3"/>
<rect x="1270.7" y="584" width="27.7" height="29.9" fill="#fdbb4c" stroke="#000" stroke-width="1.3"/>
<rect x="1270.7" y="613.9" width="27.7" height="29.9" fill="#fdd57e" stroke="#000" stroke-width="1.3"/>
<rect x="1270.7" y="643.8" width="27.7" height="29.9" fill="#fff2cd" stroke="#000" stroke-width="1.3"/>
<rect x="1270.7" y="673.7" width="27.7" height="29.9" fill="#ffffff" stroke="#000" stroke-width="1.3"/>
<rect x="1270.7" y="703.5" width="27.7" height="29.9" fill="#ffffff" stroke="#000" stroke-width="1.3"/>
<rect x="1270.7" y="733.4" width="27.7" height="29.9" fill="#e1f2fa" stroke="#000" stroke-width="1.3"/>
<rect x="1270.7" y="763.3" width="27.7" height="29.9" fill="#b7e2f5" stroke="#000" stroke-width="1.3"/>
<rect x="1270.7" y="793.2" width="27.7" height="29.9" fill="#86c6ec" stroke="#000" stroke-width="1.3"/>
<rect x="1270.7" y="823.1" width="27.7" height="29.9" fill="#4f96d2" stroke="#000" stroke-width="1.3"/>
<rect x="1270.7" y="853" width="27.7" height="29.9" fill="#3a72b9" stroke="#000" stroke-width="1.3"/>
<text x="1327.5" y="562.7" font-size="24" text-anchor="middle">1</text>
<text x="1327.5" y="592.6" font-size="24" text-anchor="middle">0.8</text>
<text x="1327.5" y="622.5" font-size="24" text-anchor="middle">0.6</text>
<text x="1327.5" y="652.4" font-size="24" text-anchor="middle">0.4</text>
<text x="1327.5" y="682.3" font-size="24" text-anchor="middle">0.2</text>
<text x="1327.5" y="712.1" font-size="24" text-anchor="middle">0</text>
<text x="1327.5" y="742" font-size="24" text-anchor="middle">-0.2</text>
<text x="1327.5" y="771.9" font-size="24" text-anchor="middle">-0.4</text>
<text x="1327.5" y="801.8" font-size="24" text-anchor="middle">-0.6</text>
<text x="1327.5" y="831.7" font-size="24" text-anchor="middle">-0.8</text>
<text x="1327.5" y="861.6" font-size="24" text-anchor="middle">-1</text>
<text transform="translate(1256,866.5) rotate(-90)" font-size="22.8" text-anchor="start">Water vapor difference (g kg<tspan font-size="14.5" dy="-7.5">-1</tspan><tspan dy="7.5">)</tspan></text>
<rect x="1158" y="524.8" width="70" height="37.6" fill="#fff" stroke="#000" stroke-width="1.5"/>
<text x="1193" y="547" font-size="20.4" text-anchor="middle">1 m/s</text>
<path d="M1174.7,554.6H1207" stroke="#222" stroke-width="1.3" fill="none"/>
<path d="M1211,554.6l-8.7,-3.6l4,3.6l-4,3.6z" fill="#fff" stroke="#222" stroke-width="1.1" stroke-linejoin="miter"/>
<text transform="translate(712.5,773.6) rotate(-90)" font-size="30.5" text-anchor="start">Altitude (km)</text>
<text x="680" y="503" font-size="56">d</text>
</svg>
</body></html>
